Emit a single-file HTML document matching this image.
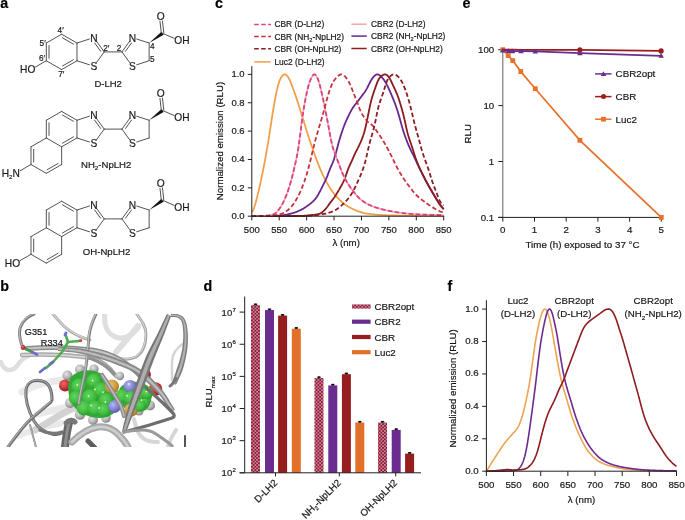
<!DOCTYPE html>
<html><head><meta charset="utf-8"><style>
html,body{margin:0;padding:0;background:#fff;}
svg{display:block;font-family:"Liberation Sans", sans-serif;will-change:transform;} text{stroke:currentColor;stroke-width:0.18px;}
</style></head><body>
<svg width="685" height="520" viewBox="0 0 685 520">
<rect width="685" height="520" fill="#fff"/>
<text x="0.30" y="7.90" font-size="14.3" text-anchor="start" font-weight="bold" fill="#000" >a</text>
<text x="215.00" y="7.90" font-size="14.3" text-anchor="start" font-weight="bold" fill="#000" >c</text>
<text x="462.60" y="7.90" font-size="14.3" text-anchor="start" font-weight="bold" fill="#000" >e</text>
<text x="0.30" y="291.10" font-size="14.3" text-anchor="start" font-weight="bold" fill="#000" >b</text>
<text x="203.60" y="291.10" font-size="14.3" text-anchor="start" font-weight="bold" fill="#000" >d</text>
<text x="447.60" y="291.10" font-size="14.3" text-anchor="start" font-weight="bold" fill="#000" >f</text>
<polyline points="251.80,212.34 252.07,211.94 252.35,211.51 252.62,211.04 252.90,210.53 253.17,209.97 253.45,209.37 253.72,208.72 254.00,208.01 254.27,207.26 254.55,206.45 254.82,205.60 255.09,204.71 255.37,203.77 255.64,202.80 255.92,201.79 256.19,200.76 256.47,199.70 256.74,198.62 257.02,197.52 257.29,196.41 257.57,195.28 257.84,194.15 258.11,193.00 258.39,191.85 258.66,190.68 258.94,189.51 259.21,188.33 259.49,187.13 259.76,185.93 260.04,184.71 260.31,183.47 260.59,182.22 260.86,180.96 261.13,179.68 261.41,178.39 261.68,177.08 261.96,175.76 262.23,174.42 262.51,173.07 262.78,171.71 263.06,170.33 263.33,168.95 263.61,167.55 263.88,166.13 264.15,164.71 264.43,163.27 264.70,161.82 264.98,160.35 265.25,158.87 265.53,157.38 265.80,155.87 266.08,154.34 266.35,152.80 266.62,151.25 266.90,149.67 267.17,148.08 267.45,146.48 267.72,144.85 268.00,143.21 268.27,141.54 268.55,139.86 268.82,138.15 269.10,136.43 269.37,134.68 269.64,132.92 269.92,131.14 270.19,129.35 270.47,127.54 270.74,125.73 271.02,123.92 271.29,122.11 271.57,120.30 271.84,118.51 272.12,116.73 272.39,114.97 272.66,113.23 272.94,111.51 273.21,109.81 273.49,108.14 273.76,106.50 274.04,104.88 274.31,103.30 274.59,101.74 274.86,100.21 275.14,98.71 275.41,97.25 275.68,95.83 275.96,94.45 276.23,93.11 276.51,91.82 276.78,90.58 277.06,89.38 277.33,88.24 277.61,87.15 277.88,86.10 278.16,85.11 278.43,84.17 278.70,83.28 278.98,82.43 279.25,81.64 279.53,80.89 279.80,80.19 280.08,79.54 280.35,78.93 280.63,78.38 280.90,77.86 281.18,77.38 281.45,76.94 281.72,76.54 282.00,76.18 282.27,75.84 282.55,75.54 282.82,75.28 283.10,75.04 283.37,74.84 283.65,74.68 283.92,74.55 284.20,74.46 284.47,74.41 284.74,74.40 285.02,74.43 285.29,74.50 285.57,74.60 285.84,74.74 286.12,74.92 286.39,75.13 286.67,75.38 286.94,75.65 287.22,75.95 287.49,76.28 287.76,76.64 288.04,77.03 288.31,77.45 288.59,77.89 288.86,78.37 289.14,78.88 289.41,79.42 289.69,79.99 289.96,80.58 290.23,81.21 290.51,81.86 290.78,82.53 291.06,83.21 291.33,83.91 291.61,84.63 291.88,85.35 292.16,86.08 292.43,86.81 292.71,87.55 292.98,88.29 293.25,89.04 293.53,89.79 293.80,90.54 294.08,91.30 294.35,92.07 294.63,92.84 294.90,93.62 295.18,94.41 295.45,95.20 295.73,96.00 296.00,96.81 296.27,97.62 296.55,98.44 296.82,99.27 297.10,100.11 297.37,100.95 297.65,101.80 297.92,102.66 298.20,103.52 298.47,104.39 298.75,105.26 299.02,106.14 299.29,107.02 299.57,107.90 299.84,108.79 300.12,109.68 300.39,110.56 300.67,111.45 300.94,112.34 301.22,113.23 301.49,114.12 301.77,115.00 302.04,115.89 302.31,116.77 302.59,117.66 302.86,118.54 303.14,119.43 303.41,120.31 303.69,121.20 303.96,122.08 304.24,122.96 304.51,123.85 304.79,124.73 305.06,125.61 305.33,126.49 305.61,127.37 305.88,128.25 306.16,129.12 306.43,129.99 306.71,130.86 306.98,131.73 307.26,132.59 307.53,133.45 307.81,134.31 308.08,135.16 308.35,136.01 308.63,136.85 308.90,137.69 309.18,138.53 309.45,139.37 309.73,140.20 310.00,141.03 310.28,141.85 310.55,142.67 310.83,143.49 311.10,144.31 311.37,145.12 311.65,145.92 311.92,146.73 312.20,147.53 312.47,148.32 312.75,149.11 313.02,149.90 313.30,150.68 313.57,151.46 313.84,152.23 314.12,153.00 314.39,153.77 314.67,154.53 314.94,155.29 315.22,156.05 315.49,156.80 315.77,157.55 316.04,158.30 316.32,159.04 316.59,159.78 316.86,160.52 317.14,161.25 317.41,161.97 317.69,162.69 317.96,163.41 318.24,164.11 318.51,164.81 318.79,165.51 319.06,166.19 319.34,166.87 319.61,167.54 319.88,168.20 320.16,168.86 320.43,169.50 320.71,170.14 320.98,170.77 321.26,171.39 321.53,172.00 321.81,172.60 322.08,173.20 322.36,173.79 322.63,174.38 322.90,174.95 323.18,175.52 323.45,176.09 323.73,176.64 324.00,177.20 324.28,177.74 324.55,178.28 324.83,178.81 325.10,179.34 325.38,179.86 325.65,180.38 325.92,180.89 326.20,181.39 326.47,181.89 326.75,182.39 327.02,182.88 327.30,183.36 327.57,183.84 327.85,184.32 328.12,184.79 328.40,185.26 328.67,185.72 328.94,186.18 329.22,186.63 329.49,187.08 329.77,187.52 330.04,187.95 330.32,188.38 330.59,188.81 330.87,189.23 331.14,189.64 331.42,190.05 331.69,190.45 331.96,190.85 332.24,191.24 332.51,191.62 332.79,192.00 333.06,192.37 333.34,192.73 333.61,193.09 333.89,193.45 334.16,193.80 334.44,194.15 334.71,194.49 334.98,194.82 335.26,195.15 335.53,195.48 335.81,195.81 336.08,196.12 336.36,196.44 336.63,196.75 336.91,197.06 337.18,197.36 337.45,197.66 337.73,197.95 338.00,198.24 338.28,198.53 338.55,198.81 338.83,199.09 339.10,199.37 339.38,199.65 339.65,199.92 339.93,200.18 340.20,200.45 340.47,200.71 340.75,200.97 341.02,201.22 341.30,201.47 341.57,201.72 341.85,201.97 342.12,202.21 342.40,202.45 342.67,202.68 342.95,202.91 343.22,203.14 343.49,203.36 343.77,203.57 344.04,203.79 344.32,203.99 344.59,204.20 344.87,204.40 345.14,204.59 345.42,204.78 345.69,204.97 345.97,205.15 346.24,205.33 346.51,205.51 346.79,205.68 347.06,205.86 347.34,206.03 347.61,206.20 347.89,206.36 348.16,206.53 348.44,206.69 348.71,206.85 348.99,207.01 349.26,207.17 349.53,207.32 349.81,207.48 350.08,207.63 350.36,207.78 350.63,207.93 350.91,208.07 351.18,208.22 351.46,208.36 351.73,208.50 352.01,208.64 352.28,208.78 352.55,208.91 352.83,209.05 353.10,209.18 353.38,209.31 353.65,209.43 353.93,209.56 354.20,209.68 354.48,209.80 354.75,209.92 355.03,210.04 355.30,210.16 355.57,210.27 355.85,210.38 356.12,210.49 356.40,210.60 356.67,210.71 356.95,210.81 357.22,210.91 357.50,211.01 357.77,211.11 358.05,211.21 358.32,211.31 358.59,211.41 358.87,211.50 359.14,211.60 359.42,211.69 359.69,211.78 359.97,211.87 360.24,211.96 360.52,212.05 360.79,212.14 361.06,212.23 361.34,212.31 361.61,212.40 361.89,212.48 362.16,212.56 362.44,212.64 362.71,212.71 362.99,212.79 363.26,212.86 363.54,212.93 363.81,213.00 364.08,213.07 364.36,213.13 364.63,213.19 364.91,213.25 365.18,213.31 365.46,213.36 365.73,213.41 366.01,213.46 366.28,213.51 366.56,213.56 366.83,213.60 367.10,213.64 367.38,213.68 367.65,213.72 367.93,213.76 368.20,213.79 368.48,213.83 368.75,213.86 369.03,213.90 369.30,213.93 369.58,213.96 369.85,213.99 370.12,214.03 370.40,214.06 370.67,214.09 370.95,214.12 371.22,214.15 371.50,214.18 371.77,214.21 372.05,214.24 372.32,214.27 372.60,214.30 372.87,214.32 373.14,214.35 373.42,214.38 373.69,214.41 373.97,214.43 374.24,214.46 374.52,214.48 374.79,214.51 375.07,214.53 375.34,214.56 375.62,214.58 375.89,214.61 376.16,214.63 376.44,214.66 376.71,214.68 376.99,214.70 377.26,214.72 377.54,214.75 377.81,214.77 378.09,214.79 378.36,214.81 378.64,214.83 378.91,214.85 379.18,214.87 379.46,214.89 379.73,214.91 380.01,214.93 380.28,214.94 380.56,214.96 380.83,214.98 381.11,215.00 381.38,215.01 381.66,215.03 381.93,215.05 382.20,215.06 382.48,215.08 382.75,215.09 383.03,215.11 383.30,215.12 383.58,215.14 383.85,215.15 384.13,215.16 384.40,215.18 384.67,215.19 384.95,215.20 385.22,215.21 385.50,215.23 385.77,215.24 386.05,215.25 386.32,215.26 386.60,215.27 386.87,215.28 387.15,215.29 387.42,215.30 387.69,215.31 387.97,215.32 388.24,215.32 388.52,215.33 388.79,215.34 389.07,215.35 389.34,215.36 389.62,215.36 389.89,215.37 390.17,215.38 390.44,215.39 390.71,215.39 390.99,215.40 391.26,215.41 391.54,215.41 391.81,215.42 392.09,215.43 392.36,215.43 392.64,215.44 392.91,215.44 393.19,215.45 393.46,215.46 393.73,215.46 394.01,215.47 394.28,215.47 394.56,215.48 394.83,215.49 395.11,215.49 395.38,215.50 395.66,215.50 395.93,215.51 396.21,215.51 396.48,215.52 396.75,215.52 397.03,215.53 397.30,215.54 397.58,215.54 397.85,215.55 398.13,215.55 398.40,215.56 398.68,215.56 398.95,215.56 399.23,215.57 399.50,215.57 399.77,215.58 400.05,215.58 400.32,215.59 400.60,215.59 400.87,215.60 401.15,215.60 401.42,215.61 401.70,215.61 401.97,215.61 402.25,215.62 402.52,215.62 402.79,215.63 403.07,215.63 403.34,215.63 403.62,215.64 403.89,215.64 404.17,215.65 404.44,215.65 404.72,215.65 404.99,215.66 405.27,215.66 405.54,215.66 405.81,215.67 406.09,215.67 406.36,215.67 406.64,215.68 406.91,215.68 407.19,215.68 407.46,215.69 407.74,215.69 408.01,215.69 408.28,215.70 408.56,215.70 408.83,215.70 409.11,215.71 409.38,215.71 409.66,215.71 409.93,215.72 410.21,215.72 410.48,215.72 410.76,215.72 411.03,215.73 411.30,215.73 411.58,215.73 411.85,215.73 412.13,215.74 412.40,215.74 412.68,215.74 412.95,215.74 413.23,215.75 413.50,215.75 413.78,215.75 414.05,215.75 414.32,215.76 414.60,215.76 414.87,215.76 415.15,215.76 415.42,215.77 415.70,215.77 415.97,215.77 416.25,215.77 416.52,215.77 416.80,215.78 417.07,215.78 417.34,215.78 417.62,215.78 417.89,215.79 418.17,215.79 418.44,215.79 418.72,215.79 418.99,215.79 419.27,215.80 419.54,215.80 419.82,215.80 420.09,215.80 420.36,215.80 420.64,215.81 420.91,215.81 421.19,215.81 421.46,215.81 421.74,215.81 422.01,215.82 422.29,215.82 422.56,215.82 422.84,215.82 423.11,215.82 423.38,215.83 423.66,215.83 423.93,215.83 424.21,215.83 424.48,215.83 424.76,215.84 425.03,215.84 425.31,215.84 425.58,215.84 425.86,215.84 426.13,215.85 426.40,215.85 426.68,215.85 426.95,215.85 427.23,215.85 427.50,215.86 427.78,215.86 428.05,215.86 428.33,215.86 428.60,215.86 428.88,215.86 429.15,215.87 429.42,215.87 429.70,215.87 429.97,215.87 430.25,215.87 430.52,215.87 430.80,215.88 431.07,215.88 431.35,215.88 431.62,215.88 431.89,215.88 432.17,215.88 432.44,215.88 432.72,215.89 432.99,215.89 433.27,215.89 433.54,215.89 433.82,215.89 434.09,215.89 434.37,215.89 434.64,215.89 434.91,215.90 435.19,215.90 435.46,215.90 435.74,215.90 436.01,215.90 436.29,215.90 436.56,215.90 436.84,215.90 437.11,215.90 437.39,215.90 437.66,215.91 437.93,215.91 438.21,215.91 438.48,215.91 438.76,215.91 439.03,215.91 439.31,215.91 439.58,215.91 439.86,215.91 440.13,215.91 440.41,215.91 440.68,215.91 440.95,215.91 441.23,215.91 441.50,215.91 441.78,215.91 442.05,215.91 442.33,215.91 442.60,215.91 442.88,215.91 443.15,215.91 443.43,215.91 443.70,215.92" fill="none" stroke="#f0a04b" stroke-width="1.8" stroke-linejoin="round"/>
<polyline points="251.80,216.20 252.07,216.20 252.35,216.20 252.62,216.20 252.90,216.20 253.17,216.20 253.45,216.20 253.72,216.20 254.00,216.19 254.27,216.19 254.55,216.19 254.82,216.19 255.09,216.19 255.37,216.19 255.64,216.19 255.92,216.19 256.19,216.18 256.47,216.18 256.74,216.18 257.02,216.18 257.29,216.18 257.57,216.17 257.84,216.17 258.11,216.17 258.39,216.17 258.66,216.16 258.94,216.16 259.21,216.16 259.49,216.15 259.76,216.15 260.04,216.15 260.31,216.14 260.59,216.14 260.86,216.14 261.13,216.13 261.41,216.13 261.68,216.12 261.96,216.12 262.23,216.12 262.51,216.11 262.78,216.11 263.06,216.10 263.33,216.10 263.61,216.09 263.88,216.09 264.15,216.08 264.43,216.08 264.70,216.07 264.98,216.07 265.25,216.06 265.53,216.05 265.80,216.05 266.08,216.04 266.35,216.04 266.62,216.03 266.90,216.02 267.17,216.02 267.45,216.01 267.72,216.01 268.00,216.00 268.27,215.99 268.55,215.99 268.82,215.98 269.10,215.97 269.37,215.96 269.64,215.96 269.92,215.95 270.19,215.94 270.47,215.93 270.74,215.93 271.02,215.92 271.29,215.91 271.57,215.90 271.84,215.89 272.12,215.89 272.39,215.88 272.66,215.87 272.94,215.86 273.21,215.85 273.49,215.84 273.76,215.83 274.04,215.82 274.31,215.81 274.59,215.80 274.86,215.80 275.14,215.79 275.41,215.78 275.68,215.77 275.96,215.76 276.23,215.75 276.51,215.74 276.78,215.73 277.06,215.71 277.33,215.70 277.61,215.69 277.88,215.68 278.16,215.67 278.43,215.66 278.70,215.64 278.98,215.63 279.25,215.61 279.53,215.60 279.80,215.58 280.08,215.56 280.35,215.54 280.63,215.52 280.90,215.49 281.18,215.47 281.45,215.44 281.72,215.41 282.00,215.38 282.27,215.35 282.55,215.31 282.82,215.27 283.10,215.23 283.37,215.19 283.65,215.15 283.92,215.11 284.20,215.06 284.47,215.02 284.74,214.97 285.02,214.92 285.29,214.87 285.57,214.82 285.84,214.77 286.12,214.71 286.39,214.66 286.67,214.60 286.94,214.54 287.22,214.49 287.49,214.43 287.76,214.37 288.04,214.31 288.31,214.24 288.59,214.18 288.86,214.12 289.14,214.06 289.41,213.99 289.69,213.93 289.96,213.86 290.23,213.80 290.51,213.73 290.78,213.66 291.06,213.59 291.33,213.52 291.61,213.45 291.88,213.38 292.16,213.30 292.43,213.23 292.71,213.15 292.98,213.07 293.25,212.99 293.53,212.90 293.80,212.82 294.08,212.73 294.35,212.64 294.63,212.54 294.90,212.45 295.18,212.35 295.45,212.25 295.73,212.15 296.00,212.04 296.27,211.94 296.55,211.83 296.82,211.72 297.10,211.61 297.37,211.50 297.65,211.38 297.92,211.27 298.20,211.15 298.47,211.03 298.75,210.91 299.02,210.78 299.29,210.66 299.57,210.53 299.84,210.40 300.12,210.27 300.39,210.14 300.67,210.01 300.94,209.87 301.22,209.73 301.49,209.59 301.77,209.45 302.04,209.30 302.31,209.15 302.59,209.00 302.86,208.85 303.14,208.69 303.41,208.52 303.69,208.36 303.96,208.19 304.24,208.02 304.51,207.85 304.79,207.67 305.06,207.49 305.33,207.31 305.61,207.12 305.88,206.93 306.16,206.75 306.43,206.55 306.71,206.36 306.98,206.16 307.26,205.97 307.53,205.77 307.81,205.57 308.08,205.37 308.35,205.16 308.63,204.96 308.90,204.75 309.18,204.55 309.45,204.34 309.73,204.13 310.00,203.91 310.28,203.70 310.55,203.49 310.83,203.27 311.10,203.05 311.37,202.82 311.65,202.59 311.92,202.36 312.20,202.12 312.47,201.88 312.75,201.64 313.02,201.38 313.30,201.13 313.57,200.86 313.84,200.59 314.12,200.30 314.39,200.01 314.67,199.71 314.94,199.40 315.22,199.07 315.49,198.74 315.77,198.38 316.04,198.02 316.32,197.63 316.59,197.24 316.86,196.82 317.14,196.39 317.41,195.95 317.69,195.49 317.96,195.03 318.24,194.55 318.51,194.06 318.79,193.56 319.06,193.06 319.34,192.55 319.61,192.03 319.88,191.51 320.16,190.99 320.43,190.46 320.71,189.93 320.98,189.39 321.26,188.85 321.53,188.31 321.81,187.76 322.08,187.22 322.36,186.67 322.63,186.12 322.90,185.57 323.18,185.01 323.45,184.46 323.73,183.91 324.00,183.36 324.28,182.80 324.55,182.25 324.83,181.68 325.10,181.11 325.38,180.54 325.65,179.94 325.92,179.34 326.20,178.72 326.47,178.08 326.75,177.42 327.02,176.74 327.30,176.05 327.57,175.34 327.85,174.62 328.12,173.89 328.40,173.16 328.67,172.43 328.94,171.71 329.22,170.99 329.49,170.29 329.77,169.60 330.04,168.92 330.32,168.26 330.59,167.60 330.87,166.96 331.14,166.32 331.42,165.68 331.69,165.04 331.96,164.40 332.24,163.75 332.51,163.08 332.79,162.40 333.06,161.70 333.34,160.97 333.61,160.22 333.89,159.44 334.16,158.63 334.44,157.80 334.71,156.93 334.98,156.04 335.26,155.12 335.53,154.18 335.81,153.21 336.08,152.23 336.36,151.23 336.63,150.22 336.91,149.20 337.18,148.17 337.45,147.15 337.73,146.12 338.00,145.10 338.28,144.09 338.55,143.09 338.83,142.10 339.10,141.12 339.38,140.16 339.65,139.22 339.93,138.30 340.20,137.39 340.47,136.49 340.75,135.61 341.02,134.75 341.30,133.90 341.57,133.06 341.85,132.23 342.12,131.41 342.40,130.61 342.67,129.81 342.95,129.03 343.22,128.26 343.49,127.50 343.77,126.75 344.04,126.01 344.32,125.29 344.59,124.59 344.87,123.89 345.14,123.22 345.42,122.55 345.69,121.91 345.97,121.27 346.24,120.65 346.51,120.05 346.79,119.45 347.06,118.87 347.34,118.29 347.61,117.72 347.89,117.15 348.16,116.58 348.44,116.02 348.71,115.46 348.99,114.89 349.26,114.33 349.53,113.77 349.81,113.21 350.08,112.66 350.36,112.12 350.63,111.59 350.91,111.06 351.18,110.55 351.46,110.06 351.73,109.58 352.01,109.12 352.28,108.68 352.55,108.25 352.83,107.83 353.10,107.43 353.38,107.03 353.65,106.65 353.93,106.28 354.20,105.91 354.48,105.55 354.75,105.19 355.03,104.84 355.30,104.49 355.57,104.14 355.85,103.79 356.12,103.44 356.40,103.08 356.67,102.73 356.95,102.38 357.22,102.02 357.50,101.66 357.77,101.30 358.05,100.94 358.32,100.58 358.59,100.22 358.87,99.86 359.14,99.50 359.42,99.13 359.69,98.77 359.97,98.41 360.24,98.04 360.52,97.68 360.79,97.32 361.06,96.95 361.34,96.59 361.61,96.23 361.89,95.86 362.16,95.50 362.44,95.14 362.71,94.78 362.99,94.41 363.26,94.05 363.54,93.68 363.81,93.31 364.08,92.93 364.36,92.55 364.63,92.16 364.91,91.76 365.18,91.35 365.46,90.93 365.73,90.50 366.01,90.05 366.28,89.59 366.56,89.11 366.83,88.61 367.10,88.10 367.38,87.57 367.65,87.02 367.93,86.47 368.20,85.91 368.48,85.34 368.75,84.77 369.03,84.21 369.30,83.65 369.58,83.09 369.85,82.56 370.12,82.03 370.40,81.53 370.67,81.04 370.95,80.57 371.22,80.12 371.50,79.68 371.77,79.26 372.05,78.86 372.32,78.47 372.60,78.10 372.87,77.74 373.14,77.39 373.42,77.05 373.69,76.73 373.97,76.42 374.24,76.13 374.52,75.85 374.79,75.60 375.07,75.36 375.34,75.15 375.62,74.96 375.89,74.80 376.16,74.66 376.44,74.55 376.71,74.47 376.99,74.42 377.26,74.40 377.54,74.41 377.81,74.44 378.09,74.50 378.36,74.58 378.64,74.69 378.91,74.82 379.18,74.98 379.46,75.15 379.73,75.34 380.01,75.56 380.28,75.78 380.56,76.02 380.83,76.28 381.11,76.55 381.38,76.83 381.66,77.12 381.93,77.42 382.20,77.72 382.48,78.04 382.75,78.37 383.03,78.70 383.30,79.05 383.58,79.40 383.85,79.77 384.13,80.15 384.40,80.55 384.67,80.96 384.95,81.39 385.22,81.83 385.50,82.29 385.77,82.77 386.05,83.26 386.32,83.77 386.60,84.30 386.87,84.83 387.15,85.38 387.42,85.94 387.69,86.50 387.97,87.07 388.24,87.65 388.52,88.23 388.79,88.82 389.07,89.42 389.34,90.01 389.62,90.61 389.89,91.22 390.17,91.83 390.44,92.45 390.71,93.08 390.99,93.71 391.26,94.34 391.54,94.99 391.81,95.64 392.09,96.30 392.36,96.96 392.64,97.63 392.91,98.30 393.19,98.98 393.46,99.67 393.73,100.37 394.01,101.07 394.28,101.77 394.56,102.49 394.83,103.21 395.11,103.94 395.38,104.68 395.66,105.43 395.93,106.19 396.21,106.96 396.48,107.75 396.75,108.55 397.03,109.36 397.30,110.20 397.58,111.05 397.85,111.92 398.13,112.80 398.40,113.71 398.68,114.63 398.95,115.57 399.23,116.53 399.50,117.50 399.77,118.48 400.05,119.47 400.32,120.47 400.60,121.47 400.87,122.47 401.15,123.47 401.42,124.46 401.70,125.44 401.97,126.42 402.25,127.38 402.52,128.32 402.79,129.25 403.07,130.17 403.34,131.06 403.62,131.93 403.89,132.79 404.17,133.62 404.44,134.44 404.72,135.25 404.99,136.03 405.27,136.81 405.54,137.57 405.81,138.31 406.09,139.05 406.36,139.77 406.64,140.49 406.91,141.19 407.19,141.88 407.46,142.57 407.74,143.24 408.01,143.91 408.28,144.57 408.56,145.22 408.83,145.86 409.11,146.49 409.38,147.11 409.66,147.72 409.93,148.32 410.21,148.92 410.48,149.50 410.76,150.08 411.03,150.64 411.30,151.21 411.58,151.76 411.85,152.31 412.13,152.85 412.40,153.39 412.68,153.93 412.95,154.47 413.23,155.01 413.50,155.55 413.78,156.10 414.05,156.65 414.32,157.20 414.60,157.77 414.87,158.34 415.15,158.92 415.42,159.51 415.70,160.11 415.97,160.71 416.25,161.32 416.52,161.94 416.80,162.55 417.07,163.17 417.34,163.79 417.62,164.40 417.89,165.00 418.17,165.59 418.44,166.18 418.72,166.75 418.99,167.32 419.27,167.87 419.54,168.41 419.82,168.95 420.09,169.48 420.36,170.00 420.64,170.52 420.91,171.04 421.19,171.56 421.46,172.08 421.74,172.61 422.01,173.13 422.29,173.66 422.56,174.20 422.84,174.74 423.11,175.27 423.38,175.82 423.66,176.36 423.93,176.90 424.21,177.45 424.48,177.99 424.76,178.53 425.03,179.07 425.31,179.61 425.58,180.15 425.86,180.68 426.13,181.21 426.40,181.73 426.68,182.25 426.95,182.77 427.23,183.28 427.50,183.79 427.78,184.29 428.05,184.79 428.33,185.29 428.60,185.79 428.88,186.28 429.15,186.77 429.42,187.25 429.70,187.74 429.97,188.22 430.25,188.70 430.52,189.17 430.80,189.64 431.07,190.11 431.35,190.58 431.62,191.05 431.89,191.51 432.17,191.97 432.44,192.43 432.72,192.89 432.99,193.34 433.27,193.79 433.54,194.24 433.82,194.69 434.09,195.13 434.37,195.58 434.64,196.02 434.91,196.46 435.19,196.90 435.46,197.33 435.74,197.77 436.01,198.20 436.29,198.64 436.56,199.07 436.84,199.49 437.11,199.92 437.39,200.34 437.66,200.77 437.93,201.18 438.21,201.60 438.48,202.01 438.76,202.42 439.03,202.83 439.31,203.23 439.58,203.63 439.86,204.02 440.13,204.42 440.41,204.80 440.68,205.18 440.95,205.56 441.23,205.93 441.50,206.30 441.78,206.66 442.05,207.02 442.33,207.37 442.60,207.72 442.88,208.06 443.15,208.40 443.43,208.73 443.70,209.06" fill="none" stroke="#68288f" stroke-width="1.8" stroke-linejoin="round"/>
<polyline points="251.80,216.20 252.07,216.20 252.35,216.20 252.62,216.20 252.90,216.20 253.17,216.20 253.45,216.20 253.72,216.20 254.00,216.20 254.27,216.20 254.55,216.20 254.82,216.20 255.09,216.20 255.37,216.20 255.64,216.20 255.92,216.20 256.19,216.20 256.47,216.20 256.74,216.20 257.02,216.20 257.29,216.20 257.57,216.20 257.84,216.20 258.11,216.20 258.39,216.20 258.66,216.20 258.94,216.20 259.21,216.20 259.49,216.19 259.76,216.19 260.04,216.19 260.31,216.19 260.59,216.19 260.86,216.19 261.13,216.19 261.41,216.19 261.68,216.19 261.96,216.19 262.23,216.19 262.51,216.19 262.78,216.19 263.06,216.19 263.33,216.19 263.61,216.19 263.88,216.19 264.15,216.19 264.43,216.19 264.70,216.18 264.98,216.18 265.25,216.18 265.53,216.18 265.80,216.18 266.08,216.18 266.35,216.18 266.62,216.18 266.90,216.18 267.17,216.18 267.45,216.18 267.72,216.18 268.00,216.18 268.27,216.17 268.55,216.17 268.82,216.17 269.10,216.17 269.37,216.17 269.64,216.17 269.92,216.17 270.19,216.17 270.47,216.17 270.74,216.17 271.02,216.16 271.29,216.16 271.57,216.16 271.84,216.16 272.12,216.16 272.39,216.16 272.66,216.16 272.94,216.16 273.21,216.16 273.49,216.15 273.76,216.15 274.04,216.15 274.31,216.15 274.59,216.15 274.86,216.15 275.14,216.15 275.41,216.15 275.68,216.14 275.96,216.14 276.23,216.14 276.51,216.14 276.78,216.14 277.06,216.14 277.33,216.14 277.61,216.13 277.88,216.13 278.16,216.13 278.43,216.13 278.70,216.13 278.98,216.13 279.25,216.12 279.53,216.12 279.80,216.12 280.08,216.12 280.35,216.12 280.63,216.12 280.90,216.11 281.18,216.11 281.45,216.11 281.72,216.11 282.00,216.11 282.27,216.10 282.55,216.10 282.82,216.10 283.10,216.10 283.37,216.10 283.65,216.09 283.92,216.09 284.20,216.09 284.47,216.09 284.74,216.09 285.02,216.08 285.29,216.08 285.57,216.08 285.84,216.08 286.12,216.08 286.39,216.07 286.67,216.07 286.94,216.07 287.22,216.07 287.49,216.06 287.76,216.06 288.04,216.06 288.31,216.06 288.59,216.05 288.86,216.05 289.14,216.05 289.41,216.05 289.69,216.04 289.96,216.04 290.23,216.04 290.51,216.04 290.78,216.03 291.06,216.03 291.33,216.03 291.61,216.03 291.88,216.02 292.16,216.02 292.43,216.02 292.71,216.01 292.98,216.01 293.25,216.01 293.53,216.01 293.80,216.00 294.08,216.00 294.35,216.00 294.63,215.99 294.90,215.99 295.18,215.99 295.45,215.99 295.73,215.98 296.00,215.98 296.27,215.98 296.55,215.97 296.82,215.97 297.10,215.97 297.37,215.96 297.65,215.96 297.92,215.96 298.20,215.95 298.47,215.95 298.75,215.95 299.02,215.94 299.29,215.94 299.57,215.93 299.84,215.93 300.12,215.93 300.39,215.92 300.67,215.92 300.94,215.91 301.22,215.90 301.49,215.90 301.77,215.89 302.04,215.88 302.31,215.87 302.59,215.86 302.86,215.85 303.14,215.83 303.41,215.82 303.69,215.80 303.96,215.79 304.24,215.77 304.51,215.75 304.79,215.73 305.06,215.71 305.33,215.69 305.61,215.67 305.88,215.65 306.16,215.62 306.43,215.60 306.71,215.57 306.98,215.55 307.26,215.52 307.53,215.50 307.81,215.47 308.08,215.44 308.35,215.42 308.63,215.39 308.90,215.36 309.18,215.34 309.45,215.31 309.73,215.28 310.00,215.25 310.28,215.23 310.55,215.20 310.83,215.17 311.10,215.15 311.37,215.12 311.65,215.09 311.92,215.06 312.20,215.04 312.47,215.01 312.75,214.98 313.02,214.96 313.30,214.93 313.57,214.90 313.84,214.87 314.12,214.84 314.39,214.81 314.67,214.77 314.94,214.74 315.22,214.70 315.49,214.67 315.77,214.63 316.04,214.59 316.32,214.55 316.59,214.50 316.86,214.46 317.14,214.41 317.41,214.35 317.69,214.30 317.96,214.24 318.24,214.17 318.51,214.10 318.79,214.02 319.06,213.93 319.34,213.84 319.61,213.73 319.88,213.61 320.16,213.48 320.43,213.34 320.71,213.19 320.98,213.02 321.26,212.84 321.53,212.65 321.81,212.45 322.08,212.24 322.36,212.02 322.63,211.80 322.90,211.57 323.18,211.33 323.45,211.09 323.73,210.83 324.00,210.58 324.28,210.31 324.55,210.04 324.83,209.76 325.10,209.47 325.38,209.18 325.65,208.87 325.92,208.56 326.20,208.23 326.47,207.90 326.75,207.55 327.02,207.19 327.30,206.82 327.57,206.44 327.85,206.06 328.12,205.67 328.40,205.28 328.67,204.89 328.94,204.50 329.22,204.11 329.49,203.73 329.77,203.35 330.04,202.98 330.32,202.61 330.59,202.25 330.87,201.90 331.14,201.55 331.42,201.20 331.69,200.85 331.96,200.50 332.24,200.15 332.51,199.80 332.79,199.44 333.06,199.08 333.34,198.71 333.61,198.34 333.89,197.96 334.16,197.57 334.44,197.18 334.71,196.78 334.98,196.37 335.26,195.95 335.53,195.53 335.81,195.11 336.08,194.67 336.36,194.24 336.63,193.79 336.91,193.35 337.18,192.89 337.45,192.44 337.73,191.98 338.00,191.52 338.28,191.05 338.55,190.58 338.83,190.11 339.10,189.63 339.38,189.15 339.65,188.67 339.93,188.19 340.20,187.71 340.47,187.22 340.75,186.73 341.02,186.24 341.30,185.75 341.57,185.24 341.85,184.74 342.12,184.22 342.40,183.70 342.67,183.16 342.95,182.62 343.22,182.06 343.49,181.48 343.77,180.89 344.04,180.27 344.32,179.64 344.59,178.98 344.87,178.29 345.14,177.58 345.42,176.85 345.69,176.09 345.97,175.31 346.24,174.52 346.51,173.71 346.79,172.91 347.06,172.10 347.34,171.31 347.61,170.53 347.89,169.77 348.16,169.04 348.44,168.33 348.71,167.65 348.99,166.99 349.26,166.36 349.53,165.75 349.81,165.16 350.08,164.57 350.36,164.00 350.63,163.42 350.91,162.84 351.18,162.26 351.46,161.66 351.73,161.06 352.01,160.45 352.28,159.82 352.55,159.19 352.83,158.55 353.10,157.90 353.38,157.26 353.65,156.62 353.93,155.98 354.20,155.36 354.48,154.75 354.75,154.15 355.03,153.57 355.30,152.99 355.57,152.43 355.85,151.88 356.12,151.34 356.40,150.81 356.67,150.28 356.95,149.75 357.22,149.22 357.50,148.69 357.77,148.15 358.05,147.62 358.32,147.07 358.59,146.52 358.87,145.96 359.14,145.39 359.42,144.81 359.69,144.22 359.97,143.62 360.24,143.01 360.52,142.39 360.79,141.76 361.06,141.12 361.34,140.46 361.61,139.79 361.89,139.11 362.16,138.40 362.44,137.67 362.71,136.92 362.99,136.15 363.26,135.34 363.54,134.51 363.81,133.64 364.08,132.73 364.36,131.79 364.63,130.80 364.91,129.77 365.18,128.71 365.46,127.59 365.73,126.44 366.01,125.25 366.28,124.02 366.56,122.75 366.83,121.45 367.10,120.13 367.38,118.77 367.65,117.40 367.93,116.02 368.20,114.63 368.48,113.24 368.75,111.86 369.03,110.49 369.30,109.14 369.58,107.82 369.85,106.53 370.12,105.27 370.40,104.06 370.67,102.88 370.95,101.75 371.22,100.65 371.50,99.60 371.77,98.59 372.05,97.62 372.32,96.69 372.60,95.78 372.87,94.90 373.14,94.05 373.42,93.22 373.69,92.40 373.97,91.60 374.24,90.80 374.52,90.01 374.79,89.23 375.07,88.44 375.34,87.66 375.62,86.88 375.89,86.11 376.16,85.34 376.44,84.58 376.71,83.84 376.99,83.12 377.26,82.43 377.54,81.76 377.81,81.13 378.09,80.54 378.36,79.99 378.64,79.48 378.91,79.01 379.18,78.57 379.46,78.17 379.73,77.81 380.01,77.47 380.28,77.15 380.56,76.86 380.83,76.59 381.11,76.33 381.38,76.09 381.66,75.87 381.93,75.65 382.20,75.46 382.48,75.27 382.75,75.10 383.03,74.95 383.30,74.81 383.58,74.69 383.85,74.59 384.13,74.51 384.40,74.45 384.67,74.41 384.95,74.40 385.22,74.41 385.50,74.45 385.77,74.52 386.05,74.62 386.32,74.74 386.60,74.90 386.87,75.08 387.15,75.29 387.42,75.53 387.69,75.80 387.97,76.09 388.24,76.40 388.52,76.74 388.79,77.11 389.07,77.50 389.34,77.92 389.62,78.37 389.89,78.83 390.17,79.33 390.44,79.84 390.71,80.38 390.99,80.93 391.26,81.50 391.54,82.08 391.81,82.67 392.09,83.26 392.36,83.86 392.64,84.45 392.91,85.04 393.19,85.63 393.46,86.22 393.73,86.81 394.01,87.39 394.28,87.97 394.56,88.55 394.83,89.14 395.11,89.72 395.38,90.32 395.66,90.92 395.93,91.53 396.21,92.15 396.48,92.79 396.75,93.44 397.03,94.11 397.30,94.81 397.58,95.52 397.85,96.26 398.13,97.02 398.40,97.80 398.68,98.61 398.95,99.44 399.23,100.28 399.50,101.15 399.77,102.04 400.05,102.94 400.32,103.84 400.60,104.76 400.87,105.69 401.15,106.62 401.42,107.57 401.70,108.52 401.97,109.48 402.25,110.46 402.52,111.45 402.79,112.47 403.07,113.51 403.34,114.59 403.62,115.70 403.89,116.84 404.17,118.02 404.44,119.23 404.72,120.46 404.99,121.72 405.27,122.99 405.54,124.26 405.81,125.54 406.09,126.79 406.36,128.03 406.64,129.23 406.91,130.40 407.19,131.53 407.46,132.62 407.74,133.66 408.01,134.66 408.28,135.62 408.56,136.55 408.83,137.44 409.11,138.30 409.38,139.14 409.66,139.96 409.93,140.77 410.21,141.57 410.48,142.37 410.76,143.16 411.03,143.96 411.30,144.76 411.58,145.58 411.85,146.40 412.13,147.24 412.40,148.09 412.68,148.96 412.95,149.83 413.23,150.71 413.50,151.60 413.78,152.49 414.05,153.37 414.32,154.24 414.60,155.11 414.87,155.96 415.15,156.79 415.42,157.60 415.70,158.38 415.97,159.15 416.25,159.90 416.52,160.62 416.80,161.33 417.07,162.02 417.34,162.70 417.62,163.36 417.89,164.01 418.17,164.66 418.44,165.29 418.72,165.92 418.99,166.55 419.27,167.17 419.54,167.78 419.82,168.40 420.09,169.01 420.36,169.61 420.64,170.21 420.91,170.81 421.19,171.41 421.46,171.99 421.74,172.58 422.01,173.15 422.29,173.72 422.56,174.29 422.84,174.85 423.11,175.41 423.38,175.96 423.66,176.51 423.93,177.05 424.21,177.59 424.48,178.12 424.76,178.66 425.03,179.18 425.31,179.71 425.58,180.23 425.86,180.75 426.13,181.27 426.40,181.78 426.68,182.29 426.95,182.80 427.23,183.30 427.50,183.80 427.78,184.30 428.05,184.80 428.33,185.29 428.60,185.78 428.88,186.27 429.15,186.76 429.42,187.24 429.70,187.72 429.97,188.20 430.25,188.68 430.52,189.15 430.80,189.62 431.07,190.09 431.35,190.56 431.62,191.03 431.89,191.49 432.17,191.96 432.44,192.42 432.72,192.88 432.99,193.34 433.27,193.81 433.54,194.27 433.82,194.73 434.09,195.20 434.37,195.66 434.64,196.13 434.91,196.60 435.19,197.07 435.46,197.54 435.74,198.01 436.01,198.48 436.29,198.95 436.56,199.42 436.84,199.89 437.11,200.35 437.39,200.81 437.66,201.27 437.93,201.73 438.21,202.18 438.48,202.62 438.76,203.05 439.03,203.48 439.31,203.90 439.58,204.31 439.86,204.71 440.13,205.09 440.41,205.47 440.68,205.83 440.95,206.18 441.23,206.52 441.50,206.85 441.78,207.16 442.05,207.46 442.33,207.75 442.60,208.02 442.88,208.29 443.15,208.54 443.43,208.79 443.70,209.03" fill="none" stroke="#8b1c1f" stroke-width="1.8" stroke-linejoin="round"/>
<polyline points="251.80,216.20 252.07,216.20 252.35,216.20 252.62,216.20 252.90,216.19 253.17,216.19 253.45,216.19 253.72,216.19 254.00,216.19 254.27,216.18 254.55,216.18 254.82,216.18 255.09,216.17 255.37,216.17 255.64,216.16 255.92,216.16 256.19,216.16 256.47,216.15 256.74,216.14 257.02,216.14 257.29,216.13 257.57,216.13 257.84,216.12 258.11,216.11 258.39,216.10 258.66,216.10 258.94,216.09 259.21,216.08 259.49,216.07 259.76,216.06 260.04,216.05 260.31,216.04 260.59,216.03 260.86,216.02 261.13,216.01 261.41,216.00 261.68,215.99 261.96,215.98 262.23,215.97 262.51,215.95 262.78,215.94 263.06,215.93 263.33,215.92 263.61,215.90 263.88,215.89 264.15,215.87 264.43,215.86 264.70,215.84 264.98,215.83 265.25,215.81 265.53,215.80 265.80,215.78 266.08,215.76 266.35,215.75 266.62,215.73 266.90,215.71 267.17,215.69 267.45,215.67 267.72,215.64 268.00,215.62 268.27,215.59 268.55,215.56 268.82,215.53 269.10,215.49 269.37,215.45 269.64,215.40 269.92,215.35 270.19,215.30 270.47,215.24 270.74,215.18 271.02,215.11 271.29,215.03 271.57,214.96 271.84,214.87 272.12,214.79 272.39,214.70 272.66,214.60 272.94,214.50 273.21,214.39 273.49,214.28 273.76,214.16 274.04,214.04 274.31,213.91 274.59,213.76 274.86,213.61 275.14,213.45 275.41,213.27 275.68,213.07 275.96,212.86 276.23,212.64 276.51,212.39 276.78,212.13 277.06,211.85 277.33,211.55 277.61,211.23 277.88,210.90 278.16,210.55 278.43,210.19 278.70,209.82 278.98,209.43 279.25,209.04 279.53,208.63 279.80,208.22 280.08,207.79 280.35,207.36 280.63,206.93 280.90,206.48 281.18,206.02 281.45,205.56 281.72,205.09 282.00,204.60 282.27,204.11 282.55,203.60 282.82,203.09 283.10,202.56 283.37,202.01 283.65,201.46 283.92,200.89 284.20,200.31 284.47,199.72 284.74,199.11 285.02,198.50 285.29,197.86 285.57,197.22 285.84,196.56 286.12,195.88 286.39,195.19 286.67,194.48 286.94,193.76 287.22,193.02 287.49,192.26 287.76,191.48 288.04,190.69 288.31,189.88 288.59,189.06 288.86,188.21 289.14,187.35 289.41,186.47 289.69,185.58 289.96,184.67 290.23,183.74 290.51,182.80 290.78,181.84 291.06,180.86 291.33,179.86 291.61,178.85 291.88,177.81 292.16,176.76 292.43,175.69 292.71,174.59 292.98,173.48 293.25,172.35 293.53,171.21 293.80,170.05 294.08,168.89 294.35,167.71 294.63,166.52 294.90,165.32 295.18,164.12 295.45,162.90 295.73,161.68 296.00,160.43 296.27,159.17 296.55,157.87 296.82,156.54 297.10,155.17 297.37,153.73 297.65,152.24 297.92,150.66 298.20,149.01 298.47,147.27 298.75,145.45 299.02,143.54 299.29,141.55 299.57,139.49 299.84,137.38 300.12,135.22 300.39,133.03 300.67,130.83 300.94,128.64 301.22,126.46 301.49,124.32 301.77,122.21 302.04,120.16 302.31,118.17 302.59,116.23 302.86,114.35 303.14,112.52 303.41,110.76 303.69,109.05 303.96,107.38 304.24,105.77 304.51,104.20 304.79,102.67 305.06,101.18 305.33,99.73 305.61,98.32 305.88,96.94 306.16,95.60 306.43,94.30 306.71,93.02 306.98,91.78 307.26,90.58 307.53,89.42 307.81,88.30 308.08,87.22 308.35,86.18 308.63,85.19 308.90,84.25 309.18,83.36 309.45,82.52 309.73,81.72 310.00,80.97 310.28,80.26 310.55,79.59 310.83,78.96 311.10,78.36 311.37,77.80 311.65,77.28 311.92,76.79 312.20,76.33 312.47,75.92 312.75,75.55 313.02,75.22 313.30,74.94 313.57,74.72 313.84,74.55 314.12,74.45 314.39,74.40 314.67,74.42 314.94,74.50 315.22,74.65 315.49,74.86 315.77,75.14 316.04,75.48 316.32,75.87 316.59,76.32 316.86,76.82 317.14,77.37 317.41,77.97 317.69,78.61 317.96,79.30 318.24,80.04 318.51,80.83 318.79,81.67 319.06,82.55 319.34,83.48 319.61,84.45 319.88,85.47 320.16,86.52 320.43,87.61 320.71,88.73 320.98,89.88 321.26,91.05 321.53,92.24 321.81,93.44 322.08,94.66 322.36,95.89 322.63,97.13 322.90,98.38 323.18,99.65 323.45,100.92 323.73,102.20 324.00,103.50 324.28,104.80 324.55,106.12 324.83,107.45 325.10,108.79 325.38,110.15 325.65,111.51 325.92,112.89 326.20,114.28 326.47,115.69 326.75,117.11 327.02,118.55 327.30,120.01 327.57,121.48 327.85,122.96 328.12,124.46 328.40,125.97 328.67,127.48 328.94,128.99 329.22,130.50 329.49,132.00 329.77,133.48 330.04,134.94 330.32,136.36 330.59,137.76 330.87,139.11 331.14,140.42 331.42,141.67 331.69,142.88 331.96,144.03 332.24,145.13 332.51,146.18 332.79,147.19 333.06,148.14 333.34,149.05 333.61,149.92 333.89,150.76 334.16,151.57 334.44,152.35 334.71,153.11 334.98,153.85 335.26,154.58 335.53,155.29 335.81,156.00 336.08,156.71 336.36,157.41 336.63,158.11 336.91,158.82 337.18,159.53 337.45,160.24 337.73,160.95 338.00,161.67 338.28,162.39 338.55,163.12 338.83,163.85 339.10,164.58 339.38,165.31 339.65,166.04 339.93,166.76 340.20,167.48 340.47,168.20 340.75,168.92 341.02,169.62 341.30,170.32 341.57,171.01 341.85,171.69 342.12,172.35 342.40,173.01 342.67,173.65 342.95,174.28 343.22,174.90 343.49,175.50 343.77,176.09 344.04,176.67 344.32,177.23 344.59,177.78 344.87,178.31 345.14,178.84 345.42,179.36 345.69,179.86 345.97,180.36 346.24,180.85 346.51,181.33 346.79,181.80 347.06,182.27 347.34,182.72 347.61,183.18 347.89,183.62 348.16,184.06 348.44,184.49 348.71,184.92 348.99,185.34 349.26,185.75 349.53,186.16 349.81,186.57 350.08,186.97 350.36,187.37 350.63,187.76 350.91,188.14 351.18,188.53 351.46,188.90 351.73,189.28 352.01,189.65 352.28,190.02 352.55,190.39 352.83,190.75 353.10,191.11 353.38,191.47 353.65,191.82 353.93,192.17 354.20,192.52 354.48,192.87 354.75,193.21 355.03,193.55 355.30,193.88 355.57,194.21 355.85,194.54 356.12,194.86 356.40,195.18 356.67,195.49 356.95,195.80 357.22,196.10 357.50,196.40 357.77,196.69 358.05,196.98 358.32,197.26 358.59,197.53 358.87,197.80 359.14,198.06 359.42,198.32 359.69,198.57 359.97,198.81 360.24,199.05 360.52,199.28 360.79,199.51 361.06,199.74 361.34,199.95 361.61,200.17 361.89,200.38 362.16,200.59 362.44,200.79 362.71,201.00 362.99,201.19 363.26,201.39 363.54,201.58 363.81,201.77 364.08,201.95 364.36,202.14 364.63,202.32 364.91,202.49 365.18,202.67 365.46,202.84 365.73,203.00 366.01,203.17 366.28,203.33 366.56,203.49 366.83,203.64 367.10,203.80 367.38,203.95 367.65,204.09 367.93,204.24 368.20,204.38 368.48,204.52 368.75,204.65 369.03,204.78 369.30,204.91 369.58,205.04 369.85,205.17 370.12,205.29 370.40,205.41 370.67,205.53 370.95,205.64 371.22,205.76 371.50,205.87 371.77,205.98 372.05,206.09 372.32,206.20 372.60,206.31 372.87,206.41 373.14,206.52 373.42,206.62 373.69,206.72 373.97,206.82 374.24,206.92 374.52,207.01 374.79,207.11 375.07,207.20 375.34,207.30 375.62,207.39 375.89,207.48 376.16,207.57 376.44,207.66 376.71,207.74 376.99,207.83 377.26,207.92 377.54,208.00 377.81,208.09 378.09,208.17 378.36,208.25 378.64,208.33 378.91,208.41 379.18,208.49 379.46,208.57 379.73,208.65 380.01,208.73 380.28,208.80 380.56,208.88 380.83,208.96 381.11,209.03 381.38,209.11 381.66,209.18 381.93,209.25 382.20,209.33 382.48,209.40 382.75,209.47 383.03,209.54 383.30,209.61 383.58,209.68 383.85,209.74 384.13,209.81 384.40,209.88 384.67,209.94 384.95,210.01 385.22,210.07 385.50,210.13 385.77,210.20 386.05,210.26 386.32,210.32 386.60,210.38 386.87,210.44 387.15,210.50 387.42,210.55 387.69,210.61 387.97,210.67 388.24,210.72 388.52,210.78 388.79,210.83 389.07,210.89 389.34,210.94 389.62,210.99 389.89,211.05 390.17,211.10 390.44,211.15 390.71,211.20 390.99,211.25 391.26,211.31 391.54,211.36 391.81,211.41 392.09,211.46 392.36,211.51 392.64,211.56 392.91,211.60 393.19,211.65 393.46,211.70 393.73,211.75 394.01,211.80 394.28,211.84 394.56,211.89 394.83,211.94 395.11,211.98 395.38,212.03 395.66,212.08 395.93,212.12 396.21,212.16 396.48,212.21 396.75,212.25 397.03,212.29 397.30,212.34 397.58,212.38 397.85,212.42 398.13,212.46 398.40,212.50 398.68,212.54 398.95,212.58 399.23,212.62 399.50,212.66 399.77,212.70 400.05,212.74 400.32,212.77 400.60,212.81 400.87,212.84 401.15,212.88 401.42,212.91 401.70,212.95 401.97,212.98 402.25,213.02 402.52,213.05 402.79,213.08 403.07,213.11 403.34,213.14 403.62,213.18 403.89,213.21 404.17,213.24 404.44,213.27 404.72,213.30 404.99,213.33 405.27,213.36 405.54,213.39 405.81,213.42 406.09,213.45 406.36,213.47 406.64,213.50 406.91,213.53 407.19,213.56 407.46,213.59 407.74,213.61 408.01,213.64 408.28,213.67 408.56,213.69 408.83,213.72 409.11,213.74 409.38,213.77 409.66,213.79 409.93,213.82 410.21,213.84 410.48,213.87 410.76,213.89 411.03,213.91 411.30,213.93 411.58,213.96 411.85,213.98 412.13,214.00 412.40,214.02 412.68,214.04 412.95,214.06 413.23,214.08 413.50,214.09 413.78,214.11 414.05,214.13 414.32,214.15 414.60,214.16 414.87,214.18 415.15,214.19 415.42,214.21 415.70,214.23 415.97,214.24 416.25,214.25 416.52,214.27 416.80,214.28 417.07,214.30 417.34,214.31 417.62,214.32 417.89,214.33 418.17,214.35 418.44,214.36 418.72,214.37 418.99,214.38 419.27,214.40 419.54,214.41 419.82,214.42 420.09,214.43 420.36,214.44 420.64,214.45 420.91,214.47 421.19,214.48 421.46,214.49 421.74,214.50 422.01,214.51 422.29,214.52 422.56,214.53 422.84,214.54 423.11,214.55 423.38,214.56 423.66,214.57 423.93,214.58 424.21,214.59 424.48,214.60 424.76,214.61 425.03,214.62 425.31,214.63 425.58,214.64 425.86,214.64 426.13,214.65 426.40,214.66 426.68,214.67 426.95,214.68 427.23,214.69 427.50,214.70 427.78,214.71 428.05,214.71 428.33,214.72 428.60,214.73 428.88,214.74 429.15,214.75 429.42,214.76 429.70,214.76 429.97,214.77 430.25,214.78 430.52,214.79 430.80,214.80 431.07,214.81 431.35,214.81 431.62,214.82 431.89,214.83 432.17,214.84 432.44,214.85 432.72,214.85 432.99,214.86 433.27,214.87 433.54,214.88 433.82,214.89 434.09,214.90 434.37,214.90 434.64,214.91 434.91,214.92 435.19,214.93 435.46,214.94 435.74,214.94 436.01,214.95 436.29,214.96 436.56,214.97 436.84,214.98 437.11,214.99 437.39,215.00 437.66,215.00 437.93,215.01 438.21,215.02 438.48,215.03 438.76,215.04 439.03,215.05 439.31,215.06 439.58,215.07 439.86,215.08 440.13,215.09 440.41,215.09 440.68,215.10 440.95,215.11 441.23,215.12 441.50,215.13 441.78,215.14 442.05,215.15 442.33,215.16 442.60,215.17 442.88,215.17 443.15,215.18 443.43,215.19 443.70,215.20" fill="none" stroke="#f4a6a6" stroke-width="1.6" stroke-linejoin="round"/>
<polyline points="251.80,216.20 252.07,216.20 252.35,216.20 252.62,216.20 252.90,216.19 253.17,216.19 253.45,216.19 253.72,216.19 254.00,216.19 254.27,216.18 254.55,216.18 254.82,216.18 255.09,216.17 255.37,216.17 255.64,216.16 255.92,216.16 256.19,216.16 256.47,216.15 256.74,216.14 257.02,216.14 257.29,216.13 257.57,216.13 257.84,216.12 258.11,216.11 258.39,216.10 258.66,216.10 258.94,216.09 259.21,216.08 259.49,216.07 259.76,216.06 260.04,216.05 260.31,216.04 260.59,216.03 260.86,216.02 261.13,216.01 261.41,216.00 261.68,215.99 261.96,215.98 262.23,215.97 262.51,215.95 262.78,215.94 263.06,215.93 263.33,215.92 263.61,215.90 263.88,215.89 264.15,215.87 264.43,215.86 264.70,215.84 264.98,215.83 265.25,215.81 265.53,215.80 265.80,215.78 266.08,215.76 266.35,215.75 266.62,215.73 266.90,215.71 267.17,215.69 267.45,215.67 267.72,215.64 268.00,215.62 268.27,215.59 268.55,215.56 268.82,215.53 269.10,215.49 269.37,215.45 269.64,215.40 269.92,215.35 270.19,215.30 270.47,215.24 270.74,215.18 271.02,215.11 271.29,215.03 271.57,214.96 271.84,214.87 272.12,214.79 272.39,214.70 272.66,214.60 272.94,214.50 273.21,214.39 273.49,214.28 273.76,214.16 274.04,214.04 274.31,213.91 274.59,213.76 274.86,213.61 275.14,213.45 275.41,213.27 275.68,213.07 275.96,212.86 276.23,212.64 276.51,212.39 276.78,212.13 277.06,211.85 277.33,211.55 277.61,211.23 277.88,210.90 278.16,210.55 278.43,210.19 278.70,209.82 278.98,209.43 279.25,209.04 279.53,208.63 279.80,208.22 280.08,207.79 280.35,207.36 280.63,206.93 280.90,206.48 281.18,206.02 281.45,205.56 281.72,205.09 282.00,204.60 282.27,204.11 282.55,203.60 282.82,203.09 283.10,202.56 283.37,202.01 283.65,201.46 283.92,200.89 284.20,200.31 284.47,199.72 284.74,199.11 285.02,198.50 285.29,197.86 285.57,197.22 285.84,196.56 286.12,195.88 286.39,195.19 286.67,194.48 286.94,193.76 287.22,193.02 287.49,192.26 287.76,191.48 288.04,190.69 288.31,189.88 288.59,189.06 288.86,188.21 289.14,187.35 289.41,186.47 289.69,185.58 289.96,184.67 290.23,183.74 290.51,182.80 290.78,181.84 291.06,180.86 291.33,179.86 291.61,178.85 291.88,177.81 292.16,176.76 292.43,175.69 292.71,174.59 292.98,173.48 293.25,172.35 293.53,171.21 293.80,170.05 294.08,168.89 294.35,167.71 294.63,166.52 294.90,165.32 295.18,164.12 295.45,162.90 295.73,161.68 296.00,160.43 296.27,159.17 296.55,157.87 296.82,156.54 297.10,155.17 297.37,153.73 297.65,152.24 297.92,150.66 298.20,149.01 298.47,147.27 298.75,145.45 299.02,143.54 299.29,141.55 299.57,139.49 299.84,137.38 300.12,135.22 300.39,133.03 300.67,130.83 300.94,128.64 301.22,126.46 301.49,124.32 301.77,122.21 302.04,120.16 302.31,118.17 302.59,116.23 302.86,114.35 303.14,112.52 303.41,110.76 303.69,109.05 303.96,107.38 304.24,105.77 304.51,104.20 304.79,102.67 305.06,101.18 305.33,99.73 305.61,98.32 305.88,96.94 306.16,95.60 306.43,94.30 306.71,93.02 306.98,91.78 307.26,90.58 307.53,89.42 307.81,88.30 308.08,87.22 308.35,86.18 308.63,85.19 308.90,84.25 309.18,83.36 309.45,82.52 309.73,81.72 310.00,80.97 310.28,80.26 310.55,79.59 310.83,78.96 311.10,78.36 311.37,77.80 311.65,77.28 311.92,76.79 312.20,76.33 312.47,75.92 312.75,75.55 313.02,75.22 313.30,74.94 313.57,74.72 313.84,74.55 314.12,74.45 314.39,74.40 314.67,74.42 314.94,74.50 315.22,74.65 315.49,74.86 315.77,75.14 316.04,75.48 316.32,75.87 316.59,76.32 316.86,76.82 317.14,77.37 317.41,77.97 317.69,78.61 317.96,79.30 318.24,80.04 318.51,80.83 318.79,81.67 319.06,82.55 319.34,83.48 319.61,84.45 319.88,85.47 320.16,86.52 320.43,87.61 320.71,88.73 320.98,89.88 321.26,91.05 321.53,92.24 321.81,93.44 322.08,94.66 322.36,95.89 322.63,97.13 322.90,98.38 323.18,99.65 323.45,100.92 323.73,102.20 324.00,103.50 324.28,104.80 324.55,106.12 324.83,107.45 325.10,108.79 325.38,110.15 325.65,111.51 325.92,112.89 326.20,114.28 326.47,115.69 326.75,117.11 327.02,118.55 327.30,120.01 327.57,121.48 327.85,122.96 328.12,124.46 328.40,125.97 328.67,127.48 328.94,128.99 329.22,130.50 329.49,132.00 329.77,133.48 330.04,134.94 330.32,136.36 330.59,137.76 330.87,139.11 331.14,140.42 331.42,141.67 331.69,142.88 331.96,144.03 332.24,145.13 332.51,146.18 332.79,147.19 333.06,148.14 333.34,149.05 333.61,149.92 333.89,150.76 334.16,151.57 334.44,152.35 334.71,153.11 334.98,153.85 335.26,154.58 335.53,155.29 335.81,156.00 336.08,156.71 336.36,157.41 336.63,158.11 336.91,158.82 337.18,159.53 337.45,160.24 337.73,160.95 338.00,161.67 338.28,162.39 338.55,163.12 338.83,163.85 339.10,164.58 339.38,165.31 339.65,166.04 339.93,166.76 340.20,167.48 340.47,168.20 340.75,168.92 341.02,169.62 341.30,170.32 341.57,171.01 341.85,171.69 342.12,172.35 342.40,173.01 342.67,173.65 342.95,174.28 343.22,174.90 343.49,175.50 343.77,176.09 344.04,176.67 344.32,177.23 344.59,177.78 344.87,178.31 345.14,178.84 345.42,179.36 345.69,179.86 345.97,180.36 346.24,180.85 346.51,181.33 346.79,181.80 347.06,182.27 347.34,182.72 347.61,183.18 347.89,183.62 348.16,184.06 348.44,184.49 348.71,184.92 348.99,185.34 349.26,185.75 349.53,186.16 349.81,186.57 350.08,186.97 350.36,187.37 350.63,187.76 350.91,188.14 351.18,188.53 351.46,188.90 351.73,189.28 352.01,189.65 352.28,190.02 352.55,190.39 352.83,190.75 353.10,191.11 353.38,191.47 353.65,191.82 353.93,192.17 354.20,192.52 354.48,192.87 354.75,193.21 355.03,193.55 355.30,193.88 355.57,194.21 355.85,194.54 356.12,194.86 356.40,195.18 356.67,195.49 356.95,195.80 357.22,196.10 357.50,196.40 357.77,196.69 358.05,196.98 358.32,197.26 358.59,197.53 358.87,197.80 359.14,198.06 359.42,198.32 359.69,198.57 359.97,198.81 360.24,199.05 360.52,199.28 360.79,199.51 361.06,199.74 361.34,199.95 361.61,200.17 361.89,200.38 362.16,200.59 362.44,200.79 362.71,201.00 362.99,201.19 363.26,201.39 363.54,201.58 363.81,201.77 364.08,201.95 364.36,202.14 364.63,202.32 364.91,202.49 365.18,202.67 365.46,202.84 365.73,203.00 366.01,203.17 366.28,203.33 366.56,203.49 366.83,203.64 367.10,203.80 367.38,203.95 367.65,204.09 367.93,204.24 368.20,204.38 368.48,204.52 368.75,204.65 369.03,204.78 369.30,204.91 369.58,205.04 369.85,205.17 370.12,205.29 370.40,205.41 370.67,205.53 370.95,205.64 371.22,205.76 371.50,205.87 371.77,205.98 372.05,206.09 372.32,206.20 372.60,206.31 372.87,206.41 373.14,206.52 373.42,206.62 373.69,206.72 373.97,206.82 374.24,206.92 374.52,207.01 374.79,207.11 375.07,207.20 375.34,207.30 375.62,207.39 375.89,207.48 376.16,207.57 376.44,207.66 376.71,207.74 376.99,207.83 377.26,207.92 377.54,208.00 377.81,208.09 378.09,208.17 378.36,208.25 378.64,208.33 378.91,208.41 379.18,208.49 379.46,208.57 379.73,208.65 380.01,208.73 380.28,208.80 380.56,208.88 380.83,208.96 381.11,209.03 381.38,209.11 381.66,209.18 381.93,209.25 382.20,209.33 382.48,209.40 382.75,209.47 383.03,209.54 383.30,209.61 383.58,209.68 383.85,209.74 384.13,209.81 384.40,209.88 384.67,209.94 384.95,210.01 385.22,210.07 385.50,210.13 385.77,210.20 386.05,210.26 386.32,210.32 386.60,210.38 386.87,210.44 387.15,210.50 387.42,210.55 387.69,210.61 387.97,210.67 388.24,210.72 388.52,210.78 388.79,210.83 389.07,210.89 389.34,210.94 389.62,210.99 389.89,211.05 390.17,211.10 390.44,211.15 390.71,211.20 390.99,211.25 391.26,211.31 391.54,211.36 391.81,211.41 392.09,211.46 392.36,211.51 392.64,211.56 392.91,211.60 393.19,211.65 393.46,211.70 393.73,211.75 394.01,211.80 394.28,211.84 394.56,211.89 394.83,211.94 395.11,211.98 395.38,212.03 395.66,212.08 395.93,212.12 396.21,212.16 396.48,212.21 396.75,212.25 397.03,212.29 397.30,212.34 397.58,212.38 397.85,212.42 398.13,212.46 398.40,212.50 398.68,212.54 398.95,212.58 399.23,212.62 399.50,212.66 399.77,212.70 400.05,212.74 400.32,212.77 400.60,212.81 400.87,212.84 401.15,212.88 401.42,212.91 401.70,212.95 401.97,212.98 402.25,213.02 402.52,213.05 402.79,213.08 403.07,213.11 403.34,213.14 403.62,213.18 403.89,213.21 404.17,213.24 404.44,213.27 404.72,213.30 404.99,213.33 405.27,213.36 405.54,213.39 405.81,213.42 406.09,213.45 406.36,213.47 406.64,213.50 406.91,213.53 407.19,213.56 407.46,213.59 407.74,213.61 408.01,213.64 408.28,213.67 408.56,213.69 408.83,213.72 409.11,213.74 409.38,213.77 409.66,213.79 409.93,213.82 410.21,213.84 410.48,213.87 410.76,213.89 411.03,213.91 411.30,213.93 411.58,213.96 411.85,213.98 412.13,214.00 412.40,214.02 412.68,214.04 412.95,214.06 413.23,214.08 413.50,214.09 413.78,214.11 414.05,214.13 414.32,214.15 414.60,214.16 414.87,214.18 415.15,214.19 415.42,214.21 415.70,214.23 415.97,214.24 416.25,214.25 416.52,214.27 416.80,214.28 417.07,214.30 417.34,214.31 417.62,214.32 417.89,214.33 418.17,214.35 418.44,214.36 418.72,214.37 418.99,214.38 419.27,214.40 419.54,214.41 419.82,214.42 420.09,214.43 420.36,214.44 420.64,214.45 420.91,214.47 421.19,214.48 421.46,214.49 421.74,214.50 422.01,214.51 422.29,214.52 422.56,214.53 422.84,214.54 423.11,214.55 423.38,214.56 423.66,214.57 423.93,214.58 424.21,214.59 424.48,214.60 424.76,214.61 425.03,214.62 425.31,214.63 425.58,214.64 425.86,214.64 426.13,214.65 426.40,214.66 426.68,214.67 426.95,214.68 427.23,214.69 427.50,214.70 427.78,214.71 428.05,214.71 428.33,214.72 428.60,214.73 428.88,214.74 429.15,214.75 429.42,214.76 429.70,214.76 429.97,214.77 430.25,214.78 430.52,214.79 430.80,214.80 431.07,214.81 431.35,214.81 431.62,214.82 431.89,214.83 432.17,214.84 432.44,214.85 432.72,214.85 432.99,214.86 433.27,214.87 433.54,214.88 433.82,214.89 434.09,214.90 434.37,214.90 434.64,214.91 434.91,214.92 435.19,214.93 435.46,214.94 435.74,214.94 436.01,214.95 436.29,214.96 436.56,214.97 436.84,214.98 437.11,214.99 437.39,215.00 437.66,215.00 437.93,215.01 438.21,215.02 438.48,215.03 438.76,215.04 439.03,215.05 439.31,215.06 439.58,215.07 439.86,215.08 440.13,215.09 440.41,215.09 440.68,215.10 440.95,215.11 441.23,215.12 441.50,215.13 441.78,215.14 442.05,215.15 442.33,215.16 442.60,215.17 442.88,215.17 443.15,215.18 443.43,215.19 443.70,215.20" fill="none" stroke="#d9418a" stroke-width="1.8" stroke-linejoin="round" stroke-dasharray="4.5 2.5"/>
<polyline points="251.80,216.20 252.07,216.20 252.35,216.20 252.62,216.20 252.90,216.20 253.17,216.19 253.45,216.19 253.72,216.19 254.00,216.19 254.27,216.19 254.55,216.19 254.82,216.18 255.09,216.18 255.37,216.18 255.64,216.17 255.92,216.17 256.19,216.17 256.47,216.16 256.74,216.16 257.02,216.16 257.29,216.15 257.57,216.15 257.84,216.14 258.11,216.14 258.39,216.13 258.66,216.13 258.94,216.12 259.21,216.11 259.49,216.11 259.76,216.10 260.04,216.09 260.31,216.09 260.59,216.08 260.86,216.07 261.13,216.07 261.41,216.06 261.68,216.05 261.96,216.04 262.23,216.03 262.51,216.02 262.78,216.02 263.06,216.01 263.33,216.00 263.61,215.99 263.88,215.98 264.15,215.97 264.43,215.96 264.70,215.95 264.98,215.94 265.25,215.93 265.53,215.91 265.80,215.90 266.08,215.89 266.35,215.88 266.62,215.87 266.90,215.86 267.17,215.84 267.45,215.83 267.72,215.82 268.00,215.81 268.27,215.79 268.55,215.78 268.82,215.77 269.10,215.75 269.37,215.74 269.64,215.72 269.92,215.71 270.19,215.69 270.47,215.68 270.74,215.66 271.02,215.65 271.29,215.63 271.57,215.62 271.84,215.60 272.12,215.58 272.39,215.57 272.66,215.55 272.94,215.53 273.21,215.51 273.49,215.49 273.76,215.46 274.04,215.44 274.31,215.41 274.59,215.38 274.86,215.35 275.14,215.32 275.41,215.28 275.68,215.24 275.96,215.20 276.23,215.15 276.51,215.11 276.78,215.06 277.06,215.00 277.33,214.95 277.61,214.89 277.88,214.83 278.16,214.77 278.43,214.70 278.70,214.63 278.98,214.56 279.25,214.49 279.53,214.42 279.80,214.34 280.08,214.26 280.35,214.18 280.63,214.09 280.90,214.00 281.18,213.91 281.45,213.81 281.72,213.71 282.00,213.60 282.27,213.49 282.55,213.37 282.82,213.25 283.10,213.12 283.37,212.98 283.65,212.84 283.92,212.70 284.20,212.55 284.47,212.39 284.74,212.23 285.02,212.07 285.29,211.90 285.57,211.72 285.84,211.54 286.12,211.35 286.39,211.17 286.67,210.97 286.94,210.77 287.22,210.57 287.49,210.36 287.76,210.15 288.04,209.93 288.31,209.70 288.59,209.47 288.86,209.24 289.14,208.99 289.41,208.74 289.69,208.47 289.96,208.20 290.23,207.92 290.51,207.63 290.78,207.33 291.06,207.02 291.33,206.70 291.61,206.37 291.88,206.03 292.16,205.69 292.43,205.33 292.71,204.97 292.98,204.60 293.25,204.22 293.53,203.83 293.80,203.43 294.08,203.03 294.35,202.62 294.63,202.20 294.90,201.78 295.18,201.35 295.45,200.92 295.73,200.47 296.00,200.03 296.27,199.57 296.55,199.10 296.82,198.63 297.10,198.15 297.37,197.65 297.65,197.15 297.92,196.64 298.20,196.11 298.47,195.58 298.75,195.03 299.02,194.47 299.29,193.90 299.57,193.32 299.84,192.72 300.12,192.12 300.39,191.50 300.67,190.87 300.94,190.23 301.22,189.58 301.49,188.93 301.77,188.26 302.04,187.58 302.31,186.89 302.59,186.19 302.86,185.48 303.14,184.76 303.41,184.03 303.69,183.29 303.96,182.53 304.24,181.77 304.51,180.98 304.79,180.19 305.06,179.38 305.33,178.56 305.61,177.72 305.88,176.86 306.16,176.00 306.43,175.11 306.71,174.22 306.98,173.31 307.26,172.38 307.53,171.44 307.81,170.48 308.08,169.51 308.35,168.52 308.63,167.51 308.90,166.49 309.18,165.44 309.45,164.38 309.73,163.30 310.00,162.20 310.28,161.09 310.55,159.96 310.83,158.82 311.10,157.67 311.37,156.52 311.65,155.36 311.92,154.20 312.20,153.05 312.47,151.89 312.75,150.75 313.02,149.61 313.30,148.47 313.57,147.35 313.84,146.24 314.12,145.14 314.39,144.06 314.67,142.98 314.94,141.92 315.22,140.87 315.49,139.84 315.77,138.81 316.04,137.80 316.32,136.80 316.59,135.81 316.86,134.83 317.14,133.86 317.41,132.90 317.69,131.95 317.96,131.00 318.24,130.06 318.51,129.13 318.79,128.20 319.06,127.27 319.34,126.35 319.61,125.43 319.88,124.51 320.16,123.60 320.43,122.68 320.71,121.77 320.98,120.85 321.26,119.93 321.53,119.00 321.81,118.08 322.08,117.14 322.36,116.20 322.63,115.25 322.90,114.30 323.18,113.33 323.45,112.35 323.73,111.37 324.00,110.37 324.28,109.36 324.55,108.35 324.83,107.32 325.10,106.29 325.38,105.26 325.65,104.22 325.92,103.18 326.20,102.14 326.47,101.10 326.75,100.07 327.02,99.05 327.30,98.03 327.57,97.03 327.85,96.05 328.12,95.08 328.40,94.14 328.67,93.21 328.94,92.31 329.22,91.44 329.49,90.59 329.77,89.78 330.04,88.99 330.32,88.23 330.59,87.51 330.87,86.81 331.14,86.15 331.42,85.51 331.69,84.90 331.96,84.32 332.24,83.76 332.51,83.22 332.79,82.71 333.06,82.22 333.34,81.75 333.61,81.29 333.89,80.86 334.16,80.45 334.44,80.05 334.71,79.67 334.98,79.31 335.26,78.96 335.53,78.62 335.81,78.30 336.08,77.98 336.36,77.68 336.63,77.39 336.91,77.11 337.18,76.83 337.45,76.57 337.73,76.32 338.00,76.07 338.28,75.84 338.55,75.62 338.83,75.41 339.10,75.22 339.38,75.04 339.65,74.88 339.93,74.75 340.20,74.63 340.47,74.54 340.75,74.46 341.02,74.42 341.30,74.40 341.57,74.41 341.85,74.44 342.12,74.50 342.40,74.59 342.67,74.70 342.95,74.84 343.22,75.00 343.49,75.19 343.77,75.39 344.04,75.61 344.32,75.85 344.59,76.10 344.87,76.37 345.14,76.66 345.42,76.95 345.69,77.26 345.97,77.59 346.24,77.93 346.51,78.28 346.79,78.65 347.06,79.04 347.34,79.44 347.61,79.86 347.89,80.30 348.16,80.76 348.44,81.23 348.71,81.73 348.99,82.24 349.26,82.77 349.53,83.32 349.81,83.89 350.08,84.47 350.36,85.08 350.63,85.70 350.91,86.34 351.18,87.00 351.46,87.68 351.73,88.37 352.01,89.08 352.28,89.79 352.55,90.51 352.83,91.22 353.10,91.94 353.38,92.65 353.65,93.35 353.93,94.04 354.20,94.72 354.48,95.40 354.75,96.06 355.03,96.72 355.30,97.38 355.57,98.04 355.85,98.71 356.12,99.39 356.40,100.08 356.67,100.79 356.95,101.51 357.22,102.24 357.50,102.99 357.77,103.75 358.05,104.52 358.32,105.29 358.59,106.06 358.87,106.82 359.14,107.56 359.42,108.29 359.69,108.99 359.97,109.67 360.24,110.33 360.52,110.95 360.79,111.55 361.06,112.12 361.34,112.67 361.61,113.20 361.89,113.70 362.16,114.19 362.44,114.66 362.71,115.12 362.99,115.56 363.26,115.99 363.54,116.41 363.81,116.82 364.08,117.22 364.36,117.61 364.63,117.99 364.91,118.37 365.18,118.73 365.46,119.09 365.73,119.44 366.01,119.78 366.28,120.11 366.56,120.43 366.83,120.73 367.10,121.03 367.38,121.32 367.65,121.59 367.93,121.85 368.20,122.11 368.48,122.35 368.75,122.58 369.03,122.80 369.30,123.01 369.58,123.21 369.85,123.41 370.12,123.61 370.40,123.81 370.67,124.00 370.95,124.21 371.22,124.42 371.50,124.63 371.77,124.86 372.05,125.10 372.32,125.36 372.60,125.63 372.87,125.91 373.14,126.21 373.42,126.53 373.69,126.86 373.97,127.20 374.24,127.55 374.52,127.91 374.79,128.28 375.07,128.66 375.34,129.03 375.62,129.42 375.89,129.80 376.16,130.19 376.44,130.58 376.71,130.97 376.99,131.36 377.26,131.75 377.54,132.15 377.81,132.55 378.09,132.95 378.36,133.35 378.64,133.75 378.91,134.16 379.18,134.57 379.46,134.98 379.73,135.39 380.01,135.81 380.28,136.23 380.56,136.65 380.83,137.08 381.11,137.51 381.38,137.94 381.66,138.37 381.93,138.81 382.20,139.25 382.48,139.69 382.75,140.14 383.03,140.58 383.30,141.03 383.58,141.49 383.85,141.95 384.13,142.41 384.40,142.87 384.67,143.34 384.95,143.81 385.22,144.28 385.50,144.76 385.77,145.24 386.05,145.72 386.32,146.21 386.60,146.71 386.87,147.20 387.15,147.71 387.42,148.21 387.69,148.73 387.97,149.24 388.24,149.76 388.52,150.29 388.79,150.82 389.07,151.35 389.34,151.89 389.62,152.43 389.89,152.97 390.17,153.52 390.44,154.06 390.71,154.62 390.99,155.17 391.26,155.72 391.54,156.28 391.81,156.83 392.09,157.39 392.36,157.95 392.64,158.52 392.91,159.08 393.19,159.65 393.46,160.22 393.73,160.79 394.01,161.36 394.28,161.93 394.56,162.49 394.83,163.06 395.11,163.63 395.38,164.19 395.66,164.74 395.93,165.30 396.21,165.84 396.48,166.39 396.75,166.92 397.03,167.45 397.30,167.97 397.58,168.48 397.85,168.99 398.13,169.49 398.40,169.99 398.68,170.48 398.95,170.96 399.23,171.44 399.50,171.92 399.77,172.39 400.05,172.85 400.32,173.31 400.60,173.77 400.87,174.22 401.15,174.67 401.42,175.11 401.70,175.56 401.97,175.99 402.25,176.43 402.52,176.85 402.79,177.28 403.07,177.70 403.34,178.12 403.62,178.54 403.89,178.95 404.17,179.35 404.44,179.76 404.72,180.16 404.99,180.56 405.27,180.95 405.54,181.34 405.81,181.73 406.09,182.11 406.36,182.49 406.64,182.87 406.91,183.25 407.19,183.62 407.46,183.99 407.74,184.36 408.01,184.73 408.28,185.10 408.56,185.47 408.83,185.83 409.11,186.19 409.38,186.56 409.66,186.92 409.93,187.28 410.21,187.64 410.48,188.00 410.76,188.36 411.03,188.73 411.30,189.08 411.58,189.44 411.85,189.80 412.13,190.16 412.40,190.51 412.68,190.86 412.95,191.21 413.23,191.55 413.50,191.89 413.78,192.23 414.05,192.56 414.32,192.88 414.60,193.20 414.87,193.51 415.15,193.82 415.42,194.12 415.70,194.41 415.97,194.69 416.25,194.98 416.52,195.25 416.80,195.52 417.07,195.78 417.34,196.04 417.62,196.29 417.89,196.54 418.17,196.79 418.44,197.03 418.72,197.27 418.99,197.50 419.27,197.73 419.54,197.96 419.82,198.18 420.09,198.41 420.36,198.63 420.64,198.84 420.91,199.06 421.19,199.27 421.46,199.49 421.74,199.70 422.01,199.91 422.29,200.11 422.56,200.32 422.84,200.53 423.11,200.73 423.38,200.94 423.66,201.14 423.93,201.35 424.21,201.55 424.48,201.75 424.76,201.96 425.03,202.16 425.31,202.36 425.58,202.56 425.86,202.76 426.13,202.96 426.40,203.15 426.68,203.35 426.95,203.54 427.23,203.74 427.50,203.93 427.78,204.12 428.05,204.31 428.33,204.50 428.60,204.69 428.88,204.88 429.15,205.07 429.42,205.25 429.70,205.43 429.97,205.62 430.25,205.80 430.52,205.98 430.80,206.15 431.07,206.33 431.35,206.51 431.62,206.68 431.89,206.85 432.17,207.03 432.44,207.20 432.72,207.37 432.99,207.54 433.27,207.71 433.54,207.88 433.82,208.05 434.09,208.21 434.37,208.38 434.64,208.55 434.91,208.71 435.19,208.87 435.46,209.04 435.74,209.20 436.01,209.36 436.29,209.51 436.56,209.67 436.84,209.82 437.11,209.97 437.39,210.12 437.66,210.26 437.93,210.40 438.21,210.54 438.48,210.67 438.76,210.80 439.03,210.92 439.31,211.04 439.58,211.16 439.86,211.27 440.13,211.38 440.41,211.48 440.68,211.58 440.95,211.68 441.23,211.77 441.50,211.86 441.78,211.95 442.05,212.04 442.33,212.12 442.60,212.20 442.88,212.27 443.15,212.34 443.43,212.42 443.70,212.49" fill="none" stroke="#c8323c" stroke-width="1.8" stroke-linejoin="round" stroke-dasharray="4.5 2.5"/>
<polyline points="251.80,216.20 252.07,216.20 252.35,216.20 252.62,216.20 252.90,216.20 253.17,216.20 253.45,216.20 253.72,216.20 254.00,216.20 254.27,216.20 254.55,216.20 254.82,216.20 255.09,216.20 255.37,216.20 255.64,216.20 255.92,216.20 256.19,216.20 256.47,216.20 256.74,216.20 257.02,216.20 257.29,216.20 257.57,216.20 257.84,216.20 258.11,216.20 258.39,216.19 258.66,216.19 258.94,216.19 259.21,216.19 259.49,216.19 259.76,216.19 260.04,216.19 260.31,216.19 260.59,216.19 260.86,216.19 261.13,216.19 261.41,216.19 261.68,216.19 261.96,216.19 262.23,216.19 262.51,216.19 262.78,216.19 263.06,216.18 263.33,216.18 263.61,216.18 263.88,216.18 264.15,216.18 264.43,216.18 264.70,216.18 264.98,216.18 265.25,216.18 265.53,216.18 265.80,216.18 266.08,216.17 266.35,216.17 266.62,216.17 266.90,216.17 267.17,216.17 267.45,216.17 267.72,216.17 268.00,216.17 268.27,216.17 268.55,216.17 268.82,216.16 269.10,216.16 269.37,216.16 269.64,216.16 269.92,216.16 270.19,216.16 270.47,216.16 270.74,216.16 271.02,216.15 271.29,216.15 271.57,216.15 271.84,216.15 272.12,216.15 272.39,216.15 272.66,216.15 272.94,216.14 273.21,216.14 273.49,216.14 273.76,216.14 274.04,216.14 274.31,216.14 274.59,216.13 274.86,216.13 275.14,216.13 275.41,216.13 275.68,216.13 275.96,216.13 276.23,216.12 276.51,216.12 276.78,216.12 277.06,216.12 277.33,216.12 277.61,216.11 277.88,216.11 278.16,216.11 278.43,216.11 278.70,216.11 278.98,216.10 279.25,216.10 279.53,216.10 279.80,216.10 280.08,216.10 280.35,216.09 280.63,216.09 280.90,216.09 281.18,216.09 281.45,216.09 281.72,216.08 282.00,216.08 282.27,216.08 282.55,216.08 282.82,216.07 283.10,216.07 283.37,216.07 283.65,216.07 283.92,216.06 284.20,216.06 284.47,216.06 284.74,216.06 285.02,216.05 285.29,216.05 285.57,216.05 285.84,216.05 286.12,216.04 286.39,216.04 286.67,216.04 286.94,216.04 287.22,216.03 287.49,216.03 287.76,216.03 288.04,216.03 288.31,216.02 288.59,216.02 288.86,216.02 289.14,216.01 289.41,216.01 289.69,216.01 289.96,216.01 290.23,216.00 290.51,216.00 290.78,216.00 291.06,215.99 291.33,215.99 291.61,215.99 291.88,215.98 292.16,215.98 292.43,215.98 292.71,215.97 292.98,215.97 293.25,215.97 293.53,215.96 293.80,215.96 294.08,215.96 294.35,215.95 294.63,215.95 294.90,215.95 295.18,215.94 295.45,215.94 295.73,215.94 296.00,215.93 296.27,215.93 296.55,215.93 296.82,215.92 297.10,215.92 297.37,215.91 297.65,215.91 297.92,215.91 298.20,215.90 298.47,215.90 298.75,215.90 299.02,215.89 299.29,215.89 299.57,215.88 299.84,215.88 300.12,215.88 300.39,215.87 300.67,215.87 300.94,215.86 301.22,215.86 301.49,215.86 301.77,215.85 302.04,215.85 302.31,215.84 302.59,215.84 302.86,215.83 303.14,215.83 303.41,215.83 303.69,215.82 303.96,215.82 304.24,215.81 304.51,215.81 304.79,215.80 305.06,215.80 305.33,215.79 305.61,215.79 305.88,215.78 306.16,215.78 306.43,215.77 306.71,215.77 306.98,215.76 307.26,215.75 307.53,215.74 307.81,215.73 308.08,215.72 308.35,215.71 308.63,215.70 308.90,215.69 309.18,215.67 309.45,215.66 309.73,215.65 310.00,215.63 310.28,215.61 310.55,215.59 310.83,215.58 311.10,215.56 311.37,215.54 311.65,215.51 311.92,215.49 312.20,215.47 312.47,215.44 312.75,215.42 313.02,215.39 313.30,215.37 313.57,215.34 313.84,215.31 314.12,215.29 314.39,215.26 314.67,215.23 314.94,215.20 315.22,215.17 315.49,215.13 315.77,215.10 316.04,215.07 316.32,215.03 316.59,215.00 316.86,214.96 317.14,214.93 317.41,214.89 317.69,214.86 317.96,214.82 318.24,214.78 318.51,214.74 318.79,214.70 319.06,214.66 319.34,214.63 319.61,214.58 319.88,214.54 320.16,214.50 320.43,214.46 320.71,214.42 320.98,214.38 321.26,214.33 321.53,214.29 321.81,214.25 322.08,214.20 322.36,214.16 322.63,214.11 322.90,214.07 323.18,214.02 323.45,213.97 323.73,213.93 324.00,213.88 324.28,213.83 324.55,213.78 324.83,213.73 325.10,213.67 325.38,213.62 325.65,213.56 325.92,213.51 326.20,213.45 326.47,213.38 326.75,213.32 327.02,213.25 327.30,213.18 327.57,213.11 327.85,213.04 328.12,212.96 328.40,212.89 328.67,212.81 328.94,212.73 329.22,212.64 329.49,212.55 329.77,212.47 330.04,212.38 330.32,212.28 330.59,212.19 330.87,212.09 331.14,211.99 331.42,211.89 331.69,211.79 331.96,211.68 332.24,211.57 332.51,211.46 332.79,211.35 333.06,211.23 333.34,211.11 333.61,210.99 333.89,210.86 334.16,210.73 334.44,210.59 334.71,210.45 334.98,210.30 335.26,210.15 335.53,209.99 335.81,209.83 336.08,209.66 336.36,209.49 336.63,209.31 336.91,209.12 337.18,208.93 337.45,208.74 337.73,208.54 338.00,208.34 338.28,208.13 338.55,207.92 338.83,207.70 339.10,207.49 339.38,207.26 339.65,207.04 339.93,206.81 340.20,206.58 340.47,206.34 340.75,206.11 341.02,205.87 341.30,205.63 341.57,205.38 341.85,205.14 342.12,204.89 342.40,204.64 342.67,204.39 342.95,204.13 343.22,203.88 343.49,203.62 343.77,203.35 344.04,203.09 344.32,202.82 344.59,202.54 344.87,202.26 345.14,201.98 345.42,201.70 345.69,201.41 345.97,201.11 346.24,200.81 346.51,200.50 346.79,200.19 347.06,199.88 347.34,199.56 347.61,199.23 347.89,198.90 348.16,198.56 348.44,198.22 348.71,197.87 348.99,197.51 349.26,197.15 349.53,196.78 349.81,196.40 350.08,196.02 350.36,195.63 350.63,195.22 350.91,194.81 351.18,194.39 351.46,193.96 351.73,193.52 352.01,193.07 352.28,192.60 352.55,192.13 352.83,191.64 353.10,191.15 353.38,190.64 353.65,190.12 353.93,189.59 354.20,189.06 354.48,188.51 354.75,187.96 355.03,187.40 355.30,186.84 355.57,186.27 355.85,185.69 356.12,185.11 356.40,184.53 356.67,183.94 356.95,183.35 357.22,182.76 357.50,182.16 357.77,181.57 358.05,180.96 358.32,180.36 358.59,179.75 358.87,179.14 359.14,178.53 359.42,177.91 359.69,177.28 359.97,176.65 360.24,176.01 360.52,175.36 360.79,174.70 361.06,174.03 361.34,173.35 361.61,172.66 361.89,171.95 362.16,171.23 362.44,170.50 362.71,169.75 362.99,168.98 363.26,168.19 363.54,167.38 363.81,166.54 364.08,165.68 364.36,164.78 364.63,163.86 364.91,162.89 365.18,161.90 365.46,160.86 365.73,159.78 366.01,158.66 366.28,157.51 366.56,156.33 366.83,155.13 367.10,153.91 367.38,152.68 367.65,151.45 367.93,150.23 368.20,149.02 368.48,147.84 368.75,146.68 369.03,145.55 369.30,144.44 369.58,143.37 369.85,142.32 370.12,141.30 370.40,140.31 370.67,139.33 370.95,138.37 371.22,137.42 371.50,136.49 371.77,135.56 372.05,134.64 372.32,133.71 372.60,132.78 372.87,131.83 373.14,130.85 373.42,129.85 373.69,128.81 373.97,127.72 374.24,126.59 374.52,125.41 374.79,124.17 375.07,122.89 375.34,121.57 375.62,120.21 375.89,118.83 376.16,117.44 376.44,116.06 376.71,114.69 376.99,113.35 377.26,112.05 377.54,110.80 377.81,109.60 378.09,108.46 378.36,107.37 378.64,106.33 378.91,105.34 379.18,104.39 379.46,103.48 379.73,102.61 380.01,101.77 380.28,100.95 380.56,100.15 380.83,99.37 381.11,98.60 381.38,97.83 381.66,97.08 381.93,96.32 382.20,95.55 382.48,94.77 382.75,93.98 383.03,93.17 383.30,92.34 383.58,91.48 383.85,90.61 384.13,89.71 384.40,88.80 384.67,87.89 384.95,86.98 385.22,86.08 385.50,85.19 385.77,84.34 386.05,83.52 386.32,82.75 386.60,82.03 386.87,81.35 387.15,80.73 387.42,80.16 387.69,79.64 387.97,79.16 388.24,78.72 388.52,78.31 388.79,77.93 389.07,77.58 389.34,77.25 389.62,76.93 389.89,76.64 390.17,76.37 390.44,76.11 390.71,75.86 390.99,75.64 391.26,75.43 391.54,75.24 391.81,75.06 392.09,74.91 392.36,74.77 392.64,74.66 392.91,74.56 393.19,74.49 393.46,74.44 393.73,74.41 394.01,74.40 394.28,74.41 394.56,74.45 394.83,74.51 395.11,74.59 395.38,74.69 395.66,74.82 395.93,74.96 396.21,75.12 396.48,75.30 396.75,75.49 397.03,75.70 397.30,75.93 397.58,76.16 397.85,76.41 398.13,76.68 398.40,76.95 398.68,77.24 398.95,77.54 399.23,77.86 399.50,78.19 399.77,78.54 400.05,78.90 400.32,79.29 400.60,79.70 400.87,80.13 401.15,80.58 401.42,81.05 401.70,81.54 401.97,82.06 402.25,82.59 402.52,83.14 402.79,83.71 403.07,84.30 403.34,84.90 403.62,85.52 403.89,86.16 404.17,86.81 404.44,87.48 404.72,88.16 404.99,88.87 405.27,89.59 405.54,90.32 405.81,91.08 406.09,91.85 406.36,92.65 406.64,93.46 406.91,94.29 407.19,95.13 407.46,96.00 407.74,96.89 408.01,97.79 408.28,98.72 408.56,99.66 408.83,100.62 409.11,101.61 409.38,102.61 409.66,103.63 409.93,104.67 410.21,105.73 410.48,106.81 410.76,107.90 411.03,109.00 411.30,110.12 411.58,111.25 411.85,112.40 412.13,113.55 412.40,114.70 412.68,115.87 412.95,117.03 413.23,118.19 413.50,119.35 413.78,120.50 414.05,121.63 414.32,122.76 414.60,123.86 414.87,124.95 415.15,126.02 415.42,127.06 415.70,128.09 415.97,129.09 416.25,130.07 416.52,131.04 416.80,132.00 417.07,132.96 417.34,133.91 417.62,134.86 417.89,135.82 418.17,136.79 418.44,137.77 418.72,138.76 418.99,139.77 419.27,140.78 419.54,141.81 419.82,142.84 420.09,143.87 420.36,144.90 420.64,145.91 420.91,146.91 421.19,147.90 421.46,148.87 421.74,149.82 422.01,150.74 422.29,151.65 422.56,152.54 422.84,153.41 423.11,154.26 423.38,155.09 423.66,155.91 423.93,156.72 424.21,157.52 424.48,158.31 424.76,159.08 425.03,159.85 425.31,160.61 425.58,161.37 425.86,162.13 426.13,162.88 426.40,163.63 426.68,164.39 426.95,165.15 427.23,165.91 427.50,166.69 427.78,167.47 428.05,168.26 428.33,169.07 428.60,169.88 428.88,170.71 429.15,171.56 429.42,172.41 429.70,173.27 429.97,174.15 430.25,175.03 430.52,175.91 430.80,176.79 431.07,177.67 431.35,178.55 431.62,179.41 431.89,180.26 432.17,181.10 432.44,181.91 432.72,182.71 432.99,183.49 433.27,184.25 433.54,185.00 433.82,185.72 434.09,186.44 434.37,187.15 434.64,187.85 434.91,188.55 435.19,189.24 435.46,189.94 435.74,190.65 436.01,191.37 436.29,192.09 436.56,192.81 436.84,193.55 437.11,194.28 437.39,195.02 437.66,195.75 437.93,196.48 438.21,197.18 438.48,197.87 438.76,198.54 439.03,199.18 439.31,199.79 439.58,200.36 439.86,200.90 440.13,201.41 440.41,201.88 440.68,202.32 440.95,202.73 441.23,203.11 441.50,203.46 441.78,203.78 442.05,204.07 442.33,204.34 442.60,204.58 442.88,204.81 443.15,205.01 443.43,205.19 443.70,205.36" fill="none" stroke="#8e1b22" stroke-width="1.8" stroke-linejoin="round" stroke-dasharray="4.5 2.5"/>
<line x1="251.80" y1="66.20" x2="251.80" y2="216.20" stroke="#231f20" stroke-width="1" />
<line x1="251.30" y1="216.20" x2="444.20" y2="216.20" stroke="#231f20" stroke-width="1" />
<line x1="247.80" y1="216.20" x2="251.80" y2="216.20" stroke="#231f20" stroke-width="1" />
<text x="244.60" y="219.10" font-size="9.5" text-anchor="end" font-weight="normal" fill="#231f20" >0.0</text>
<line x1="247.80" y1="187.84" x2="251.80" y2="187.84" stroke="#231f20" stroke-width="1" />
<text x="244.60" y="190.74" font-size="9.5" text-anchor="end" font-weight="normal" fill="#231f20" >0.2</text>
<line x1="247.80" y1="159.48" x2="251.80" y2="159.48" stroke="#231f20" stroke-width="1" />
<text x="244.60" y="162.38" font-size="9.5" text-anchor="end" font-weight="normal" fill="#231f20" >0.4</text>
<line x1="247.80" y1="131.12" x2="251.80" y2="131.12" stroke="#231f20" stroke-width="1" />
<text x="244.60" y="134.02" font-size="9.5" text-anchor="end" font-weight="normal" fill="#231f20" >0.6</text>
<line x1="247.80" y1="102.76" x2="251.80" y2="102.76" stroke="#231f20" stroke-width="1" />
<text x="244.60" y="105.66" font-size="9.5" text-anchor="end" font-weight="normal" fill="#231f20" >0.8</text>
<line x1="247.80" y1="74.40" x2="251.80" y2="74.40" stroke="#231f20" stroke-width="1" />
<text x="244.60" y="77.30" font-size="9.5" text-anchor="end" font-weight="normal" fill="#231f20" >1.0</text>
<line x1="251.80" y1="216.20" x2="251.80" y2="220.40" stroke="#231f20" stroke-width="1" />
<text x="251.80" y="232.80" font-size="9.5" text-anchor="middle" font-weight="normal" fill="#231f20" >500</text>
<line x1="279.21" y1="216.20" x2="279.21" y2="220.40" stroke="#231f20" stroke-width="1" />
<text x="279.21" y="232.80" font-size="9.5" text-anchor="middle" font-weight="normal" fill="#231f20" >550</text>
<line x1="306.63" y1="216.20" x2="306.63" y2="220.40" stroke="#231f20" stroke-width="1" />
<text x="306.63" y="232.80" font-size="9.5" text-anchor="middle" font-weight="normal" fill="#231f20" >600</text>
<line x1="334.04" y1="216.20" x2="334.04" y2="220.40" stroke="#231f20" stroke-width="1" />
<text x="334.04" y="232.80" font-size="9.5" text-anchor="middle" font-weight="normal" fill="#231f20" >650</text>
<line x1="361.46" y1="216.20" x2="361.46" y2="220.40" stroke="#231f20" stroke-width="1" />
<text x="361.46" y="232.80" font-size="9.5" text-anchor="middle" font-weight="normal" fill="#231f20" >700</text>
<line x1="388.87" y1="216.20" x2="388.87" y2="220.40" stroke="#231f20" stroke-width="1" />
<text x="388.87" y="232.80" font-size="9.5" text-anchor="middle" font-weight="normal" fill="#231f20" >750</text>
<line x1="416.29" y1="216.20" x2="416.29" y2="220.40" stroke="#231f20" stroke-width="1" />
<text x="416.29" y="232.80" font-size="9.5" text-anchor="middle" font-weight="normal" fill="#231f20" >800</text>
<line x1="443.70" y1="216.20" x2="443.70" y2="220.40" stroke="#231f20" stroke-width="1" />
<text x="443.70" y="232.80" font-size="9.5" text-anchor="middle" font-weight="normal" fill="#231f20" >850</text>
<text x="346.20" y="246.30" font-size="9.7" text-anchor="middle" font-weight="normal" fill="#231f20" >λ (nm)</text>
<text x="0.00" y="0.00" font-size="9.7" text-anchor="middle" font-weight="normal" fill="#231f20" transform="translate(223.2,141) rotate(-90)">Normalized emission (RLU)</text>
<line x1="254.2" y1="24.4" x2="271" y2="24.4" stroke="#d9418a" stroke-width="1.5" stroke-dasharray="4.5 2.5"/>
<text x="274.40" y="27.40" font-size="8.4" text-anchor="start" font-weight="normal" fill="#231f20" >CBR (D-LH2)</text>
<line x1="254.2" y1="36.5" x2="271" y2="36.5" stroke="#c8323c" stroke-width="1.5" stroke-dasharray="4.5 2.5"/>
<text x="274.40" y="39.50" font-size="8.4" text-anchor="start" font-weight="normal" fill="#231f20" >CBR (NH<tspan font-size="5.6" dy="2">2</tspan><tspan dy="-2">-NpLH2)</tspan></text>
<line x1="254.2" y1="48.7" x2="271" y2="48.7" stroke="#8e1b22" stroke-width="1.5" stroke-dasharray="4.5 2.5"/>
<text x="274.40" y="51.70" font-size="8.4" text-anchor="start" font-weight="normal" fill="#231f20" >CBR (OH-NpLH2)</text>
<line x1="254.20" y1="61.90" x2="270.60" y2="61.90" stroke="#f0a04b" stroke-width="1.5" />
<text x="274.40" y="64.90" font-size="8.4" text-anchor="start" font-weight="normal" fill="#231f20" >Luc2 (D-LH2)</text>
<line x1="351.40" y1="24.20" x2="366.70" y2="24.20" stroke="#f4a6a6" stroke-width="1.5" />
<text x="371.00" y="27.20" font-size="8.4" text-anchor="start" font-weight="normal" fill="#231f20" >CBR2 (D-LH2)</text>
<line x1="351.40" y1="36.10" x2="366.70" y2="36.10" stroke="#68288f" stroke-width="1.5" />
<text x="371.00" y="39.10" font-size="8.4" text-anchor="start" font-weight="normal" fill="#231f20" >CBR2 (NH<tspan font-size="5.6" dy="2">2</tspan><tspan dy="-2">-NpLH2)</tspan></text>
<line x1="351.40" y1="48.50" x2="366.70" y2="48.50" stroke="#8b1c1f" stroke-width="1.5" />
<text x="371.00" y="51.50" font-size="8.4" text-anchor="start" font-weight="normal" fill="#231f20" >CBR2 (OH-NpLH2)</text>
<line x1="502.80" y1="48.50" x2="502.80" y2="217.40" stroke="#6d6e71" stroke-width="1.1" />
<line x1="498.30" y1="217.40" x2="661.80" y2="217.40" stroke="#231f20" stroke-width="1" />
<line x1="502.80" y1="217.40" x2="502.80" y2="221.60" stroke="#231f20" stroke-width="1" />
<text x="502.80" y="233.40" font-size="9.7" text-anchor="middle" font-weight="normal" fill="#231f20" >0</text>
<line x1="534.50" y1="217.40" x2="534.50" y2="221.60" stroke="#231f20" stroke-width="1" />
<text x="534.50" y="233.40" font-size="9.7" text-anchor="middle" font-weight="normal" fill="#231f20" >1</text>
<line x1="566.20" y1="217.40" x2="566.20" y2="221.60" stroke="#231f20" stroke-width="1" />
<text x="566.20" y="233.40" font-size="9.7" text-anchor="middle" font-weight="normal" fill="#231f20" >2</text>
<line x1="597.90" y1="217.40" x2="597.90" y2="221.60" stroke="#231f20" stroke-width="1" />
<text x="597.90" y="233.40" font-size="9.7" text-anchor="middle" font-weight="normal" fill="#231f20" >3</text>
<line x1="629.60" y1="217.40" x2="629.60" y2="221.60" stroke="#231f20" stroke-width="1" />
<text x="629.60" y="233.40" font-size="9.7" text-anchor="middle" font-weight="normal" fill="#231f20" >4</text>
<line x1="661.30" y1="217.40" x2="661.30" y2="221.60" stroke="#231f20" stroke-width="1" />
<text x="661.30" y="233.40" font-size="9.7" text-anchor="middle" font-weight="normal" fill="#231f20" >5</text>
<line x1="498.30" y1="49.70" x2="502.80" y2="49.70" stroke="#231f20" stroke-width="1" />
<text x="494.20" y="53.10" font-size="9.7" text-anchor="end" font-weight="normal" fill="#231f20" >100</text>
<line x1="498.30" y1="105.60" x2="502.80" y2="105.60" stroke="#231f20" stroke-width="1" />
<text x="494.20" y="109.00" font-size="9.7" text-anchor="end" font-weight="normal" fill="#231f20" >10</text>
<line x1="498.30" y1="161.50" x2="502.80" y2="161.50" stroke="#231f20" stroke-width="1" />
<text x="494.20" y="164.90" font-size="9.7" text-anchor="end" font-weight="normal" fill="#231f20" >1</text>
<line x1="498.30" y1="217.40" x2="502.80" y2="217.40" stroke="#231f20" stroke-width="1" />
<text x="494.20" y="220.80" font-size="9.7" text-anchor="end" font-weight="normal" fill="#231f20" >0.1</text>
<text x="0.00" y="0.00" font-size="9.7" text-anchor="middle" font-weight="normal" fill="#231f20" transform="translate(470.9,133.7) rotate(-90)">RLU</text>
<text x="582.50" y="248.10" font-size="9.8" text-anchor="middle" font-weight="normal" fill="#231f20" >Time (h) exposed to 37 °C</text>
<polyline points="502.8,49.7 508.2,55.6 512.8,60.6 520.8,71.6 535.3,88.7 579.9,140.3 661.3,217.4" fill="none" stroke="#e8712a" stroke-width="1.7"/>
<rect x="500.40" y="47.30" width="4.8" height="4.8" fill="#e8712a"/>
<rect x="505.80" y="53.20" width="4.8" height="4.8" fill="#e8712a"/>
<rect x="510.40" y="58.20" width="4.8" height="4.8" fill="#e8712a"/>
<rect x="518.40" y="69.20" width="4.8" height="4.8" fill="#e8712a"/>
<rect x="532.90" y="86.30" width="4.8" height="4.8" fill="#e8712a"/>
<rect x="577.50" y="137.90" width="4.8" height="4.8" fill="#e8712a"/>
<rect x="658.90" y="215.00" width="4.8" height="4.8" fill="#e8712a"/>
<polyline points="502.8,49.6 508.6,49.7 512.6,49.7 521,49.8 535.3,49.9 579.9,49.9 661.1,50.9" fill="none" stroke="#9b1c1c" stroke-width="1.7"/>
<circle cx="579.90" cy="49.90" r="2.6" fill="#9b1c1c"/>
<circle cx="661.10" cy="50.90" r="2.6" fill="#9b1c1c"/>
<polyline points="502.8,50.6 508.6,50.9 512.6,51.2 521,51.2 535.3,51.4 579.9,53.2 661.1,55.8" fill="none" stroke="#6a2c91" stroke-width="1.7"/>
<polygon points="502.80,47.90 500.00,52.62 505.60,52.62" fill="#6a2c91"/>
<polygon points="508.60,48.20 505.80,52.92 511.40,52.92" fill="#6a2c91"/>
<polygon points="512.60,48.50 509.80,53.23 515.40,53.23" fill="#6a2c91"/>
<polygon points="521.00,48.50 518.20,53.23 523.80,53.23" fill="#6a2c91"/>
<polygon points="535.30,48.70 532.50,53.42 538.10,53.42" fill="#6a2c91"/>
<polygon points="579.90,50.50 577.10,55.23 582.70,55.23" fill="#6a2c91"/>
<polygon points="661.10,53.10 658.30,57.82 663.90,57.82" fill="#6a2c91"/>
<line x1="595.10" y1="73.90" x2="611.50" y2="73.90" stroke="#6a2c91" stroke-width="1.5" />
<polygon points="603.50,71.20 600.70,75.93 606.30,75.93" fill="#6a2c91"/>
<text x="615.60" y="77.40" font-size="9.8" text-anchor="start" font-weight="normal" fill="#231f20" >CBR2opt</text>
<line x1="595.10" y1="96.60" x2="611.50" y2="96.60" stroke="#9b1c1c" stroke-width="1.5" />
<circle cx="603.50" cy="96.60" r="2.5" fill="#9b1c1c"/>
<text x="615.60" y="100.10" font-size="9.8" text-anchor="start" font-weight="normal" fill="#231f20" >CBR</text>
<line x1="595.10" y1="119.20" x2="611.50" y2="119.20" stroke="#e8712a" stroke-width="1.5" />
<rect x="601.10" y="116.80" width="4.8" height="4.8" fill="#e8712a"/>
<text x="615.60" y="122.70" font-size="9.8" text-anchor="start" font-weight="normal" fill="#231f20" >Luc2</text>
<defs><pattern id="chk" x="251" y="0" width="3.5" height="3.4" patternUnits="userSpaceOnUse"><rect width="3.5" height="3.4" fill="#d98096"/><rect width="1.75" height="1.7" fill="#7f1c35"/><rect x="1.75" y="1.7" width="1.75" height="1.7" fill="#7f1c35"/></pattern></defs>
<rect x="251.0" y="305.1" width="9" height="167.70" fill="url(#chk)"/>
<rect x="254.3" y="303.5" width="2.4" height="1.8" fill="#111"/>
<line x1="253.80" y1="304.30" x2="257.20" y2="304.30" stroke="#111" stroke-width="1" />
<rect x="265.0" y="310.1" width="9" height="162.70" fill="#6a2c8f"/>
<rect x="268.3" y="308.5" width="2.4" height="1.8" fill="#111"/>
<line x1="267.80" y1="309.30" x2="271.20" y2="309.30" stroke="#111" stroke-width="1" />
<rect x="278.1" y="315.6" width="9" height="157.20" fill="#961e1e"/>
<rect x="281.40000000000003" y="314.0" width="2.4" height="1.8" fill="#111"/>
<line x1="280.90" y1="314.80" x2="284.30" y2="314.80" stroke="#111" stroke-width="1" />
<rect x="291.8" y="328.7" width="9" height="144.10" fill="#e0702a"/>
<rect x="295.1" y="327.09999999999997" width="2.4" height="1.8" fill="#111"/>
<line x1="294.60" y1="327.90" x2="298.00" y2="327.90" stroke="#111" stroke-width="1" />
<rect x="314.5" y="378.0" width="9" height="94.80" fill="url(#chk)"/>
<rect x="317.8" y="376.4" width="2.4" height="1.8" fill="#111"/>
<line x1="317.30" y1="377.20" x2="320.70" y2="377.20" stroke="#111" stroke-width="1" />
<rect x="328.3" y="385.4" width="9" height="87.40" fill="#6a2c8f"/>
<rect x="331.6" y="383.79999999999995" width="2.4" height="1.8" fill="#111"/>
<line x1="331.10" y1="384.60" x2="334.50" y2="384.60" stroke="#111" stroke-width="1" />
<rect x="341.9" y="374.2" width="9" height="98.60" fill="#961e1e"/>
<rect x="345.2" y="372.59999999999997" width="2.4" height="1.8" fill="#111"/>
<line x1="344.70" y1="373.40" x2="348.10" y2="373.40" stroke="#111" stroke-width="1" />
<rect x="355.3" y="422.5" width="9" height="50.30" fill="#e0702a"/>
<rect x="358.6" y="420.9" width="2.4" height="1.8" fill="#111"/>
<line x1="358.10" y1="421.70" x2="361.50" y2="421.70" stroke="#111" stroke-width="1" />
<rect x="378.0" y="422.5" width="9" height="50.30" fill="url(#chk)"/>
<rect x="381.3" y="420.9" width="2.4" height="1.8" fill="#111"/>
<line x1="380.80" y1="421.70" x2="384.20" y2="421.70" stroke="#111" stroke-width="1" />
<rect x="391.7" y="429.9" width="9" height="42.90" fill="#6a2c8f"/>
<rect x="395.0" y="428.29999999999995" width="2.4" height="1.8" fill="#111"/>
<line x1="394.50" y1="429.10" x2="397.90" y2="429.10" stroke="#111" stroke-width="1" />
<rect x="405.1" y="453.6" width="9" height="19.20" fill="#961e1e"/>
<rect x="408.40000000000003" y="452.0" width="2.4" height="1.8" fill="#111"/>
<line x1="407.90" y1="452.80" x2="411.30" y2="452.80" stroke="#111" stroke-width="1" />
<line x1="244.70" y1="296.50" x2="244.70" y2="472.80" stroke="#231f20" stroke-width="1" />
<line x1="239.60" y1="472.80" x2="421.00" y2="472.80" stroke="#231f20" stroke-width="1" />
<line x1="239.60" y1="472.80" x2="244.70" y2="472.80" stroke="#231f20" stroke-width="1" />
<text x="232.2" y="476.20" font-size="9.5" text-anchor="end" fill="#231f20">10</text>
<text x="232.6" y="472.40" font-size="6" fill="#231f20">2</text>
<line x1="239.60" y1="440.66" x2="244.70" y2="440.66" stroke="#231f20" stroke-width="1" />
<text x="232.2" y="444.06" font-size="9.5" text-anchor="end" fill="#231f20">10</text>
<text x="232.6" y="440.26" font-size="6" fill="#231f20">3</text>
<line x1="239.60" y1="408.52" x2="244.70" y2="408.52" stroke="#231f20" stroke-width="1" />
<text x="232.2" y="411.92" font-size="9.5" text-anchor="end" fill="#231f20">10</text>
<text x="232.6" y="408.12" font-size="6" fill="#231f20">4</text>
<line x1="239.60" y1="376.38" x2="244.70" y2="376.38" stroke="#231f20" stroke-width="1" />
<text x="232.2" y="379.78" font-size="9.5" text-anchor="end" fill="#231f20">10</text>
<text x="232.6" y="375.98" font-size="6" fill="#231f20">5</text>
<line x1="239.60" y1="344.24" x2="244.70" y2="344.24" stroke="#231f20" stroke-width="1" />
<text x="232.2" y="347.64" font-size="9.5" text-anchor="end" fill="#231f20">10</text>
<text x="232.6" y="343.84" font-size="6" fill="#231f20">6</text>
<line x1="239.60" y1="312.10" x2="244.70" y2="312.10" stroke="#231f20" stroke-width="1" />
<text x="232.2" y="315.50" font-size="9.5" text-anchor="end" fill="#231f20">10</text>
<text x="232.6" y="311.70" font-size="6" fill="#231f20">7</text>
<line x1="275.50" y1="472.80" x2="275.50" y2="476.40" stroke="#231f20" stroke-width="1" />
<line x1="339.30" y1="472.80" x2="339.30" y2="476.40" stroke="#231f20" stroke-width="1" />
<line x1="395.70" y1="472.80" x2="395.70" y2="476.40" stroke="#231f20" stroke-width="1" />
<text x="0" y="0" font-size="9.7" text-anchor="end" fill="#231f20" transform="translate(278.0,483.4) rotate(-45)">D-LH2</text>
<text x="0" y="0" font-size="9.7" text-anchor="end" fill="#231f20" transform="translate(341.5,483.4) rotate(-45)">NH<tspan font-size="6" dy="2">2</tspan><tspan dy="-2">-NpLH2</tspan></text>
<text x="0" y="0" font-size="9.7" text-anchor="end" fill="#231f20" transform="translate(397.9,483.4) rotate(-45)">OH-NpLH2</text>
<text x="0" y="0" font-size="9.7" text-anchor="middle" fill="#231f20" transform="translate(211.9,392) rotate(-90)">RLU<tspan font-size="6.2" dy="3">max</tspan></text>
<rect x="352" y="304.4" width="18.6" height="4.2" fill="url(#chk)"/>
<text x="374.50" y="310.00" font-size="9.8" text-anchor="start" font-weight="normal" fill="#231f20" >CBR2opt</text>
<rect x="352" y="319.59999999999997" width="18.6" height="4.2" fill="#6a2c8f"/>
<text x="374.50" y="325.20" font-size="9.8" text-anchor="start" font-weight="normal" fill="#231f20" >CBR2</text>
<rect x="352" y="334.9" width="18.6" height="4.2" fill="#961e1e"/>
<text x="374.50" y="340.50" font-size="9.8" text-anchor="start" font-weight="normal" fill="#231f20" >CBR</text>
<rect x="352" y="350.09999999999997" width="18.6" height="4.2" fill="#e0702a"/>
<text x="374.50" y="355.70" font-size="9.8" text-anchor="start" font-weight="normal" fill="#231f20" >Luc2</text>
<polyline points="486.40,471.20 486.67,470.76 486.94,470.32 487.22,469.89 487.49,469.45 487.76,469.01 488.03,468.57 488.30,468.14 488.58,467.70 488.85,467.27 489.12,466.83 489.39,466.40 489.66,465.96 489.94,465.53 490.21,465.10 490.48,464.67 490.75,464.24 491.02,463.81 491.30,463.38 491.57,462.95 491.84,462.52 492.11,462.09 492.38,461.66 492.66,461.23 492.93,460.80 493.20,460.38 493.47,459.95 493.74,459.53 494.01,459.10 494.29,458.68 494.56,458.25 494.83,457.83 495.10,457.41 495.37,456.99 495.65,456.56 495.92,456.14 496.19,455.72 496.46,455.31 496.73,454.89 497.01,454.47 497.28,454.05 497.55,453.63 497.82,453.22 498.09,452.80 498.37,452.38 498.64,451.96 498.91,451.55 499.18,451.13 499.45,450.71 499.73,450.29 500.00,449.88 500.27,449.46 500.54,449.05 500.81,448.63 501.09,448.22 501.36,447.81 501.63,447.40 501.90,446.99 502.17,446.59 502.45,446.19 502.72,445.80 502.99,445.40 503.26,445.02 503.53,444.63 503.81,444.25 504.08,443.88 504.35,443.51 504.62,443.15 504.89,442.79 505.17,442.43 505.44,442.09 505.71,441.74 505.98,441.40 506.25,441.07 506.53,440.74 506.80,440.42 507.07,440.10 507.34,439.78 507.61,439.46 507.88,439.15 508.16,438.84 508.43,438.54 508.70,438.23 508.97,437.93 509.24,437.62 509.52,437.32 509.79,437.02 510.06,436.72 510.33,436.42 510.60,436.11 510.88,435.81 511.15,435.51 511.42,435.21 511.69,434.91 511.96,434.61 512.24,434.31 512.51,434.01 512.78,433.71 513.05,433.41 513.32,433.12 513.60,432.82 513.87,432.53 514.14,432.23 514.41,431.94 514.68,431.64 514.96,431.33 515.23,431.02 515.50,430.70 515.77,430.38 516.04,430.04 516.32,429.69 516.59,429.32 516.86,428.94 517.13,428.53 517.40,428.11 517.68,427.67 517.95,427.20 518.22,426.71 518.49,426.19 518.76,425.65 519.04,425.07 519.31,424.47 519.58,423.84 519.85,423.19 520.12,422.51 520.39,421.80 520.67,421.06 520.94,420.30 521.21,419.51 521.48,418.70 521.75,417.86 522.03,416.99 522.30,416.10 522.57,415.18 522.84,414.22 523.11,413.23 523.39,412.21 523.66,411.16 523.93,410.06 524.20,408.94 524.47,407.78 524.75,406.59 525.02,405.38 525.29,404.14 525.56,402.89 525.83,401.62 526.11,400.34 526.38,399.06 526.65,397.77 526.92,396.47 527.19,395.17 527.47,393.85 527.74,392.52 528.01,391.16 528.28,389.78 528.55,388.35 528.83,386.89 529.10,385.37 529.37,383.81 529.64,382.19 529.91,380.51 530.19,378.78 530.46,377.00 530.73,375.17 531.00,373.30 531.27,371.39 531.55,369.44 531.82,367.47 532.09,365.47 532.36,363.46 532.63,361.43 532.91,359.40 533.18,357.38 533.45,355.37 533.72,353.38 533.99,351.41 534.26,349.49 534.54,347.60 534.81,345.77 535.08,343.98 535.35,342.25 535.62,340.57 535.90,338.94 536.17,337.36 536.44,335.84 536.71,334.36 536.98,332.92 537.26,331.52 537.53,330.16 537.80,328.84 538.07,327.55 538.34,326.29 538.62,325.07 538.89,323.87 539.16,322.71 539.43,321.58 539.70,320.48 539.98,319.42 540.25,318.41 540.52,317.43 540.79,316.50 541.06,315.61 541.34,314.77 541.61,313.98 541.88,313.24 542.15,312.55 542.42,311.91 542.70,311.33 542.97,310.81 543.24,310.36 543.51,309.96 543.78,309.64 544.06,309.39 544.33,309.22 544.60,309.12 544.87,309.10 545.14,309.16 545.42,309.28 545.69,309.49 545.96,309.75 546.23,310.08 546.50,310.48 546.78,310.93 547.05,311.43 547.32,311.99 547.59,312.60 547.86,313.26 548.13,313.98 548.41,314.76 548.68,315.58 548.95,316.47 549.22,317.42 549.49,318.42 549.77,319.49 550.04,320.62 550.31,321.81 550.58,323.07 550.85,324.38 551.13,325.74 551.40,327.15 551.67,328.61 551.94,330.10 552.21,331.62 552.49,333.16 552.76,334.72 553.03,336.28 553.30,337.85 553.57,339.41 553.85,340.98 554.12,342.53 554.39,344.08 554.66,345.62 554.93,347.16 555.21,348.68 555.48,350.21 555.75,351.72 556.02,353.24 556.29,354.75 556.57,356.26 556.84,357.76 557.11,359.27 557.38,360.77 557.65,362.27 557.93,363.76 558.20,365.24 558.47,366.71 558.74,368.17 559.01,369.60 559.29,371.02 559.56,372.41 559.83,373.77 560.10,375.09 560.37,376.38 560.65,377.63 560.92,378.84 561.19,380.01 561.46,381.14 561.73,382.24 562.00,383.31 562.28,384.34 562.55,385.35 562.82,386.33 563.09,387.29 563.36,388.23 563.64,389.15 563.91,390.06 564.18,390.96 564.45,391.85 564.72,392.73 565.00,393.61 565.27,394.49 565.54,395.37 565.81,396.25 566.08,397.14 566.36,398.03 566.63,398.93 566.90,399.83 567.17,400.75 567.44,401.66 567.72,402.59 567.99,403.51 568.26,404.44 568.53,405.37 568.80,406.30 569.08,407.23 569.35,408.16 569.62,409.08 569.89,409.99 570.16,410.89 570.44,411.78 570.71,412.66 570.98,413.53 571.25,414.38 571.52,415.22 571.80,416.05 572.07,416.86 572.34,417.67 572.61,418.46 572.88,419.24 573.16,420.01 573.43,420.77 573.70,421.52 573.97,422.26 574.24,422.99 574.52,423.72 574.79,424.43 575.06,425.14 575.33,425.84 575.60,426.53 575.87,427.22 576.15,427.89 576.42,428.56 576.69,429.22 576.96,429.88 577.23,430.52 577.51,431.16 577.78,431.79 578.05,432.41 578.32,433.02 578.59,433.63 578.87,434.23 579.14,434.83 579.41,435.42 579.68,436.00 579.95,436.58 580.23,437.16 580.50,437.73 580.77,438.30 581.04,438.86 581.31,439.42 581.59,439.97 581.86,440.52 582.13,441.07 582.40,441.61 582.67,442.14 582.95,442.67 583.22,443.20 583.49,443.71 583.76,444.22 584.03,444.73 584.31,445.22 584.58,445.71 584.85,446.19 585.12,446.66 585.39,447.12 585.67,447.57 585.94,448.01 586.21,448.45 586.48,448.87 586.75,449.28 587.03,449.69 587.30,450.08 587.57,450.46 587.84,450.84 588.11,451.20 588.38,451.56 588.66,451.91 588.93,452.25 589.20,452.59 589.47,452.92 589.74,453.25 590.02,453.57 590.29,453.88 590.56,454.19 590.83,454.50 591.10,454.80 591.38,455.10 591.65,455.39 591.92,455.68 592.19,455.97 592.46,456.25 592.74,456.53 593.01,456.80 593.28,457.07 593.55,457.33 593.82,457.59 594.10,457.84 594.37,458.09 594.64,458.34 594.91,458.58 595.18,458.81 595.46,459.04 595.73,459.26 596.00,459.48 596.27,459.69 596.54,459.90 596.82,460.10 597.09,460.30 597.36,460.49 597.63,460.67 597.90,460.85 598.18,461.03 598.45,461.20 598.72,461.36 598.99,461.52 599.26,461.68 599.54,461.83 599.81,461.98 600.08,462.12 600.35,462.26 600.62,462.40 600.90,462.53 601.17,462.66 601.44,462.79 601.71,462.92 601.98,463.04 602.25,463.16 602.53,463.28 602.80,463.40 603.07,463.52 603.34,463.63 603.61,463.74 603.89,463.85 604.16,463.96 604.43,464.07 604.70,464.17 604.97,464.27 605.25,464.37 605.52,464.47 605.79,464.57 606.06,464.67 606.33,464.76 606.61,464.86 606.88,464.95 607.15,465.04 607.42,465.13 607.69,465.21 607.97,465.30 608.24,465.38 608.51,465.47 608.78,465.55 609.05,465.63 609.33,465.71 609.60,465.79 609.87,465.86 610.14,465.94 610.41,466.02 610.69,466.09 610.96,466.16 611.23,466.24 611.50,466.31 611.77,466.38 612.05,466.45 612.32,466.52 612.59,466.59 612.86,466.65 613.13,466.72 613.41,466.79 613.68,466.86 613.95,466.92 614.22,466.99 614.49,467.05 614.77,467.12 615.04,467.18 615.31,467.24 615.58,467.31 615.85,467.37 616.12,467.43 616.40,467.49 616.67,467.55 616.94,467.61 617.21,467.67 617.48,467.73 617.76,467.79 618.03,467.85 618.30,467.90 618.57,467.96 618.84,468.01 619.12,468.07 619.39,468.12 619.66,468.18 619.93,468.23 620.20,468.28 620.48,468.33 620.75,468.38 621.02,468.43 621.29,468.48 621.56,468.52 621.84,468.57 622.11,468.61 622.38,468.66 622.65,468.70 622.92,468.74 623.20,468.79 623.47,468.83 623.74,468.87 624.01,468.90 624.28,468.94 624.56,468.98 624.83,469.01 625.10,469.05 625.37,469.08 625.64,469.11 625.92,469.15 626.19,469.18 626.46,469.21 626.73,469.24 627.00,469.27 627.28,469.29 627.55,469.32 627.82,469.35 628.09,469.38 628.36,469.40 628.64,469.43 628.91,469.45 629.18,469.48 629.45,469.51 629.72,469.53 629.99,469.56 630.27,469.58 630.54,469.61 630.81,469.63 631.08,469.65 631.35,469.68 631.63,469.70 631.90,469.73 632.17,469.75 632.44,469.77 632.71,469.80 632.99,469.82 633.26,469.84 633.53,469.86 633.80,469.89 634.07,469.91 634.35,469.93 634.62,469.95 634.89,469.97 635.16,469.99 635.43,470.01 635.71,470.03 635.98,470.05 636.25,470.07 636.52,470.09 636.79,470.11 637.07,470.13 637.34,470.15 637.61,470.17 637.88,470.19 638.15,470.21 638.43,470.22 638.70,470.24 638.97,470.26 639.24,470.28 639.51,470.29 639.79,470.31 640.06,470.33 640.33,470.34 640.60,470.36 640.87,470.37 641.15,470.39 641.42,470.40 641.69,470.42 641.96,470.43 642.23,470.45 642.51,470.46 642.78,470.47 643.05,470.49 643.32,470.50 643.59,470.51 643.86,470.53 644.14,470.54 644.41,470.55 644.68,470.56 644.95,470.57 645.22,470.58 645.50,470.59 645.77,470.60 646.04,470.61 646.31,470.62 646.58,470.63 646.86,470.64 647.13,470.65 647.40,470.66 647.67,470.67 647.94,470.67 648.22,470.68 648.49,470.69 648.76,470.69 649.03,470.70 649.30,470.71 649.58,470.71 649.85,470.72 650.12,470.73 650.39,470.73 650.66,470.74 650.94,470.74 651.21,470.75 651.48,470.75 651.75,470.76 652.02,470.76 652.30,470.77 652.57,470.77 652.84,470.78 653.11,470.78 653.38,470.79 653.66,470.80 653.93,470.80 654.20,470.81 654.47,470.81 654.74,470.82 655.02,470.82 655.29,470.82 655.56,470.83 655.83,470.83 656.10,470.84 656.37,470.84 656.65,470.85 656.92,470.85 657.19,470.86 657.46,470.86 657.73,470.87 658.01,470.87 658.28,470.88 658.55,470.88 658.82,470.88 659.09,470.89 659.37,470.89 659.64,470.90 659.91,470.90 660.18,470.91 660.45,470.91 660.73,470.91 661.00,470.92 661.27,470.92 661.54,470.92 661.81,470.93 662.09,470.93 662.36,470.94 662.63,470.94 662.90,470.94 663.17,470.95 663.45,470.95 663.72,470.95 663.99,470.96 664.26,470.96 664.53,470.96 664.81,470.97 665.08,470.97 665.35,470.97 665.62,470.97 665.89,470.98 666.17,470.98 666.44,470.98 666.71,470.99 666.98,470.99 667.25,470.99 667.53,470.99 667.80,471.00 668.07,471.00 668.34,471.00 668.61,471.00 668.89,471.01 669.16,471.01 669.43,471.01 669.70,471.01 669.97,471.01 670.24,471.01 670.52,471.02 670.79,471.02 671.06,471.02 671.33,471.02 671.60,471.02 671.88,471.02 672.15,471.03 672.42,471.03 672.69,471.03 672.96,471.03 673.24,471.03 673.51,471.03 673.78,471.03 674.05,471.03 674.32,471.03 674.60,471.03 674.87,471.03 675.14,471.03 675.41,471.04 675.68,471.04 675.96,471.04 676.23,471.04 676.50,471.04" fill="none" stroke="#f0a350" stroke-width="1.6" stroke-linejoin="round"/>
<polyline points="486.40,471.20 486.67,471.20 486.94,471.20 487.22,471.20 487.49,471.20 487.76,471.20 488.03,471.20 488.30,471.20 488.58,471.20 488.85,471.20 489.12,471.20 489.39,471.20 489.66,471.20 489.94,471.20 490.21,471.19 490.48,471.19 490.75,471.19 491.02,471.19 491.30,471.19 491.57,471.19 491.84,471.19 492.11,471.19 492.38,471.19 492.66,471.19 492.93,471.19 493.20,471.18 493.47,471.18 493.74,471.18 494.01,471.18 494.29,471.18 494.56,471.18 494.83,471.18 495.10,471.18 495.37,471.17 495.65,471.17 495.92,471.17 496.19,471.17 496.46,471.17 496.73,471.16 497.01,471.16 497.28,471.16 497.55,471.16 497.82,471.16 498.09,471.15 498.37,471.15 498.64,471.15 498.91,471.15 499.18,471.15 499.45,471.14 499.73,471.14 500.00,471.14 500.27,471.14 500.54,471.13 500.81,471.13 501.09,471.13 501.36,471.13 501.63,471.12 501.90,471.12 502.17,471.12 502.45,471.11 502.72,471.11 502.99,471.11 503.26,471.10 503.53,471.10 503.81,471.10 504.08,471.09 504.35,471.09 504.62,471.09 504.89,471.08 505.17,471.08 505.44,471.08 505.71,471.07 505.98,471.07 506.25,471.06 506.53,471.06 506.80,471.06 507.07,471.05 507.34,471.05 507.61,471.04 507.88,471.03 508.16,471.03 508.43,471.02 508.70,471.01 508.97,471.00 509.24,470.99 509.52,470.98 509.79,470.97 510.06,470.95 510.33,470.94 510.60,470.92 510.88,470.90 511.15,470.88 511.42,470.86 511.69,470.83 511.96,470.81 512.24,470.78 512.51,470.75 512.78,470.72 513.05,470.69 513.32,470.66 513.60,470.62 513.87,470.59 514.14,470.55 514.41,470.50 514.68,470.46 514.96,470.41 515.23,470.36 515.50,470.30 515.77,470.24 516.04,470.17 516.32,470.09 516.59,470.00 516.86,469.90 517.13,469.78 517.40,469.65 517.68,469.50 517.95,469.33 518.22,469.13 518.49,468.92 518.76,468.69 519.04,468.43 519.31,468.15 519.58,467.85 519.85,467.53 520.12,467.18 520.39,466.82 520.67,466.42 520.94,466.01 521.21,465.56 521.48,465.09 521.75,464.58 522.03,464.03 522.30,463.45 522.57,462.84 522.84,462.18 523.11,461.47 523.39,460.73 523.66,459.93 523.93,459.09 524.20,458.20 524.47,457.25 524.75,456.26 525.02,455.20 525.29,454.09 525.56,452.91 525.83,451.67 526.11,450.38 526.38,449.01 526.65,447.59 526.92,446.12 527.19,444.59 527.47,443.00 527.74,441.37 528.01,439.70 528.28,437.98 528.55,436.22 528.83,434.42 529.10,432.59 529.37,430.73 529.64,428.83 529.91,426.90 530.19,424.94 530.46,422.97 530.73,420.97 531.00,418.96 531.27,416.93 531.55,414.91 531.82,412.87 532.09,410.84 532.36,408.81 532.63,406.78 532.91,404.75 533.18,402.71 533.45,400.67 533.72,398.62 533.99,396.55 534.26,394.47 534.54,392.36 534.81,390.22 535.08,388.05 535.35,385.84 535.62,383.61 535.90,381.35 536.17,379.06 536.44,376.75 536.71,374.43 536.98,372.10 537.26,369.77 537.53,367.45 537.80,365.15 538.07,362.86 538.34,360.60 538.62,358.38 538.89,356.19 539.16,354.05 539.43,351.96 539.70,349.93 539.98,347.96 540.25,346.05 540.52,344.20 540.79,342.41 541.06,340.68 541.34,339.01 541.61,337.40 541.88,335.83 542.15,334.30 542.42,332.82 542.70,331.37 542.97,329.95 543.24,328.57 543.51,327.21 543.78,325.87 544.06,324.56 544.33,323.27 544.60,322.01 544.87,320.78 545.14,319.59 545.42,318.44 545.69,317.34 545.96,316.29 546.23,315.29 546.50,314.36 546.78,313.49 547.05,312.70 547.32,311.98 547.59,311.33 547.86,310.76 548.13,310.27 548.41,309.87 548.68,309.54 548.95,309.31 549.22,309.16 549.49,309.10 549.77,309.13 550.04,309.25 550.31,309.46 550.58,309.76 550.85,310.16 551.13,310.64 551.40,311.22 551.67,311.88 551.94,312.64 552.21,313.47 552.49,314.39 552.76,315.37 553.03,316.42 553.30,317.52 553.57,318.65 553.85,319.82 554.12,321.02 554.39,322.23 554.66,323.46 554.93,324.71 555.21,325.97 555.48,327.26 555.75,328.57 556.02,329.91 556.29,331.28 556.57,332.70 556.84,334.16 557.11,335.67 557.38,337.22 557.65,338.82 557.93,340.47 558.20,342.15 558.47,343.85 558.74,345.59 559.01,347.33 559.29,349.08 559.56,350.83 559.83,352.58 560.10,354.31 560.37,356.02 560.65,357.71 560.92,359.38 561.19,361.02 561.46,362.63 561.73,364.22 562.00,365.77 562.28,367.29 562.55,368.78 562.82,370.23 563.09,371.64 563.36,373.02 563.64,374.35 563.91,375.65 564.18,376.91 564.45,378.14 564.72,379.33 565.00,380.49 565.27,381.61 565.54,382.71 565.81,383.77 566.08,384.82 566.36,385.84 566.63,386.83 566.90,387.81 567.17,388.76 567.44,389.70 567.72,390.62 567.99,391.52 568.26,392.42 568.53,393.30 568.80,394.18 569.08,395.06 569.35,395.93 569.62,396.80 569.89,397.68 570.16,398.56 570.44,399.45 570.71,400.34 570.98,401.25 571.25,402.15 571.52,403.07 571.80,403.98 572.07,404.90 572.34,405.83 572.61,406.75 572.88,407.67 573.16,408.58 573.43,409.49 573.70,410.39 573.97,411.28 574.24,412.16 574.52,413.03 574.79,413.89 575.06,414.73 575.33,415.57 575.60,416.39 575.87,417.20 576.15,418.00 576.42,418.79 576.69,419.57 576.96,420.34 577.23,421.10 577.51,421.85 577.78,422.60 578.05,423.34 578.32,424.07 578.59,424.79 578.87,425.50 579.14,426.20 579.41,426.90 579.68,427.58 579.95,428.26 580.23,428.92 580.50,429.58 580.77,430.22 581.04,430.86 581.31,431.48 581.59,432.09 581.86,432.70 582.13,433.29 582.40,433.87 582.67,434.44 582.95,435.00 583.22,435.55 583.49,436.09 583.76,436.62 584.03,437.15 584.31,437.67 584.58,438.18 584.85,438.68 585.12,439.18 585.39,439.67 585.67,440.16 585.94,440.64 586.21,441.11 586.48,441.58 586.75,442.04 587.03,442.50 587.30,442.95 587.57,443.39 587.84,443.83 588.11,444.26 588.38,444.68 588.66,445.10 588.93,445.51 589.20,445.92 589.47,446.32 589.74,446.72 590.02,447.10 590.29,447.49 590.56,447.86 590.83,448.23 591.10,448.60 591.38,448.96 591.65,449.32 591.92,449.67 592.19,450.01 592.46,450.36 592.74,450.69 593.01,451.03 593.28,451.36 593.55,451.68 593.82,452.01 594.10,452.33 594.37,452.64 594.64,452.96 594.91,453.26 595.18,453.57 595.46,453.87 595.73,454.17 596.00,454.46 596.27,454.75 596.54,455.03 596.82,455.31 597.09,455.59 597.36,455.86 597.63,456.12 597.90,456.38 598.18,456.63 598.45,456.88 598.72,457.13 598.99,457.36 599.26,457.59 599.54,457.82 599.81,458.04 600.08,458.25 600.35,458.46 600.62,458.67 600.90,458.86 601.17,459.06 601.44,459.25 601.71,459.43 601.98,459.61 602.25,459.79 602.53,459.96 602.80,460.13 603.07,460.30 603.34,460.46 603.61,460.62 603.89,460.78 604.16,460.94 604.43,461.09 604.70,461.24 604.97,461.39 605.25,461.54 605.52,461.68 605.79,461.82 606.06,461.96 606.33,462.10 606.61,462.24 606.88,462.37 607.15,462.50 607.42,462.63 607.69,462.75 607.97,462.88 608.24,463.00 608.51,463.12 608.78,463.23 609.05,463.35 609.33,463.46 609.60,463.57 609.87,463.68 610.14,463.78 610.41,463.89 610.69,463.99 610.96,464.09 611.23,464.19 611.50,464.28 611.77,464.38 612.05,464.47 612.32,464.56 612.59,464.65 612.86,464.74 613.13,464.83 613.41,464.91 613.68,465.00 613.95,465.08 614.22,465.16 614.49,465.24 614.77,465.32 615.04,465.40 615.31,465.48 615.58,465.56 615.85,465.63 616.12,465.71 616.40,465.78 616.67,465.85 616.94,465.92 617.21,465.99 617.48,466.06 617.76,466.13 618.03,466.19 618.30,466.26 618.57,466.32 618.84,466.39 619.12,466.45 619.39,466.51 619.66,466.57 619.93,466.63 620.20,466.69 620.48,466.75 620.75,466.80 621.02,466.86 621.29,466.91 621.56,466.96 621.84,467.01 622.11,467.06 622.38,467.11 622.65,467.16 622.92,467.21 623.20,467.26 623.47,467.31 623.74,467.35 624.01,467.40 624.28,467.44 624.56,467.49 624.83,467.53 625.10,467.58 625.37,467.62 625.64,467.67 625.92,467.71 626.19,467.75 626.46,467.80 626.73,467.84 627.00,467.88 627.28,467.92 627.55,467.96 627.82,468.01 628.09,468.05 628.36,468.09 628.64,468.13 628.91,468.17 629.18,468.21 629.45,468.25 629.72,468.29 629.99,468.33 630.27,468.37 630.54,468.41 630.81,468.45 631.08,468.49 631.35,468.53 631.63,468.56 631.90,468.60 632.17,468.64 632.44,468.68 632.71,468.71 632.99,468.75 633.26,468.79 633.53,468.82 633.80,468.86 634.07,468.89 634.35,468.93 634.62,468.96 634.89,468.99 635.16,469.03 635.43,469.06 635.71,469.09 635.98,469.13 636.25,469.16 636.52,469.19 636.79,469.22 637.07,469.25 637.34,469.28 637.61,469.31 637.88,469.34 638.15,469.37 638.43,469.40 638.70,469.43 638.97,469.45 639.24,469.48 639.51,469.51 639.79,469.53 640.06,469.56 640.33,469.59 640.60,469.61 640.87,469.64 641.15,469.66 641.42,469.68 641.69,469.71 641.96,469.73 642.23,469.75 642.51,469.77 642.78,469.79 643.05,469.81 643.32,469.83 643.59,469.85 643.86,469.87 644.14,469.89 644.41,469.91 644.68,469.93 644.95,469.94 645.22,469.96 645.50,469.98 645.77,469.99 646.04,470.01 646.31,470.02 646.58,470.03 646.86,470.05 647.13,470.06 647.40,470.07 647.67,470.09 647.94,470.10 648.22,470.11 648.49,470.13 648.76,470.14 649.03,470.15 649.30,470.16 649.58,470.17 649.85,470.19 650.12,470.20 650.39,470.21 650.66,470.22 650.94,470.23 651.21,470.24 651.48,470.26 651.75,470.27 652.02,470.28 652.30,470.29 652.57,470.30 652.84,470.31 653.11,470.32 653.38,470.34 653.66,470.35 653.93,470.36 654.20,470.37 654.47,470.38 654.74,470.39 655.02,470.40 655.29,470.41 655.56,470.42 655.83,470.43 656.10,470.44 656.37,470.45 656.65,470.46 656.92,470.47 657.19,470.48 657.46,470.49 657.73,470.50 658.01,470.51 658.28,470.52 658.55,470.53 658.82,470.54 659.09,470.55 659.37,470.56 659.64,470.57 659.91,470.58 660.18,470.58 660.45,470.59 660.73,470.60 661.00,470.61 661.27,470.62 661.54,470.63 661.81,470.64 662.09,470.64 662.36,470.65 662.63,470.66 662.90,470.67 663.17,470.67 663.45,470.68 663.72,470.69 663.99,470.70 664.26,470.70 664.53,470.71 664.81,470.72 665.08,470.72 665.35,470.73 665.62,470.74 665.89,470.74 666.17,470.75 666.44,470.76 666.71,470.76 666.98,470.77 667.25,470.77 667.53,470.78 667.80,470.78 668.07,470.79 668.34,470.79 668.61,470.80 668.89,470.80 669.16,470.81 669.43,470.81 669.70,470.82 669.97,470.82 670.24,470.82 670.52,470.83 670.79,470.83 671.06,470.84 671.33,470.84 671.60,470.84 671.88,470.85 672.15,470.85 672.42,470.85 672.69,470.85 672.96,470.86 673.24,470.86 673.51,470.86 673.78,470.86 674.05,470.86 674.32,470.87 674.60,470.87 674.87,470.87 675.14,470.87 675.41,470.87 675.68,470.87 675.96,470.87 676.23,470.87 676.50,470.87" fill="none" stroke="#6a2c91" stroke-width="1.6" stroke-linejoin="round"/>
<polyline points="486.40,471.20 486.67,471.19 486.94,471.17 487.22,471.16 487.49,471.15 487.76,471.13 488.03,471.12 488.30,471.11 488.58,471.09 488.85,471.08 489.12,471.06 489.39,471.05 489.66,471.03 489.94,471.02 490.21,471.00 490.48,470.99 490.75,470.97 491.02,470.96 491.30,470.94 491.57,470.93 491.84,470.91 492.11,470.89 492.38,470.88 492.66,470.86 492.93,470.84 493.20,470.82 493.47,470.81 493.74,470.79 494.01,470.77 494.29,470.75 494.56,470.74 494.83,470.72 495.10,470.70 495.37,470.68 495.65,470.66 495.92,470.64 496.19,470.62 496.46,470.60 496.73,470.58 497.01,470.56 497.28,470.54 497.55,470.52 497.82,470.49 498.09,470.47 498.37,470.45 498.64,470.42 498.91,470.39 499.18,470.37 499.45,470.34 499.73,470.31 500.00,470.28 500.27,470.25 500.54,470.22 500.81,470.19 501.09,470.16 501.36,470.13 501.63,470.09 501.90,470.06 502.17,470.03 502.45,470.00 502.72,469.97 502.99,469.94 503.26,469.91 503.53,469.88 503.81,469.85 504.08,469.83 504.35,469.80 504.62,469.78 504.89,469.75 505.17,469.73 505.44,469.71 505.71,469.69 505.98,469.67 506.25,469.66 506.53,469.65 506.80,469.64 507.07,469.63 507.34,469.62 507.61,469.62 507.88,469.62 508.16,469.63 508.43,469.63 508.70,469.64 508.97,469.66 509.24,469.68 509.52,469.70 509.79,469.72 510.06,469.74 510.33,469.77 510.60,469.80 510.88,469.82 511.15,469.85 511.42,469.88 511.69,469.91 511.96,469.93 512.24,469.95 512.51,469.97 512.78,469.99 513.05,470.00 513.32,470.02 513.60,470.03 513.87,470.03 514.14,470.04 514.41,470.04 514.68,470.04 514.96,470.04 515.23,470.03 515.50,470.03 515.77,470.02 516.04,470.01 516.32,470.01 516.59,470.00 516.86,469.99 517.13,469.98 517.40,469.97 517.68,469.95 517.95,469.94 518.22,469.93 518.49,469.91 518.76,469.90 519.04,469.88 519.31,469.86 519.58,469.84 519.85,469.82 520.12,469.79 520.39,469.77 520.67,469.74 520.94,469.71 521.21,469.67 521.48,469.64 521.75,469.60 522.03,469.56 522.30,469.51 522.57,469.46 522.84,469.42 523.11,469.36 523.39,469.31 523.66,469.25 523.93,469.18 524.20,469.12 524.47,469.04 524.75,468.97 525.02,468.88 525.29,468.79 525.56,468.69 525.83,468.58 526.11,468.46 526.38,468.33 526.65,468.19 526.92,468.03 527.19,467.87 527.47,467.70 527.74,467.51 528.01,467.31 528.28,467.11 528.55,466.89 528.83,466.66 529.10,466.42 529.37,466.17 529.64,465.91 529.91,465.64 530.19,465.36 530.46,465.07 530.73,464.78 531.00,464.47 531.27,464.15 531.55,463.81 531.82,463.47 532.09,463.10 532.36,462.72 532.63,462.33 532.91,461.91 533.18,461.47 533.45,461.00 533.72,460.51 533.99,460.00 534.26,459.46 534.54,458.89 534.81,458.30 535.08,457.68 535.35,457.03 535.62,456.37 535.90,455.68 536.17,454.96 536.44,454.22 536.71,453.45 536.98,452.66 537.26,451.84 537.53,450.98 537.80,450.10 538.07,449.19 538.34,448.24 538.62,447.26 538.89,446.25 539.16,445.21 539.43,444.14 539.70,443.06 539.98,441.96 540.25,440.85 540.52,439.73 540.79,438.61 541.06,437.50 541.34,436.40 541.61,435.30 541.88,434.22 542.15,433.14 542.42,432.08 542.70,431.04 542.97,430.00 543.24,428.98 543.51,427.97 543.78,426.97 544.06,425.99 544.33,425.02 544.60,424.07 544.87,423.13 545.14,422.21 545.42,421.31 545.69,420.44 545.96,419.58 546.23,418.75 546.50,417.94 546.78,417.15 547.05,416.39 547.32,415.65 547.59,414.93 547.86,414.23 548.13,413.55 548.41,412.90 548.68,412.25 548.95,411.63 549.22,411.02 549.49,410.42 549.77,409.84 550.04,409.26 550.31,408.70 550.58,408.14 550.85,407.59 551.13,407.04 551.40,406.50 551.67,405.96 551.94,405.43 552.21,404.89 552.49,404.35 552.76,403.81 553.03,403.27 553.30,402.72 553.57,402.17 553.85,401.61 554.12,401.03 554.39,400.45 554.66,399.86 554.93,399.26 555.21,398.65 555.48,398.02 555.75,397.38 556.02,396.73 556.29,396.08 556.57,395.41 556.84,394.75 557.11,394.08 557.38,393.41 557.65,392.75 557.93,392.10 558.20,391.45 558.47,390.82 558.74,390.20 559.01,389.60 559.29,389.01 559.56,388.43 559.83,387.87 560.10,387.31 560.37,386.76 560.65,386.22 560.92,385.68 561.19,385.14 561.46,384.59 561.73,384.04 562.00,383.47 562.28,382.90 562.55,382.32 562.82,381.72 563.09,381.11 563.36,380.48 563.64,379.84 563.91,379.19 564.18,378.52 564.45,377.84 564.72,377.14 565.00,376.44 565.27,375.73 565.54,375.01 565.81,374.28 566.08,373.55 566.36,372.82 566.63,372.08 566.90,371.34 567.17,370.59 567.44,369.85 567.72,369.11 567.99,368.37 568.26,367.63 568.53,366.90 568.80,366.16 569.08,365.43 569.35,364.70 569.62,363.98 569.89,363.25 570.16,362.53 570.44,361.81 570.71,361.08 570.98,360.36 571.25,359.64 571.52,358.92 571.80,358.20 572.07,357.48 572.34,356.76 572.61,356.04 572.88,355.32 573.16,354.60 573.43,353.88 573.70,353.16 573.97,352.44 574.24,351.72 574.52,350.99 574.79,350.27 575.06,349.55 575.33,348.82 575.60,348.10 575.87,347.37 576.15,346.65 576.42,345.93 576.69,345.20 576.96,344.48 577.23,343.76 577.51,343.04 577.78,342.32 578.05,341.60 578.32,340.89 578.59,340.17 578.87,339.45 579.14,338.74 579.41,338.02 579.68,337.31 579.95,336.59 580.23,335.88 580.50,335.17 580.77,334.46 581.04,333.76 581.31,333.08 581.59,332.41 581.86,331.75 582.13,331.11 582.40,330.50 582.67,329.90 582.95,329.34 583.22,328.80 583.49,328.28 583.76,327.80 584.03,327.34 584.31,326.90 584.58,326.48 584.85,326.09 585.12,325.72 585.39,325.36 585.67,325.02 585.94,324.69 586.21,324.37 586.48,324.07 586.75,323.77 587.03,323.48 587.30,323.21 587.57,322.93 587.84,322.67 588.11,322.41 588.38,322.16 588.66,321.91 588.93,321.67 589.20,321.43 589.47,321.20 589.74,320.97 590.02,320.75 590.29,320.53 590.56,320.31 590.83,320.10 591.10,319.89 591.38,319.68 591.65,319.48 591.92,319.27 592.19,319.07 592.46,318.87 592.74,318.68 593.01,318.48 593.28,318.28 593.55,318.09 593.82,317.89 594.10,317.69 594.37,317.50 594.64,317.30 594.91,317.10 595.18,316.91 595.46,316.71 595.73,316.51 596.00,316.32 596.27,316.12 596.54,315.92 596.82,315.73 597.09,315.53 597.36,315.34 597.63,315.14 597.90,314.95 598.18,314.75 598.45,314.56 598.72,314.37 598.99,314.17 599.26,313.98 599.54,313.79 599.81,313.60 600.08,313.41 600.35,313.21 600.62,313.02 600.90,312.82 601.17,312.63 601.44,312.43 601.71,312.23 601.98,312.03 602.25,311.83 602.53,311.62 602.80,311.42 603.07,311.22 603.34,311.02 603.61,310.83 603.89,310.64 604.16,310.46 604.43,310.29 604.70,310.13 604.97,309.98 605.25,309.84 605.52,309.72 605.79,309.60 606.06,309.51 606.33,309.42 606.61,309.34 606.88,309.28 607.15,309.22 607.42,309.17 607.69,309.14 607.97,309.11 608.24,309.10 608.51,309.10 608.78,309.12 609.05,309.15 609.33,309.20 609.60,309.27 609.87,309.37 610.14,309.49 610.41,309.64 610.69,309.81 610.96,310.01 611.23,310.24 611.50,310.50 611.77,310.78 612.05,311.10 612.32,311.45 612.59,311.82 612.86,312.23 613.13,312.66 613.41,313.13 613.68,313.62 613.95,314.14 614.22,314.69 614.49,315.27 614.77,315.88 615.04,316.51 615.31,317.17 615.58,317.86 615.85,318.57 616.12,319.31 616.40,320.08 616.67,320.86 616.94,321.66 617.21,322.48 617.48,323.31 617.76,324.15 618.03,325.00 618.30,325.84 618.57,326.69 618.84,327.54 619.12,328.38 619.39,329.22 619.66,330.06 619.93,330.89 620.20,331.73 620.48,332.56 620.75,333.40 621.02,334.24 621.29,335.09 621.56,335.95 621.84,336.81 622.11,337.69 622.38,338.57 622.65,339.47 622.92,340.37 623.20,341.29 623.47,342.21 623.74,343.15 624.01,344.09 624.28,345.04 624.56,345.99 624.83,346.95 625.10,347.91 625.37,348.88 625.64,349.84 625.92,350.81 626.19,351.78 626.46,352.74 626.73,353.71 627.00,354.68 627.28,355.64 627.55,356.61 627.82,357.57 628.09,358.53 628.36,359.49 628.64,360.45 628.91,361.40 629.18,362.35 629.45,363.30 629.72,364.24 629.99,365.18 630.27,366.13 630.54,367.07 630.81,368.02 631.08,368.97 631.35,369.93 631.63,370.89 631.90,371.87 632.17,372.85 632.44,373.84 632.71,374.84 632.99,375.84 633.26,376.84 633.53,377.85 633.80,378.85 634.07,379.84 634.35,380.83 634.62,381.81 634.89,382.78 635.16,383.74 635.43,384.69 635.71,385.65 635.98,386.60 636.25,387.55 636.52,388.50 636.79,389.46 637.07,390.43 637.34,391.40 637.61,392.39 637.88,393.39 638.15,394.39 638.43,395.40 638.70,396.43 638.97,397.46 639.24,398.49 639.51,399.54 639.79,400.58 640.06,401.63 640.33,402.68 640.60,403.73 640.87,404.78 641.15,405.82 641.42,406.85 641.69,407.87 641.96,408.88 642.23,409.87 642.51,410.84 642.78,411.79 643.05,412.73 643.32,413.63 643.59,414.52 643.86,415.38 644.14,416.22 644.41,417.03 644.68,417.82 644.95,418.59 645.22,419.34 645.50,420.08 645.77,420.79 646.04,421.50 646.31,422.18 646.58,422.85 646.86,423.52 647.13,424.16 647.40,424.80 647.67,425.43 647.94,426.04 648.22,426.65 648.49,427.24 648.76,427.83 649.03,428.40 649.30,428.97 649.58,429.53 649.85,430.08 650.12,430.63 650.39,431.16 650.66,431.69 650.94,432.21 651.21,432.72 651.48,433.22 651.75,433.72 652.02,434.21 652.30,434.69 652.57,435.16 652.84,435.63 653.11,436.09 653.38,436.54 653.66,436.99 653.93,437.43 654.20,437.86 654.47,438.29 654.74,438.72 655.02,439.14 655.29,439.55 655.56,439.96 655.83,440.37 656.10,440.78 656.37,441.18 656.65,441.59 656.92,441.99 657.19,442.39 657.46,442.79 657.73,443.19 658.01,443.59 658.28,444.00 658.55,444.40 658.82,444.81 659.09,445.22 659.37,445.63 659.64,446.05 659.91,446.47 660.18,446.89 660.45,447.31 660.73,447.73 661.00,448.16 661.27,448.59 661.54,449.02 661.81,449.45 662.09,449.89 662.36,450.32 662.63,450.75 662.90,451.18 663.17,451.60 663.45,452.03 663.72,452.45 663.99,452.87 664.26,453.28 664.53,453.69 664.81,454.09 665.08,454.49 665.35,454.88 665.62,455.26 665.89,455.64 666.17,456.01 666.44,456.37 666.71,456.73 666.98,457.07 667.25,457.42 667.53,457.75 667.80,458.09 668.07,458.41 668.34,458.73 668.61,459.05 668.89,459.36 669.16,459.67 669.43,459.97 669.70,460.27 669.97,460.57 670.24,460.86 670.52,461.15 670.79,461.44 671.06,461.72 671.33,461.99 671.60,462.26 671.88,462.53 672.15,462.79 672.42,463.05 672.69,463.31 672.96,463.55 673.24,463.80 673.51,464.04 673.78,464.27 674.05,464.50 674.32,464.72 674.60,464.94 674.87,465.15 675.14,465.35 675.41,465.55 675.68,465.74 675.96,465.93 676.23,466.11 676.50,466.29" fill="none" stroke="#8e1c1f" stroke-width="1.6" stroke-linejoin="round"/>
<line x1="486.40" y1="300.20" x2="486.40" y2="471.20" stroke="#231f20" stroke-width="1" />
<line x1="485.90" y1="471.20" x2="677.00" y2="471.20" stroke="#231f20" stroke-width="1" />
<line x1="482.20" y1="471.20" x2="486.40" y2="471.20" stroke="#231f20" stroke-width="1" />
<text x="478.60" y="473.70" font-size="9.7" text-anchor="end" font-weight="normal" fill="#231f20" >0.0</text>
<line x1="482.20" y1="438.78" x2="486.40" y2="438.78" stroke="#231f20" stroke-width="1" />
<text x="478.60" y="441.28" font-size="9.7" text-anchor="end" font-weight="normal" fill="#231f20" >0.2</text>
<line x1="482.20" y1="406.36" x2="486.40" y2="406.36" stroke="#231f20" stroke-width="1" />
<text x="478.60" y="408.86" font-size="9.7" text-anchor="end" font-weight="normal" fill="#231f20" >0.4</text>
<line x1="482.20" y1="373.94" x2="486.40" y2="373.94" stroke="#231f20" stroke-width="1" />
<text x="478.60" y="376.44" font-size="9.7" text-anchor="end" font-weight="normal" fill="#231f20" >0.6</text>
<line x1="482.20" y1="341.52" x2="486.40" y2="341.52" stroke="#231f20" stroke-width="1" />
<text x="478.60" y="344.02" font-size="9.7" text-anchor="end" font-weight="normal" fill="#231f20" >0.8</text>
<line x1="482.20" y1="309.10" x2="486.40" y2="309.10" stroke="#231f20" stroke-width="1" />
<text x="478.60" y="311.60" font-size="9.7" text-anchor="end" font-weight="normal" fill="#231f20" >1.0</text>
<line x1="486.40" y1="471.20" x2="486.40" y2="476.00" stroke="#231f20" stroke-width="1" />
<text x="486.40" y="487.70" font-size="9.7" text-anchor="middle" font-weight="normal" fill="#231f20" >500</text>
<line x1="513.56" y1="471.20" x2="513.56" y2="476.00" stroke="#231f20" stroke-width="1" />
<text x="513.56" y="487.70" font-size="9.7" text-anchor="middle" font-weight="normal" fill="#231f20" >550</text>
<line x1="540.71" y1="471.20" x2="540.71" y2="476.00" stroke="#231f20" stroke-width="1" />
<text x="540.71" y="487.70" font-size="9.7" text-anchor="middle" font-weight="normal" fill="#231f20" >600</text>
<line x1="567.87" y1="471.20" x2="567.87" y2="476.00" stroke="#231f20" stroke-width="1" />
<text x="567.87" y="487.70" font-size="9.7" text-anchor="middle" font-weight="normal" fill="#231f20" >650</text>
<line x1="595.03" y1="471.20" x2="595.03" y2="476.00" stroke="#231f20" stroke-width="1" />
<text x="595.03" y="487.70" font-size="9.7" text-anchor="middle" font-weight="normal" fill="#231f20" >700</text>
<line x1="622.19" y1="471.20" x2="622.19" y2="476.00" stroke="#231f20" stroke-width="1" />
<text x="622.19" y="487.70" font-size="9.7" text-anchor="middle" font-weight="normal" fill="#231f20" >750</text>
<line x1="649.34" y1="471.20" x2="649.34" y2="476.00" stroke="#231f20" stroke-width="1" />
<text x="649.34" y="487.70" font-size="9.7" text-anchor="middle" font-weight="normal" fill="#231f20" >800</text>
<line x1="676.50" y1="471.20" x2="676.50" y2="476.00" stroke="#231f20" stroke-width="1" />
<text x="676.50" y="487.70" font-size="9.7" text-anchor="middle" font-weight="normal" fill="#231f20" >850</text>
<text x="581.50" y="502.50" font-size="9.7" text-anchor="middle" font-weight="normal" fill="#231f20" >λ (nm)</text>
<text x="0.00" y="0.00" font-size="9.7" text-anchor="middle" font-weight="normal" fill="#231f20" transform="translate(455.9,388.4) rotate(-90)">Normalized emission (RLU)</text>
<text x="517.90" y="304.30" font-size="9.7" text-anchor="middle" font-weight="normal" fill="#231f20" >Luc2</text>
<text x="517.90" y="317.30" font-size="9.7" text-anchor="middle" font-weight="normal" fill="#231f20" >(D-LH2)</text>
<text x="574.20" y="304.30" font-size="9.7" text-anchor="middle" font-weight="normal" fill="#231f20" >CBR2opt</text>
<text x="574.20" y="317.30" font-size="9.7" text-anchor="middle" font-weight="normal" fill="#231f20" >(D-LH2)</text>
<text x="653.20" y="304.30" font-size="9.7" text-anchor="middle" font-weight="normal" fill="#231f20" >CBR2opt</text>
<text x="653.20" y="317.30" font-size="9.7" text-anchor="middle" font-weight="normal" fill="#231f20" >(NH<tspan font-size="6.2" dy="2.2">2</tspan><tspan dy="-2.2">-NpLH2)</tspan></text>
<line x1="61.65" y1="34.20" x2="76.98" y2="43.05" stroke="#4a4a4a" stroke-width="0.95" stroke-linecap="round"/>
<line x1="76.98" y1="43.05" x2="76.98" y2="60.75" stroke="#4a4a4a" stroke-width="0.95" stroke-linecap="round"/>
<line x1="76.98" y1="60.75" x2="61.65" y2="69.60" stroke="#4a4a4a" stroke-width="0.95" stroke-linecap="round"/>
<line x1="61.65" y1="69.60" x2="46.32" y2="60.75" stroke="#4a4a4a" stroke-width="0.95" stroke-linecap="round"/>
<line x1="46.32" y1="60.75" x2="46.32" y2="43.05" stroke="#4a4a4a" stroke-width="0.95" stroke-linecap="round"/>
<line x1="46.32" y1="43.05" x2="61.65" y2="34.20" stroke="#4a4a4a" stroke-width="0.95" stroke-linecap="round"/>
<line x1="62.45" y1="37.78" x2="73.48" y2="44.15" stroke="#4a4a4a" stroke-width="0.95" stroke-linecap="round"/>
<line x1="73.48" y1="59.65" x2="62.45" y2="66.02" stroke="#4a4a4a" stroke-width="0.95" stroke-linecap="round"/>
<line x1="49.02" y1="58.27" x2="49.02" y2="45.53" stroke="#4a4a4a" stroke-width="0.95" stroke-linecap="round"/>
<line x1="76.98" y1="43.05" x2="89.44" y2="39.00" stroke="#4a4a4a" stroke-width="0.95" stroke-linecap="round"/>
<line x1="96.52" y1="41.30" x2="104.22" y2="51.90" stroke="#4a4a4a" stroke-width="0.95" stroke-linecap="round"/>
<line x1="94.61" y1="42.93" x2="100.67" y2="51.27" stroke="#4a4a4a" stroke-width="0.95" stroke-linecap="round"/>
<line x1="104.22" y1="51.90" x2="96.52" y2="62.50" stroke="#4a4a4a" stroke-width="0.95" stroke-linecap="round"/>
<line x1="89.44" y1="64.80" x2="76.98" y2="60.75" stroke="#4a4a4a" stroke-width="0.95" stroke-linecap="round"/>
<text x="93.81" y="41.58" font-size="10.2" text-anchor="middle" fill="#2a2a2a">N</text>
<text x="93.81" y="70.22" font-size="10.2" text-anchor="middle" fill="#2a2a2a">S</text>
<line x1="104.22" y1="51.90" x2="121.92" y2="51.90" stroke="#4a4a4a" stroke-width="0.95" stroke-linecap="round"/>
<line x1="121.92" y1="51.90" x2="129.62" y2="41.30" stroke="#4a4a4a" stroke-width="0.95" stroke-linecap="round"/>
<line x1="125.47" y1="51.27" x2="131.52" y2="42.93" stroke="#4a4a4a" stroke-width="0.95" stroke-linecap="round"/>
<line x1="136.69" y1="39.00" x2="149.15" y2="43.05" stroke="#4a4a4a" stroke-width="0.95" stroke-linecap="round"/>
<line x1="149.15" y1="43.05" x2="149.15" y2="60.75" stroke="#4a4a4a" stroke-width="0.95" stroke-linecap="round"/>
<line x1="149.15" y1="60.75" x2="136.69" y2="64.80" stroke="#4a4a4a" stroke-width="0.95" stroke-linecap="round"/>
<line x1="129.62" y1="62.50" x2="121.92" y2="51.90" stroke="#4a4a4a" stroke-width="0.95" stroke-linecap="round"/>
<text x="132.32" y="41.58" font-size="10.2" text-anchor="middle" fill="#2a2a2a">N</text>
<text x="132.32" y="70.22" font-size="10.2" text-anchor="middle" fill="#2a2a2a">S</text>
<polygon points="149.15,43.05 163.64,34.75 161.53,31.84" fill="#111"/>
<line x1="161.34" y1="33.43" x2="159.93" y2="20.81" stroke="#4a4a4a" stroke-width="0.95"/>
<line x1="163.83" y1="33.15" x2="162.41" y2="20.53" stroke="#4a4a4a" stroke-width="0.95"/>
<text x="160.63" y="19.90" font-size="10.2" text-anchor="middle" fill="#2a2a2a">O</text>
<line x1="162.58" y1="33.29" x2="174.13" y2="38.34" stroke="#4a4a4a" stroke-width="0.95" stroke-linecap="round"/>
<text x="174.36" y="44.10" font-size="10.2" text-anchor="start" fill="#2a2a2a">OH</text>
<line x1="46.32" y1="60.75" x2="35.41" y2="67.05" stroke="#4a4a4a" stroke-width="0.95" stroke-linecap="round"/>
<text x="35.40" y="73.25" font-size="10.2" text-anchor="end" fill="#2a2a2a">HO</text>
<text x="57.60" y="32.70" font-size="8.2" text-anchor="start" fill="#2a2a2a">4′</text>
<text x="39.60" y="45.80" font-size="8.2" text-anchor="start" fill="#2a2a2a">5′</text>
<text x="39.00" y="61.20" font-size="8.2" text-anchor="start" fill="#2a2a2a">6′</text>
<text x="58.30" y="77.30" font-size="8.2" text-anchor="start" fill="#2a2a2a">7′</text>
<text x="103.20" y="50.90" font-size="8.2" text-anchor="start" fill="#2a2a2a">2′</text>
<text x="116.80" y="50.90" font-size="8.2" text-anchor="start" fill="#2a2a2a">2</text>
<text x="150.00" y="49.30" font-size="8.2" text-anchor="start" fill="#2a2a2a">4</text>
<text x="150.00" y="61.90" font-size="8.2" text-anchor="start" fill="#2a2a2a">5</text>
<text x="94.40" y="87.30" font-size="9.5" text-anchor="start" fill="#2a2a2a">D-LH2</text>
<line x1="61.65" y1="111.40" x2="76.98" y2="120.25" stroke="#4a4a4a" stroke-width="0.95" stroke-linecap="round"/>
<line x1="76.98" y1="120.25" x2="76.98" y2="137.95" stroke="#4a4a4a" stroke-width="0.95" stroke-linecap="round"/>
<line x1="76.98" y1="137.95" x2="61.65" y2="146.80" stroke="#4a4a4a" stroke-width="0.95" stroke-linecap="round"/>
<line x1="61.65" y1="146.80" x2="46.32" y2="137.95" stroke="#4a4a4a" stroke-width="0.95" stroke-linecap="round"/>
<line x1="46.32" y1="137.95" x2="46.32" y2="120.25" stroke="#4a4a4a" stroke-width="0.95" stroke-linecap="round"/>
<line x1="46.32" y1="120.25" x2="61.65" y2="111.40" stroke="#4a4a4a" stroke-width="0.95" stroke-linecap="round"/>
<line x1="62.45" y1="114.98" x2="73.48" y2="121.35" stroke="#4a4a4a" stroke-width="0.95" stroke-linecap="round"/>
<line x1="73.48" y1="136.85" x2="62.45" y2="143.22" stroke="#4a4a4a" stroke-width="0.95" stroke-linecap="round"/>
<line x1="49.02" y1="135.47" x2="49.02" y2="122.73" stroke="#4a4a4a" stroke-width="0.95" stroke-linecap="round"/>
<line x1="76.98" y1="120.25" x2="89.44" y2="116.20" stroke="#4a4a4a" stroke-width="0.95" stroke-linecap="round"/>
<line x1="96.52" y1="118.50" x2="104.22" y2="129.10" stroke="#4a4a4a" stroke-width="0.95" stroke-linecap="round"/>
<line x1="94.61" y1="120.13" x2="100.67" y2="128.47" stroke="#4a4a4a" stroke-width="0.95" stroke-linecap="round"/>
<line x1="104.22" y1="129.10" x2="96.52" y2="139.70" stroke="#4a4a4a" stroke-width="0.95" stroke-linecap="round"/>
<line x1="89.44" y1="142.00" x2="76.98" y2="137.95" stroke="#4a4a4a" stroke-width="0.95" stroke-linecap="round"/>
<text x="93.81" y="118.78" font-size="10.2" text-anchor="middle" fill="#2a2a2a">N</text>
<text x="93.81" y="147.42" font-size="10.2" text-anchor="middle" fill="#2a2a2a">S</text>
<line x1="104.22" y1="129.10" x2="121.92" y2="129.10" stroke="#4a4a4a" stroke-width="0.95" stroke-linecap="round"/>
<line x1="121.92" y1="129.10" x2="129.62" y2="118.50" stroke="#4a4a4a" stroke-width="0.95" stroke-linecap="round"/>
<line x1="125.47" y1="128.47" x2="131.52" y2="120.13" stroke="#4a4a4a" stroke-width="0.95" stroke-linecap="round"/>
<line x1="136.69" y1="116.20" x2="149.15" y2="120.25" stroke="#4a4a4a" stroke-width="0.95" stroke-linecap="round"/>
<line x1="149.15" y1="120.25" x2="149.15" y2="137.95" stroke="#4a4a4a" stroke-width="0.95" stroke-linecap="round"/>
<line x1="149.15" y1="137.95" x2="136.69" y2="142.00" stroke="#4a4a4a" stroke-width="0.95" stroke-linecap="round"/>
<line x1="129.62" y1="139.70" x2="121.92" y2="129.10" stroke="#4a4a4a" stroke-width="0.95" stroke-linecap="round"/>
<text x="132.32" y="118.78" font-size="10.2" text-anchor="middle" fill="#2a2a2a">N</text>
<text x="132.32" y="147.42" font-size="10.2" text-anchor="middle" fill="#2a2a2a">S</text>
<polygon points="149.15,120.25 163.64,111.95 161.53,109.04" fill="#111"/>
<line x1="161.34" y1="110.63" x2="159.93" y2="98.01" stroke="#4a4a4a" stroke-width="0.95"/>
<line x1="163.83" y1="110.35" x2="162.41" y2="97.73" stroke="#4a4a4a" stroke-width="0.95"/>
<text x="160.63" y="97.10" font-size="10.2" text-anchor="middle" fill="#2a2a2a">O</text>
<line x1="162.58" y1="110.49" x2="174.13" y2="115.54" stroke="#4a4a4a" stroke-width="0.95" stroke-linecap="round"/>
<text x="174.36" y="121.30" font-size="10.2" text-anchor="start" fill="#2a2a2a">OH</text>
<line x1="61.65" y1="146.80" x2="61.65" y2="164.50" stroke="#4a4a4a" stroke-width="0.95" stroke-linecap="round"/>
<line x1="61.65" y1="164.50" x2="46.32" y2="173.35" stroke="#4a4a4a" stroke-width="0.95" stroke-linecap="round"/>
<line x1="46.32" y1="173.35" x2="30.99" y2="164.50" stroke="#4a4a4a" stroke-width="0.95" stroke-linecap="round"/>
<line x1="30.99" y1="164.50" x2="30.99" y2="146.80" stroke="#4a4a4a" stroke-width="0.95" stroke-linecap="round"/>
<line x1="30.99" y1="146.80" x2="46.32" y2="137.95" stroke="#4a4a4a" stroke-width="0.95" stroke-linecap="round"/>
<line x1="33.69" y1="162.02" x2="33.69" y2="149.28" stroke="#4a4a4a" stroke-width="0.95" stroke-linecap="round"/>
<line x1="58.15" y1="163.40" x2="47.12" y2="169.77" stroke="#4a4a4a" stroke-width="0.95" stroke-linecap="round"/>
<line x1="30.99" y1="164.50" x2="20.08" y2="170.80" stroke="#4a4a4a" stroke-width="0.95" stroke-linecap="round"/>
<text x="19.77" y="177.00" font-size="10.2" text-anchor="end" fill="#2a2a2a">H<tspan font-size="6" dy="2">2</tspan><tspan dy="-2">N</tspan></text>
<text x="81.00" y="167.80" font-size="9.6" text-anchor="start" fill="#2a2a2a">NH<tspan font-size="6.2" dy="2">2</tspan><tspan dy="-2">-NpLH2</tspan></text>
<line x1="61.65" y1="201.20" x2="76.98" y2="210.05" stroke="#4a4a4a" stroke-width="0.95" stroke-linecap="round"/>
<line x1="76.98" y1="210.05" x2="76.98" y2="227.75" stroke="#4a4a4a" stroke-width="0.95" stroke-linecap="round"/>
<line x1="76.98" y1="227.75" x2="61.65" y2="236.60" stroke="#4a4a4a" stroke-width="0.95" stroke-linecap="round"/>
<line x1="61.65" y1="236.60" x2="46.32" y2="227.75" stroke="#4a4a4a" stroke-width="0.95" stroke-linecap="round"/>
<line x1="46.32" y1="227.75" x2="46.32" y2="210.05" stroke="#4a4a4a" stroke-width="0.95" stroke-linecap="round"/>
<line x1="46.32" y1="210.05" x2="61.65" y2="201.20" stroke="#4a4a4a" stroke-width="0.95" stroke-linecap="round"/>
<line x1="62.45" y1="204.78" x2="73.48" y2="211.15" stroke="#4a4a4a" stroke-width="0.95" stroke-linecap="round"/>
<line x1="73.48" y1="226.65" x2="62.45" y2="233.02" stroke="#4a4a4a" stroke-width="0.95" stroke-linecap="round"/>
<line x1="49.02" y1="225.27" x2="49.02" y2="212.53" stroke="#4a4a4a" stroke-width="0.95" stroke-linecap="round"/>
<line x1="76.98" y1="210.05" x2="89.44" y2="206.00" stroke="#4a4a4a" stroke-width="0.95" stroke-linecap="round"/>
<line x1="96.52" y1="208.30" x2="104.22" y2="218.90" stroke="#4a4a4a" stroke-width="0.95" stroke-linecap="round"/>
<line x1="94.61" y1="209.93" x2="100.67" y2="218.27" stroke="#4a4a4a" stroke-width="0.95" stroke-linecap="round"/>
<line x1="104.22" y1="218.90" x2="96.52" y2="229.50" stroke="#4a4a4a" stroke-width="0.95" stroke-linecap="round"/>
<line x1="89.44" y1="231.80" x2="76.98" y2="227.75" stroke="#4a4a4a" stroke-width="0.95" stroke-linecap="round"/>
<text x="93.81" y="208.58" font-size="10.2" text-anchor="middle" fill="#2a2a2a">N</text>
<text x="93.81" y="237.22" font-size="10.2" text-anchor="middle" fill="#2a2a2a">S</text>
<line x1="104.22" y1="218.90" x2="121.92" y2="218.90" stroke="#4a4a4a" stroke-width="0.95" stroke-linecap="round"/>
<line x1="121.92" y1="218.90" x2="129.62" y2="208.30" stroke="#4a4a4a" stroke-width="0.95" stroke-linecap="round"/>
<line x1="125.47" y1="218.27" x2="131.52" y2="209.93" stroke="#4a4a4a" stroke-width="0.95" stroke-linecap="round"/>
<line x1="136.69" y1="206.00" x2="149.15" y2="210.05" stroke="#4a4a4a" stroke-width="0.95" stroke-linecap="round"/>
<line x1="149.15" y1="210.05" x2="149.15" y2="227.75" stroke="#4a4a4a" stroke-width="0.95" stroke-linecap="round"/>
<line x1="149.15" y1="227.75" x2="136.69" y2="231.80" stroke="#4a4a4a" stroke-width="0.95" stroke-linecap="round"/>
<line x1="129.62" y1="229.50" x2="121.92" y2="218.90" stroke="#4a4a4a" stroke-width="0.95" stroke-linecap="round"/>
<text x="132.32" y="208.58" font-size="10.2" text-anchor="middle" fill="#2a2a2a">N</text>
<text x="132.32" y="237.22" font-size="10.2" text-anchor="middle" fill="#2a2a2a">S</text>
<polygon points="149.15,210.05 163.64,201.75 161.53,198.84" fill="#111"/>
<line x1="161.34" y1="200.43" x2="159.93" y2="187.81" stroke="#4a4a4a" stroke-width="0.95"/>
<line x1="163.83" y1="200.15" x2="162.41" y2="187.53" stroke="#4a4a4a" stroke-width="0.95"/>
<text x="160.63" y="186.90" font-size="10.2" text-anchor="middle" fill="#2a2a2a">O</text>
<line x1="162.58" y1="200.29" x2="174.13" y2="205.34" stroke="#4a4a4a" stroke-width="0.95" stroke-linecap="round"/>
<text x="174.36" y="211.10" font-size="10.2" text-anchor="start" fill="#2a2a2a">OH</text>
<line x1="61.65" y1="236.60" x2="61.65" y2="254.30" stroke="#4a4a4a" stroke-width="0.95" stroke-linecap="round"/>
<line x1="61.65" y1="254.30" x2="46.32" y2="263.15" stroke="#4a4a4a" stroke-width="0.95" stroke-linecap="round"/>
<line x1="46.32" y1="263.15" x2="30.99" y2="254.30" stroke="#4a4a4a" stroke-width="0.95" stroke-linecap="round"/>
<line x1="30.99" y1="254.30" x2="30.99" y2="236.60" stroke="#4a4a4a" stroke-width="0.95" stroke-linecap="round"/>
<line x1="30.99" y1="236.60" x2="46.32" y2="227.75" stroke="#4a4a4a" stroke-width="0.95" stroke-linecap="round"/>
<line x1="33.69" y1="251.82" x2="33.69" y2="239.08" stroke="#4a4a4a" stroke-width="0.95" stroke-linecap="round"/>
<line x1="58.15" y1="253.20" x2="47.12" y2="259.57" stroke="#4a4a4a" stroke-width="0.95" stroke-linecap="round"/>
<line x1="30.99" y1="254.30" x2="20.08" y2="260.60" stroke="#4a4a4a" stroke-width="0.95" stroke-linecap="round"/>
<text x="20.07" y="266.80" font-size="10.2" text-anchor="end" fill="#2a2a2a">HO</text>
<text x="82.80" y="254.80" font-size="9.6" text-anchor="start" fill="#2a2a2a">OH-NpLH2</text>
<defs>
<radialGradient id="gG" cx="0.4" cy="0.38" r="0.68"><stop offset="0" stop-color="#62d45e"/><stop offset="0.6" stop-color="#40bd40"/><stop offset="1" stop-color="#2a922c"/></radialGradient>
<radialGradient id="gH" cx="0.38" cy="0.35" r="0.7"><stop offset="0" stop-color="#e4e4e4"/><stop offset="0.6" stop-color="#b0b0b0"/><stop offset="1" stop-color="#7c7c7c"/></radialGradient>
<radialGradient id="gO" cx="0.38" cy="0.35" r="0.7"><stop offset="0" stop-color="#e86a6a"/><stop offset="0.6" stop-color="#c43232"/><stop offset="1" stop-color="#8a1a1a"/></radialGradient>
<radialGradient id="gN" cx="0.38" cy="0.35" r="0.7"><stop offset="0" stop-color="#b4b8f0"/><stop offset="0.6" stop-color="#7c80d0"/><stop offset="1" stop-color="#5055a0"/></radialGradient>
<radialGradient id="gS" cx="0.38" cy="0.35" r="0.7"><stop offset="0" stop-color="#e8c070"/><stop offset="0.6" stop-color="#d09a40"/><stop offset="1" stop-color="#a07020"/></radialGradient>
<clipPath id="clipB"><rect x="0" y="314" width="188" height="133"/></clipPath>
</defs>
<g clip-path="url(#clipB)" stroke-linecap="round" stroke-linejoin="round" fill="none">
<path d="M1,362 C4,372 12,372 17,366 C20,362 22,358 28,356" stroke="#dedede" stroke-width="4.5"/>
<path d="M104.6,315 C104,326 108,336 119,338 C128,339 136,332 139,326" stroke="#dedede" stroke-width="5"/>
<path d="M138,326 C130,336 122,345 116,352" stroke="#dedede" stroke-width="6"/>
<path d="M22,392 C32,386 46,382 62,380" stroke="#e9e9e9" stroke-width="7"/>
<path d="M38,414 C52,410 66,407 82,405" stroke="#e9e9e9" stroke-width="7"/>
<path d="M18,436 C32,430 46,426 62,423" stroke="#e9e9e9" stroke-width="6"/>
<path d="M184,343 C176,348 172,354 172,362 C172,370 172,376 172,380" stroke="#d4d4d4" stroke-width="2.5"/>
<path d="M134,419 C136,428 138,436 146,440 C150,442 154,442 158,442" stroke="#d6d6d6" stroke-width="4"/>
<path d="M176,430 C172,436 170,440 168,446" stroke="#d6d6d6" stroke-width="4"/>
<path d="M35,430 C50,422 62,412 77,407" stroke="#d2d2d2" stroke-width="7"/>
<path d="M34,314 C24,318 19,326 19.5,334 C20,340 21,344 23,347" stroke="#7a7a7a" stroke-width="3.0"/>
<path d="M34,314 C24,318 19,326 19.5,334 C20,340 21,344 23,347" stroke="#b0b0b0" stroke-width="1.35" transform="translate(-0.3,-0.4)"/>
<path d="M53,314 C58,320 64,327 70,331 C76,335 82,338 90,340" stroke="#a8a8a8" stroke-width="2.8"/>
<path d="M53,314 C58,320 64,327 70,331 C76,335 82,338 90,340" stroke="#d4d4d4" stroke-width="1.26" transform="translate(-0.3,-0.4)"/>
<path d="M136.7,314 C141,320 146,326 146,334 C146,344 144,352 136,357 C126,362 114,358 104,354" stroke="#a0a0a0" stroke-width="2.8"/>
<path d="M136.7,314 C141,320 146,326 146,334 C146,344 144,352 136,357 C126,362 114,358 104,354" stroke="#d0d0d0" stroke-width="1.26" transform="translate(-0.3,-0.4)"/>
<path d="M22,355 C45,354 70,355 92,358 C102,361 110,368 116,376" stroke="#a8a8a8" stroke-width="4.5"/>
<path d="M22,355 C45,354 70,355 92,358 C102,361 110,368 116,376" stroke="#d4d4d4" stroke-width="1.8"/>
<path d="M27,348.5 C45,347 70,347 92,350 C112,353 130,364 143,379" stroke="#8c8c8c" stroke-width="5"/>
<path d="M27,348.5 C45,347 70,347 92,350 C112,353 130,364 143,379" stroke="#c4c4c4" stroke-width="2"/>
<path d="M52,400 C52,390 50,383 42,381 C34,379 27,382 26,390 C25,400 28,410 34,421 C38,428 44,432 52,434 C56,435 60,434 62,433" stroke="#656565" stroke-width="3.0"/>
<path d="M52,400 C52,390 50,383 42,381 C34,379 27,382 26,390 C25,400 28,410 34,421 C38,428 44,432 52,434 C56,435 60,434 62,433" stroke="#a0a0a0" stroke-width="1.35" transform="translate(-0.3,-0.4)"/>
<path d="M51,402 C44,408 38,413 32,418 C24,425 16,436 8,447" stroke="#707070" stroke-width="3.0"/>
<path d="M51,402 C44,408 38,413 32,418 C24,425 16,436 8,447" stroke="#a8a8a8" stroke-width="1.35" transform="translate(-0.3,-0.4)"/>
<path d="M30,425 C32,432 34,440 36,447" stroke="#8a8a8a" stroke-width="2.0"/>
<path d="M30,425 C32,432 34,440 36,447" stroke="#b8b8b8" stroke-width="0.90" transform="translate(-0.3,-0.4)"/>
<circle cx="67.5" cy="375.5" r="5.0" fill="url(#gH)" stroke="none"/>
<circle cx="80" cy="369.5" r="5.0" fill="url(#gH)" stroke="none"/>
<circle cx="94" cy="369" r="4.6" fill="url(#gH)" stroke="none"/>
<circle cx="70" cy="403" r="5.0" fill="url(#gH)" stroke="none"/>
<circle cx="80" cy="414.5" r="5.2" fill="url(#gH)" stroke="none"/>
<circle cx="93" cy="420" r="5.0" fill="url(#gH)" stroke="none"/>
<circle cx="106" cy="418" r="4.8" fill="url(#gH)" stroke="none"/>
<circle cx="150" cy="405.5" r="5.0" fill="url(#gH)" stroke="none"/>
<circle cx="139" cy="411" r="4.6" fill="url(#gH)" stroke="none"/>
<circle cx="120" cy="376" r="4.2" fill="url(#gH)" stroke="none"/>
<circle cx="65" cy="385.5" r="6.0" fill="url(#gO)" stroke="none"/>
<circle cx="144.5" cy="374.5" r="6.4" fill="url(#gO)" stroke="none"/>
<circle cx="155.5" cy="389" r="6.8" fill="url(#gO)" stroke="none"/>
<path d="M70,378 C78,369 92,368 102,374 C110,380 116,392 118,404 C118,412 110,418 100,418 C88,418 76,412 71,402 C68,394 67,385 70,378 Z" fill="#35a838" stroke="none"/>
<path d="M120,388 C126,380 140,380 148,386 C154,392 152,404 146,410 C138,414 126,412 121,404 C118,398 118,392 120,388 Z" fill="#35a838" stroke="none"/>
<circle cx="79" cy="386" r="7.6" fill="url(#gG)" stroke="none"/>
<circle cx="94" cy="381" r="7.6" fill="url(#gG)" stroke="none"/>
<circle cx="76" cy="398" r="7.2" fill="url(#gG)" stroke="none"/>
<circle cx="90" cy="397" r="7.8" fill="url(#gG)" stroke="none"/>
<circle cx="101" cy="390" r="7.6" fill="url(#gG)" stroke="none"/>
<circle cx="106" cy="400" r="7.0" fill="url(#gG)" stroke="none"/>
<circle cx="84" cy="408" r="7.4" fill="url(#gG)" stroke="none"/>
<circle cx="95" cy="408" r="7.6" fill="url(#gG)" stroke="none"/>
<circle cx="104" cy="410" r="6.8" fill="url(#gG)" stroke="none"/>
<circle cx="112" cy="386.5" r="7.0" fill="url(#gS)" stroke="none"/>
<circle cx="114.5" cy="406.5" r="6.4" fill="url(#gN)" stroke="none"/>
<circle cx="130.1" cy="386.5" r="6.6" fill="url(#gN)" stroke="none"/>
<circle cx="122" cy="396" r="6.8" fill="url(#gG)" stroke="none"/>
<circle cx="131" cy="398" r="7.0" fill="url(#gG)" stroke="none"/>
<circle cx="143" cy="402" r="6.8" fill="url(#gG)" stroke="none"/>
<circle cx="140" cy="393" r="6.8" fill="url(#gG)" stroke="none"/>
<circle cx="147" cy="393" r="6.2" fill="url(#gG)" stroke="none"/>
<circle cx="131" cy="410" r="6.8" fill="url(#gS)" stroke="none"/>
<circle cx="140" cy="405.5" r="6.0" fill="url(#gG)" stroke="none"/>
<circle cx="92.6" cy="380.6" r="0.85" fill="#f0ffd0" stroke="none"/>
<circle cx="77.3" cy="384.9" r="0.85" fill="#f0ffd0" stroke="none"/>
<circle cx="95" cy="389.4" r="0.85" fill="#f0ffd0" stroke="none"/>
<circle cx="103" cy="392.1" r="0.85" fill="#f0ffd0" stroke="none"/>
<circle cx="88.5" cy="396.1" r="0.85" fill="#f0ffd0" stroke="none"/>
<circle cx="105.4" cy="402.1" r="0.85" fill="#f0ffd0" stroke="none"/>
<circle cx="91" cy="405.4" r="0.85" fill="#f0ffd0" stroke="none"/>
<circle cx="99" cy="407.9" r="0.85" fill="#f0ffd0" stroke="none"/>
<circle cx="127.1" cy="395.7" r="0.85" fill="#f0ffd0" stroke="none"/>
<circle cx="141.5" cy="400.1" r="0.85" fill="#f0ffd0" stroke="none"/>
<circle cx="136" cy="391" r="0.85" fill="#f0ffd0" stroke="none"/>
<circle cx="146.5" cy="391.5" r="0.85" fill="#f0ffd0" stroke="none"/>
<circle cx="129" cy="384" r="1.0" fill="#e8e8ff"/>
<circle cx="154" cy="386" r="1.0" fill="#ffd8d8"/>
<path d="M96,314 C93,320 90,328 89,336 C88,350 87,362 85,372 C83,384 80,394 79,404" stroke="#808080" stroke-width="3.0"/>
<path d="M96,314 C93,320 90,328 89,336 C88,350 87,362 85,372 C83,384 80,394 79,404" stroke="#bcbcbc" stroke-width="1.35" transform="translate(-0.3,-0.4)"/>
<path d="M57.84,350.99 L58.92,351.12 L60.27,351.26 L61.86,351.41 L63.63,351.57 L65.55,351.74 L67.58,351.93 L69.67,352.14 L71.79,352.36 L73.88,352.60 L75.91,352.87 L77.83,353.16 L79.60,353.47 L81.28,353.79 L82.96,354.14 L84.63,354.52 L86.29,354.92 L87.94,355.35 L89.58,355.79 L91.22,356.25 L92.84,356.72 L94.45,357.19 L96.05,357.68 L97.65,358.16 L99.23,358.64 L100.79,359.12 L102.31,359.59 L103.81,360.07 L105.30,360.55 L106.77,361.04 L108.22,361.54 L109.67,362.05 L111.11,362.57 L112.56,363.10 L114.00,363.65 L115.45,364.21 L116.92,364.80 L118.43,365.38 L119.96,365.98 L121.49,366.58 L123.03,367.19 L124.56,367.81 L126.07,368.45 L127.57,369.10 L129.03,369.76 L130.47,370.44 L131.85,371.13 L133.19,371.85 L134.47,372.58 L135.71,373.34 L136.92,374.13 L138.09,374.94 L139.25,375.78 L140.38,376.64 L141.49,377.52 L142.59,378.42 L143.67,379.35 L144.75,380.29 L145.82,381.25 L146.89,382.22 L147.96,383.20 L149.03,384.18 L150.10,385.20 L151.18,386.26 L152.26,387.34 L153.32,388.45 L154.37,389.56 L155.40,390.67 L156.39,391.76 L157.34,392.82 L158.24,393.84 L159.09,394.82 L159.87,395.73 L160.56,396.57 L161.18,397.36 L161.75,398.10 L162.27,398.82 L162.75,399.52 L163.21,400.20 L163.65,400.88 L164.08,401.55 L164.51,402.23 L164.96,402.93 L165.42,403.63 L165.89,404.35 L166.38,405.06 L166.87,405.80 L167.37,406.56 L167.88,407.32 L168.37,408.07 L168.86,408.81 L169.32,409.52 L169.76,410.19 L170.16,410.80 L170.52,411.35 L170.83,411.81 L171.09,412.19 L174.91,409.81 L174.69,409.42 L174.42,408.94 L174.09,408.37 L173.73,407.74 L173.32,407.05 L172.89,406.31 L172.44,405.54 L171.98,404.76 L171.50,403.96 L171.03,403.17 L170.56,402.39 L170.11,401.65 L169.69,400.96 L169.30,400.28 L168.91,399.59 L168.51,398.89 L168.10,398.17 L167.66,397.42 L167.20,396.65 L166.69,395.84 L166.14,395.00 L165.53,394.13 L164.87,393.22 L164.13,392.27 L163.35,391.28 L162.50,390.24 L161.60,389.15 L160.65,388.02 L159.66,386.87 L158.63,385.69 L157.57,384.51 L156.48,383.32 L155.38,382.15 L154.27,381.00 L153.15,379.88 L152.04,378.80 L150.94,377.79 L149.84,376.79 L148.72,375.79 L147.59,374.80 L146.44,373.82 L145.26,372.85 L144.06,371.90 L142.83,370.96 L141.56,370.04 L140.26,369.15 L138.92,368.27 L137.53,367.42 L136.09,366.60 L134.61,365.81 L133.10,365.05 L131.56,364.32 L130.00,363.61 L128.43,362.93 L126.85,362.27 L125.27,361.62 L123.70,361.00 L122.14,360.39 L120.60,359.79 L119.08,359.20 L117.56,358.64 L116.05,358.10 L114.54,357.57 L113.04,357.06 L111.53,356.57 L110.03,356.08 L108.52,355.61 L107.00,355.15 L105.47,354.69 L103.92,354.25 L102.35,353.80 L100.77,353.36 L99.17,352.92 L97.56,352.47 L95.92,352.02 L94.27,351.58 L92.60,351.14 L90.92,350.71 L89.21,350.29 L87.49,349.89 L85.74,349.51 L83.98,349.16 L82.21,348.83 L80.40,348.53 L78.51,348.29 L76.48,348.07 L74.37,347.88 L72.21,347.71 L70.05,347.57 L67.92,347.44 L65.86,347.34 L63.92,347.25 L62.14,347.17 L60.56,347.10 L59.22,347.05 L58.16,347.01 Z" fill="#888888" stroke="none"/>
<path d="M57.94,349.80 L59.01,349.90 L60.36,350.01 L61.94,350.14 L63.72,350.27 L65.65,350.42 L67.68,350.58 L69.79,350.77 L71.92,350.97 L74.03,351.19 L76.08,351.43 L78.03,351.70 L79.84,351.99 L81.56,352.30 L83.27,352.64 L84.97,353.02 L86.65,353.41 L88.32,353.83 L89.98,354.27 L91.63,354.72 L93.27,355.18 L94.89,355.64 L96.51,356.11 L98.11,356.59 L99.69,357.06 L101.26,357.52 L102.79,357.99 L104.31,358.46 L105.81,358.93 L107.29,359.41 L108.76,359.90 L110.23,360.40 L111.69,360.92 L113.15,361.44 L114.61,361.98 L116.08,362.54 L117.57,363.12 L119.08,363.71 L120.61,364.30 L122.15,364.91 L123.70,365.52 L125.24,366.15 L126.78,366.79 L128.30,367.45 L129.79,368.13 L131.25,368.82 L132.68,369.54 L134.06,370.27 L135.39,371.03 L136.67,371.82 L137.92,372.63 L139.13,373.47 L140.32,374.33 L141.48,375.22 L142.62,376.12 L143.74,377.04 L144.85,377.98 L145.94,378.94 L147.03,379.91 L148.11,380.89 L149.18,381.88 L150.26,382.89 L151.35,383.94 L152.44,385.02 L153.53,386.14 L154.60,387.27 L155.65,388.40 L156.67,389.53 L157.67,390.64 L158.62,391.72 L159.52,392.76 L160.36,393.76 L161.15,394.69 L161.85,395.56 L162.49,396.39 L163.07,397.17 L163.60,397.93 L164.09,398.66 L164.55,399.37 L164.99,400.07 L165.41,400.75 L165.83,401.44 L166.26,402.13 L166.70,402.83 L167.16,403.54 L167.63,404.26 L168.12,405.01 L168.61,405.78 L169.11,406.55 L169.59,407.32 L170.07,408.06 L170.52,408.78 L170.95,409.45 L171.34,410.07 L171.69,410.62 L171.99,411.10 L172.24,411.48 L173.76,410.52 L173.53,410.14 L173.25,409.66 L172.91,409.10 L172.53,408.47 L172.12,407.79 L171.68,407.06 L171.22,406.30 L170.75,405.52 L170.26,404.74 L169.78,403.96 L169.30,403.19 L168.84,402.46 L168.41,401.76 L168.00,401.08 L167.59,400.39 L167.18,399.69 L166.76,398.98 L166.33,398.26 L165.86,397.51 L165.37,396.74 L164.82,395.93 L164.23,395.10 L163.57,394.22 L162.85,393.31 L162.07,392.34 L161.22,391.32 L160.32,390.25 L159.37,389.14 L158.38,388.01 L157.35,386.85 L156.29,385.69 L155.22,384.53 L154.12,383.38 L153.02,382.26 L151.91,381.17 L150.82,380.12 L149.73,379.12 L148.63,378.12 L147.53,377.14 L146.41,376.17 L145.28,375.20 L144.13,374.25 L142.95,373.32 L141.75,372.41 L140.52,371.51 L139.26,370.64 L137.95,369.79 L136.61,368.97 L135.22,368.17 L133.78,367.40 L132.31,366.66 L130.80,365.95 L129.27,365.26 L127.72,364.58 L126.16,363.93 L124.60,363.29 L123.03,362.67 L121.48,362.06 L119.95,361.47 L118.43,360.88 L116.93,360.31 L115.43,359.76 L113.94,359.23 L112.46,358.71 L110.97,358.21 L109.49,357.72 L107.99,357.24 L106.49,356.77 L104.97,356.31 L103.44,355.85 L101.88,355.40 L100.31,354.94 L98.71,354.49 L97.11,354.03 L95.48,353.58 L93.84,353.12 L92.19,352.67 L90.52,352.23 L88.83,351.81 L87.13,351.40 L85.41,351.02 L83.68,350.65 L81.93,350.32 L80.16,350.01 L78.30,349.75 L76.31,349.51 L74.22,349.30 L72.08,349.11 L69.94,348.94 L67.82,348.79 L65.77,348.66 L63.84,348.54 L62.06,348.44 L60.47,348.35 L59.13,348.27 L58.06,348.20 Z" fill="#bdbdbd" stroke="none"/>
<path d="M90,358 C100,362 108,366 114,374" stroke="#909090" stroke-width="3.5"/>
<path d="M102,375 C108,384 114,394 120,404 C122,408 123,412 124,416" stroke="#8a8a8a" stroke-width="4.2"/>
<path d="M102,375 C108,384 114,394 120,404 C122,408 123,412 124,416" stroke="#bdbdbd" stroke-width="1.6"/>
<path d="M166.93,314.12 L166.42,315.10 L165.81,316.33 L165.10,317.77 L164.33,319.40 L163.48,321.17 L162.59,323.05 L161.67,325.00 L160.73,327.00 L159.78,329.00 L158.83,330.97 L157.91,332.88 L157.03,334.68 L156.17,336.41 L155.29,338.12 L154.40,339.83 L153.50,341.54 L152.59,343.28 L151.67,345.03 L150.74,346.81 L149.81,348.63 L148.87,350.49 L147.94,352.40 L147.00,354.37 L146.07,356.39 L145.21,358.52 L144.36,360.70 L143.50,362.94 L142.65,365.22 L141.79,367.53 L140.94,369.86 L140.10,372.20 L139.26,374.53 L138.43,376.84 L137.61,379.12 L136.80,381.36 L136.01,383.54 L135.28,385.72 L134.55,387.90 L133.82,390.06 L133.10,392.22 L132.38,394.36 L131.67,396.49 L130.97,398.60 L130.28,400.70 L129.61,402.78 L128.95,404.83 L128.31,406.86 L127.69,408.87 L127.12,410.94 L126.55,413.08 L125.97,415.27 L125.40,417.46 L124.85,419.63 L124.31,421.74 L123.81,423.76 L123.35,425.67 L122.94,427.41 L122.59,428.97 L122.30,430.31 L122.09,431.40 L125.91,432.60 L126.36,431.58 L126.89,430.31 L127.48,428.82 L128.13,427.15 L128.83,425.32 L129.56,423.38 L130.33,421.36 L131.12,419.28 L131.92,417.18 L132.73,415.10 L133.53,413.07 L134.31,411.13 L135.04,409.19 L135.79,407.23 L136.56,405.24 L137.35,403.23 L138.14,401.19 L138.95,399.14 L139.78,397.06 L140.61,394.97 L141.45,392.86 L142.29,390.74 L143.14,388.60 L143.99,386.46 L144.79,384.25 L145.61,382.00 L146.43,379.71 L147.26,377.40 L148.09,375.08 L148.93,372.76 L149.77,370.46 L150.61,368.19 L151.45,365.95 L152.29,363.77 L153.11,361.65 L153.93,359.61 L154.67,357.61 L155.42,355.67 L156.17,353.76 L156.93,351.89 L157.69,350.05 L158.46,348.22 L159.22,346.41 L159.98,344.60 L160.74,342.80 L161.49,340.98 L162.24,339.16 L162.97,337.32 L163.72,335.42 L164.49,333.43 L165.29,331.37 L166.09,329.30 L166.88,327.23 L167.66,325.20 L168.39,323.25 L169.08,321.42 L169.71,319.73 L170.26,318.22 L170.72,316.93 L171.07,315.88 Z" fill="#767676" stroke="none"/>
<path d="M168.07,314.60 L167.60,315.60 L167.03,316.85 L166.37,318.31 L165.63,319.95 L164.83,321.74 L163.99,323.64 L163.10,325.62 L162.20,327.63 L161.29,329.65 L160.39,331.65 L159.51,333.58 L158.66,335.41 L157.84,337.16 L157.00,338.91 L156.14,340.64 L155.28,342.39 L154.41,344.14 L153.54,345.91 L152.65,347.70 L151.77,349.53 L150.88,351.39 L149.99,353.30 L149.11,355.26 L148.23,357.28 L147.39,359.38 L146.54,361.54 L145.69,363.77 L144.84,366.04 L143.99,368.34 L143.14,370.66 L142.30,372.99 L141.46,375.32 L140.63,377.63 L139.81,379.91 L139.00,382.15 L138.20,384.34 L137.44,386.51 L136.68,388.68 L135.92,390.83 L135.16,392.97 L134.41,395.10 L133.67,397.22 L132.94,399.31 L132.23,401.39 L131.52,403.45 L130.83,405.49 L130.16,407.50 L129.51,409.49 L128.88,411.53 L128.25,413.64 L127.61,415.80 L126.97,417.96 L126.35,420.10 L125.76,422.19 L125.19,424.19 L124.67,426.07 L124.19,427.80 L123.77,429.34 L123.42,430.66 L123.14,431.73 L124.86,432.27 L125.24,431.23 L125.71,429.94 L126.23,428.43 L126.82,426.74 L127.45,424.90 L128.12,422.93 L128.82,420.88 L129.55,418.78 L130.28,416.66 L131.03,414.55 L131.77,412.49 L132.49,410.51 L133.19,408.55 L133.91,406.57 L134.65,404.56 L135.40,402.53 L136.17,400.48 L136.95,398.41 L137.74,396.32 L138.54,394.21 L139.35,392.09 L140.16,389.96 L140.98,387.81 L141.80,385.66 L142.60,383.46 L143.41,381.21 L144.23,378.92 L145.06,376.61 L145.89,374.29 L146.73,371.97 L147.58,369.66 L148.42,367.37 L149.27,365.12 L150.11,362.92 L150.94,360.79 L151.77,358.72 L152.56,356.72 L153.36,354.77 L154.17,352.86 L154.97,350.99 L155.78,349.16 L156.59,347.34 L157.40,345.55 L158.20,343.76 L159.00,341.98 L159.79,340.20 L160.57,338.40 L161.34,336.59 L162.12,334.72 L162.93,332.75 L163.77,330.72 L164.61,328.67 L165.45,326.62 L166.26,324.61 L167.04,322.68 L167.77,320.86 L168.44,319.19 L169.03,317.70 L169.53,316.42 L169.93,315.40 Z" fill="#aeaeae" stroke="none"/>
<path d="M170.96,317.00 L171.34,317.03 L171.82,317.04 L172.35,317.05 L172.92,317.05 L173.53,317.05 L174.15,317.06 L174.78,317.09 L175.40,317.14 L175.98,317.22 L176.50,317.33 L176.95,317.45 L177.34,317.62 L177.77,317.84 L178.23,318.09 L178.67,318.35 L179.09,318.62 L179.50,318.92 L179.88,319.23 L180.23,319.57 L180.56,319.94 L180.87,320.34 L181.16,320.78 L181.43,321.26 L181.67,321.81 L181.90,322.43 L182.11,323.15 L182.30,323.96 L182.48,324.83 L182.64,325.77 L182.77,326.75 L182.89,327.77 L182.99,328.83 L183.08,329.90 L183.15,330.98 L183.21,332.06 L183.25,333.12 L183.28,334.19 L183.29,335.27 L183.29,336.39 L183.26,337.53 L183.22,338.68 L183.16,339.84 L183.08,341.01 L183.00,342.18 L182.89,343.34 L182.78,344.49 L182.65,345.62 L182.52,346.72 L182.36,347.80 L182.19,348.89 L182.00,349.97 L181.79,351.06 L181.57,352.15 L181.33,353.23 L181.09,354.30 L180.84,355.35 L180.59,356.39 L180.33,357.40 L180.08,358.40 L179.83,359.35 L179.58,360.27 L179.34,361.14 L179.09,361.99 L178.83,362.81 L178.58,363.62 L178.31,364.41 L178.05,365.18 L177.78,365.95 L177.51,366.72 L177.23,367.48 L176.95,368.25 L176.66,369.02 L176.43,369.80 L176.19,370.59 L175.94,371.39 L175.67,372.20 L175.40,373.00 L175.13,373.79 L174.87,374.57 L174.60,375.33 L174.35,376.07 L174.11,376.78 L173.88,377.45 L173.68,378.08 L173.49,378.67 L173.31,379.23 L173.14,379.77 L172.98,380.28 L172.83,380.77 L172.69,381.22 L172.57,381.65 L172.45,382.04 L172.35,382.40 L172.27,382.72 L172.20,383.01 L172.14,383.25 L175.86,384.75 L175.99,384.53 L176.13,384.28 L176.29,383.99 L176.47,383.66 L176.66,383.30 L176.87,382.90 L177.09,382.47 L177.31,382.01 L177.55,381.53 L177.80,381.01 L178.06,380.48 L178.32,379.92 L178.60,379.34 L178.90,378.71 L179.21,378.04 L179.55,377.34 L179.89,376.60 L180.24,375.83 L180.60,375.05 L180.96,374.25 L181.31,373.43 L181.66,372.61 L182.01,371.79 L182.34,370.98 L182.59,370.17 L182.84,369.37 L183.09,368.56 L183.33,367.75 L183.57,366.93 L183.81,366.09 L184.05,365.24 L184.28,364.37 L184.51,363.48 L184.73,362.56 L184.96,361.62 L185.17,360.65 L185.39,359.65 L185.61,358.63 L185.83,357.58 L186.05,356.50 L186.27,355.40 L186.48,354.27 L186.68,353.13 L186.88,351.97 L187.06,350.81 L187.22,349.63 L187.36,348.45 L187.48,347.28 L187.59,346.11 L187.68,344.92 L187.75,343.71 L187.82,342.49 L187.87,341.26 L187.90,340.03 L187.92,338.80 L187.93,337.58 L187.91,336.37 L187.88,335.18 L187.82,334.01 L187.75,332.88 L187.66,331.76 L187.55,330.63 L187.44,329.49 L187.30,328.36 L187.15,327.23 L186.98,326.12 L186.78,325.04 L186.56,323.98 L186.31,322.97 L186.02,321.99 L185.70,321.07 L185.33,320.19 L184.91,319.38 L184.44,318.64 L183.94,317.97 L183.40,317.36 L182.83,316.81 L182.25,316.33 L181.65,315.90 L181.05,315.52 L180.45,315.19 L179.86,314.90 L179.28,314.63 L178.66,314.38 L177.95,314.14 L177.18,313.98 L176.41,313.87 L175.64,313.82 L174.89,313.80 L174.16,313.81 L173.46,313.84 L172.82,313.88 L172.24,313.92 L171.74,313.96 L171.35,313.99 L171.04,314.00 Z" fill="#7e7e7e" stroke="none"/>
<path d="M170.98,316.10 L171.34,316.12 L171.80,316.12 L172.32,316.11 L172.89,316.10 L173.51,316.09 L174.16,316.09 L174.81,316.11 L175.47,316.15 L176.11,316.22 L176.70,316.32 L177.25,316.46 L177.74,316.65 L178.22,316.88 L178.72,317.13 L179.21,317.40 L179.68,317.69 L180.14,318.01 L180.59,318.36 L181.01,318.74 L181.41,319.16 L181.79,319.63 L182.15,320.14 L182.47,320.70 L182.77,321.32 L183.04,322.02 L183.28,322.80 L183.50,323.66 L183.70,324.58 L183.88,325.55 L184.03,326.56 L184.17,327.61 L184.29,328.69 L184.39,329.78 L184.47,330.87 L184.54,331.97 L184.60,333.05 L184.64,334.13 L184.67,335.25 L184.67,336.39 L184.66,337.54 L184.63,338.72 L184.58,339.90 L184.52,341.09 L184.44,342.27 L184.35,343.45 L184.25,344.62 L184.13,345.76 L184.01,346.89 L183.86,348.00 L183.70,349.11 L183.52,350.22 L183.32,351.34 L183.10,352.44 L182.88,353.54 L182.64,354.63 L182.40,355.70 L182.16,356.75 L181.91,357.77 L181.67,358.77 L181.43,359.74 L181.19,360.67 L180.95,361.57 L180.71,362.44 L180.47,363.28 L180.22,364.10 L179.96,364.91 L179.71,365.71 L179.45,366.49 L179.18,367.27 L178.91,368.05 L178.64,368.83 L178.37,369.61 L178.11,370.40 L177.83,371.20 L177.55,372.01 L177.26,372.81 L176.96,373.61 L176.67,374.40 L176.37,375.18 L176.09,375.93 L175.81,376.66 L175.54,377.36 L175.30,378.02 L175.07,378.63 L174.86,379.21 L174.66,379.77 L174.47,380.30 L174.28,380.80 L174.11,381.28 L173.95,381.73 L173.80,382.14 L173.66,382.53 L173.54,382.88 L173.43,383.19 L173.33,383.47 L173.26,383.70 L174.74,384.30 L174.85,384.08 L174.97,383.81 L175.11,383.51 L175.27,383.18 L175.43,382.80 L175.62,382.40 L175.81,381.96 L176.01,381.49 L176.23,381.00 L176.46,380.48 L176.69,379.93 L176.93,379.37 L177.18,378.77 L177.46,378.13 L177.75,377.45 L178.06,376.73 L178.38,375.99 L178.71,375.22 L179.04,374.43 L179.37,373.63 L179.70,372.82 L180.02,372.01 L180.34,371.20 L180.63,370.39 L180.90,369.59 L181.16,368.80 L181.41,368.01 L181.67,367.21 L181.92,366.41 L182.16,365.59 L182.41,364.76 L182.65,363.90 L182.88,363.03 L183.11,362.14 L183.34,361.21 L183.57,360.26 L183.79,359.28 L184.02,358.26 L184.26,357.22 L184.49,356.16 L184.71,355.07 L184.94,353.96 L185.15,352.84 L185.35,351.70 L185.54,350.56 L185.71,349.41 L185.86,348.26 L185.99,347.11 L186.11,345.96 L186.21,344.79 L186.30,343.60 L186.37,342.39 L186.43,341.19 L186.48,339.97 L186.51,338.77 L186.53,337.57 L186.52,336.38 L186.50,335.21 L186.46,334.07 L186.40,332.95 L186.32,331.85 L186.23,330.73 L186.13,329.62 L186.01,328.50 L185.87,327.40 L185.72,326.31 L185.54,325.26 L185.33,324.24 L185.11,323.26 L184.85,322.34 L184.56,321.48 L184.23,320.68 L183.87,319.95 L183.46,319.28 L183.02,318.68 L182.55,318.13 L182.05,317.64 L181.54,317.20 L181.01,316.81 L180.47,316.45 L179.92,316.14 L179.37,315.85 L178.82,315.60 L178.26,315.35 L177.65,315.14 L176.97,314.98 L176.28,314.88 L175.57,314.82 L174.86,314.79 L174.16,314.79 L173.48,314.80 L172.85,314.83 L172.27,314.86 L171.76,314.89 L171.34,314.90 L171.02,314.90 Z" fill="#b2b2b2" stroke="none"/>
<path d="M146,388 C156,396 164,404 170,410 C174,414 176,416 172,418 C160,422 140,428 124,432" stroke="#6e6e6e" stroke-width="3.2"/>
<path d="M124,432 C136,430 148,428 156,434 C162,438 168,442 172,446" stroke="#9a9a9a" stroke-width="3.2"/>
<path d="M65,447 C66,438 67,430 69,423" stroke="#666666" stroke-width="8"/>
<path d="M65,447 C66,438 67,430 69,423" stroke="#8e8e8e" stroke-width="3"/>
<path d="M66,423 C69,420 73,419 75,422" stroke="#777777" stroke-width="5"/>
<path d="M72,442 C80,434 90,428 98,427 C106,426 112,428 118,434 C122,438 126,443 128,447" stroke="#a9a9a9" stroke-width="7"/>
<path d="M72,442 C80,434 90,428 98,427 C106,426 112,428 118,434 C122,438 126,443 128,447" stroke="#cdcdcd" stroke-width="2.8"/>
<path d="M88,441 L95,448" stroke="#5e5e5e" stroke-width="5"/>
<path d="M40,430 C48,434 56,434 62,432" stroke="#777777" stroke-width="3.2"/>
<path d="M176,378 C174,382 172,385 170,386" stroke="#777" stroke-width="3"/>
<path d="M185,436 L185,447" stroke="#555" stroke-width="2"/>
<path d="M26,349 L31,351.5" stroke="#3f9e3f" stroke-width="3"/>
<circle cx="23" cy="347.5" r="2.4" fill="url(#gO)" stroke="none"/>
<path d="M32,352 L37,354.5" stroke="#6a70c8" stroke-width="2.8"/>
<path d="M66,336 L68,342 L79,341" stroke="#4cae4c" stroke-width="2.6"/>
<path d="M68,342 L62,352 L53,362 L46,368" stroke="#4cae4c" stroke-width="2.6"/>
<path d="M65,335 L66,333" stroke="#6a70c8" stroke-width="2.8"/>
<path d="M53,362 L50,364" stroke="#6a70c8" stroke-width="2.8"/>
<path d="M45,368 L40,372" stroke="#6a70c8" stroke-width="2.8"/>
<circle cx="80.5" cy="340.5" r="1.6" fill="url(#gO)" stroke="none"/>
</g>
<text x="24.8" y="334.6" font-size="9.2" fill="#1a1a1a">G351</text>
<text x="40.8" y="346.0" font-size="9.2" fill="#1a1a1a">R334</text>
</svg></body></html>
